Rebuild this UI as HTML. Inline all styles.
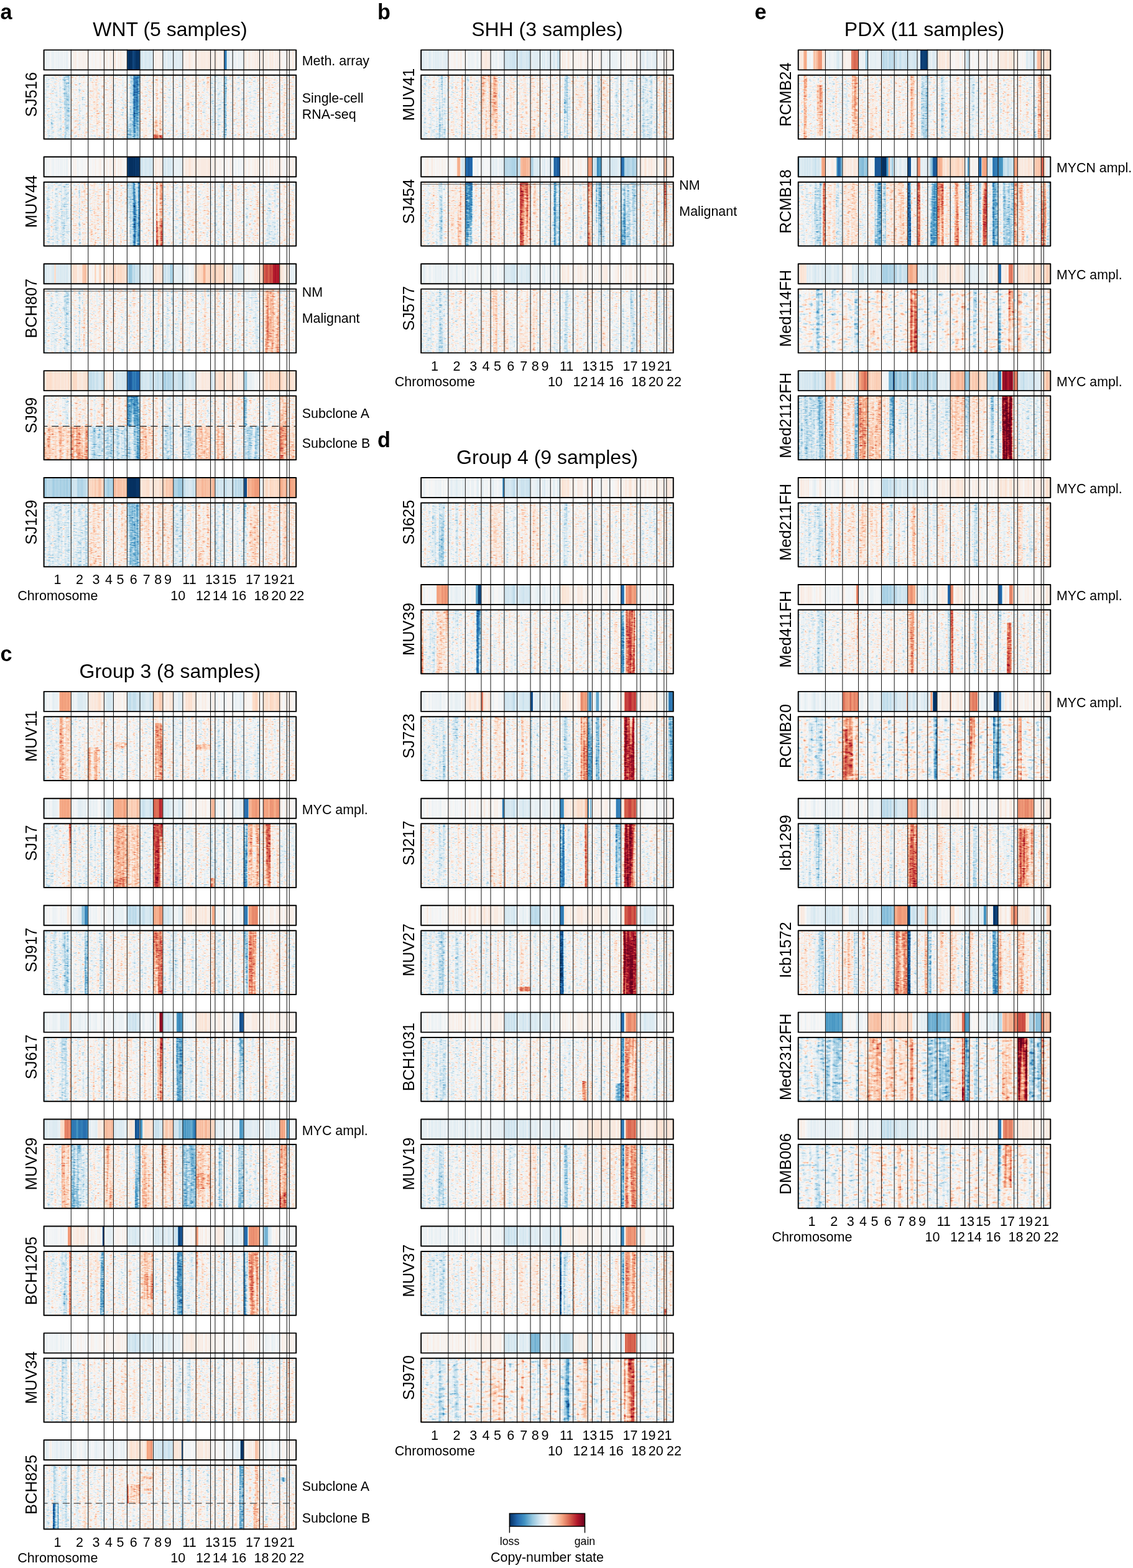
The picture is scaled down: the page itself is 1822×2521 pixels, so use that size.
<!DOCTYPE html>
<html lang="en"><head><meta charset="utf-8"><title>Copy-number state</title>
<style>
html,body{margin:0;padding:0;background:#fff}
body{width:1822px;height:2521px;overflow:hidden;position:relative}
svg{display:block;position:absolute;left:0;top:0}
text{font-family:"Liberation Sans",sans-serif;fill:#000}
.pl{font-size:34.2px;font-weight:bold}
.tt{font-size:32px;text-anchor:middle}
.sl{font-size:25.4px;text-anchor:middle}
.an{font-size:21.4px}
.ax{font-size:21.5px;text-anchor:middle}
.axl{font-size:21.5px}
.lg{font-size:17.7px;text-anchor:middle}
.lt{font-size:21.4px;text-anchor:middle}
.bx{fill:none;stroke:#000;stroke-width:1.95;stroke-linejoin:round}
.cl{stroke:#222;stroke-width:1.05;fill:none}
.ds{stroke:#222;stroke-width:1.05;stroke-dasharray:11 6.7;stroke-dashoffset:5.1;fill:none}
</style></head><body>
<svg width="1822" height="2521" viewBox="0 0 1822 2521">
<defs>
<linearGradient id="cb" x1="0" x2="1" y1="0" y2="0">
<stop offset="0" stop-color="#053061"/>
<stop offset="0.1" stop-color="#2166ac"/>
<stop offset="0.2" stop-color="#4393c3"/>
<stop offset="0.3" stop-color="#92c5de"/>
<stop offset="0.4" stop-color="#d1e5f0"/>
<stop offset="0.5" stop-color="#f7f7f7"/>
<stop offset="0.6" stop-color="#fddbc7"/>
<stop offset="0.7" stop-color="#f4a582"/>
<stop offset="0.8" stop-color="#d6604d"/>
<stop offset="0.9" stop-color="#b2182b"/>
<stop offset="1" stop-color="#67001f"/>
</linearGradient>
<filter id="fr" x="0" y="0" width="1" height="1" color-interpolation-filters="sRGB">
<feTurbulence type="fractalNoise" baseFrequency="0.16 0.5" numOctaves="3" seed="3" result="t1"/>
<feColorMatrix in="t1" type="matrix" values="1 0 0 0 0 1 0 0 0 0 1 0 0 0 0 0 0 0 0 1" result="n1"/>
<feTurbulence type="fractalNoise" baseFrequency="0.17 0.006" numOctaves="2" seed="11" result="t2"/>
<feColorMatrix in="t2" type="matrix" values="1 0 0 0 0 1 0 0 0 0 1 0 0 0 0 0 0 0 0 1" result="n2"/>
<feTurbulence type="fractalNoise" baseFrequency="0.22 0.01" numOctaves="2" seed="22" result="t3"/>
<feColorMatrix in="t3" type="matrix" values="1 0 0 0 0 1 0 0 0 0 1 0 0 0 0 0 0 0 0 1" result="n3"/>
<feComponentTransfer in="n2" result="n2c"><feFuncR type="table" tableValues="0.2 0.2 0.22 0.3 0.4 0.5 0.55 0.56 0.56 0.56 0.56"/><feFuncG type="table" tableValues="0.2 0.2 0.22 0.3 0.4 0.5 0.55 0.56 0.56 0.56 0.56"/><feFuncB type="table" tableValues="0.2 0.2 0.22 0.3 0.4 0.5 0.55 0.56 0.56 0.56 0.56"/></feComponentTransfer>
<feComposite in="SourceGraphic" in2="n2c" operator="arithmetic" k1="2.8" k2="-0.4" k3="-1.4" k4="0.7" result="m"/>
<feComponentTransfer in="n1" result="n1s"><feFuncR type="table" tableValues="0 0.1 0.2 0.34 0.46 0.5 0.54 0.66 0.8 0.9 1"/><feFuncG type="table" tableValues="0 0.1 0.2 0.34 0.46 0.5 0.54 0.66 0.8 0.9 1"/><feFuncB type="table" tableValues="0 0.1 0.2 0.34 0.46 0.5 0.54 0.66 0.8 0.9 1"/></feComponentTransfer>
<feComposite in="m" in2="n1s" operator="arithmetic" k1="0" k2="1" k3="0.5" k4="-0.25" result="v1"/>
<feComposite in="v1" in2="n3" operator="arithmetic" k1="0" k2="1" k3="0.2" k4="-0.1" result="v"/>
<feComponentTransfer in="v"><feFuncR type="table" tableValues="0.02 0.13 0.26 0.57 0.82 0.97 0.99 0.96 0.84 0.7 0.4"/><feFuncG type="table" tableValues="0.19 0.4 0.58 0.77 0.9 0.97 0.86 0.65 0.38 0.09 0"/><feFuncB type="table" tableValues="0.38 0.67 0.76 0.87 0.94 0.97 0.78 0.51 0.3 0.17 0.12"/></feComponentTransfer>
</filter>
<filter id="frc" x="0" y="0" width="1" height="1" color-interpolation-filters="sRGB">
<feTurbulence type="fractalNoise" baseFrequency="0.11 0.25" numOctaves="3" seed="5" result="t1"/>
<feColorMatrix in="t1" type="matrix" values="1 0 0 0 0 1 0 0 0 0 1 0 0 0 0 0 0 0 0 1" result="n1"/>
<feTurbulence type="fractalNoise" baseFrequency="0.17 0.006" numOctaves="2" seed="13" result="t2"/>
<feColorMatrix in="t2" type="matrix" values="1 0 0 0 0 1 0 0 0 0 1 0 0 0 0 0 0 0 0 1" result="n2"/>
<feTurbulence type="fractalNoise" baseFrequency="0.22 0.01" numOctaves="2" seed="24" result="t3"/>
<feColorMatrix in="t3" type="matrix" values="1 0 0 0 0 1 0 0 0 0 1 0 0 0 0 0 0 0 0 1" result="n3"/>
<feComponentTransfer in="n2" result="n2c"><feFuncR type="table" tableValues="0.2 0.2 0.22 0.3 0.4 0.5 0.55 0.56 0.56 0.56 0.56"/><feFuncG type="table" tableValues="0.2 0.2 0.22 0.3 0.4 0.5 0.55 0.56 0.56 0.56 0.56"/><feFuncB type="table" tableValues="0.2 0.2 0.22 0.3 0.4 0.5 0.55 0.56 0.56 0.56 0.56"/></feComponentTransfer>
<feComposite in="SourceGraphic" in2="n2c" operator="arithmetic" k1="2.8" k2="-0.4" k3="-1.4" k4="0.7" result="m"/>
<feComponentTransfer in="n1" result="n1s"><feFuncR type="table" tableValues="0 0.1 0.2 0.34 0.46 0.5 0.54 0.66 0.8 0.9 1"/><feFuncG type="table" tableValues="0 0.1 0.2 0.34 0.46 0.5 0.54 0.66 0.8 0.9 1"/><feFuncB type="table" tableValues="0 0.1 0.2 0.34 0.46 0.5 0.54 0.66 0.8 0.9 1"/></feComponentTransfer>
<feComposite in="m" in2="n1s" operator="arithmetic" k1="0" k2="1" k3="0.56" k4="-0.28" result="v1"/>
<feComposite in="v1" in2="n3" operator="arithmetic" k1="0" k2="1" k3="0.18" k4="-0.09" result="v"/>
<feComponentTransfer in="v"><feFuncR type="table" tableValues="0.02 0.13 0.26 0.57 0.82 0.97 0.99 0.96 0.84 0.7 0.4"/><feFuncG type="table" tableValues="0.19 0.4 0.58 0.77 0.9 0.97 0.86 0.65 0.38 0.09 0"/><feFuncB type="table" tableValues="0.38 0.67 0.76 0.87 0.94 0.97 0.78 0.51 0.3 0.17 0.12"/></feComponentTransfer>
</filter>
<filter id="fm" x="0" y="0" width="1" height="1" color-interpolation-filters="sRGB">
<feTurbulence type="fractalNoise" baseFrequency="0.3 0.0005" numOctaves="2" seed="5" result="t1"/>
<feColorMatrix in="t1" type="matrix" values="1 0 0 0 0 1 0 0 0 0 1 0 0 0 0 0 0 0 0 1" result="n1"/>
<feComposite in="SourceGraphic" in2="n1" operator="arithmetic" k1="0" k2="1" k3="0.12" k4="-0.06" result="v"/>
<feComponentTransfer in="v"><feFuncR type="table" tableValues="0.02 0.13 0.26 0.57 0.82 0.97 0.99 0.96 0.84 0.7 0.4"/><feFuncG type="table" tableValues="0.19 0.4 0.58 0.77 0.9 0.97 0.86 0.65 0.38 0.09 0"/><feFuncB type="table" tableValues="0.38 0.67 0.76 0.87 0.94 0.97 0.78 0.51 0.3 0.17 0.12"/></feComponentTransfer>
</filter>
</defs>
<g id="panel-a">
<g filter="url(#fm)"><rect x="70.6" y="80.35" width="405.6" height="32" fill="#808080"/><rect x="70.6" y="80.35" width="43.72" height="32" fill="#797979"/><rect x="114.32" y="80.35" width="27.45" height="32" fill="#858585"/><rect x="141.77" y="80.35" width="25.63" height="32" fill="#828282"/><rect x="167.4" y="80.35" width="15.05" height="32" fill="#868686"/><rect x="182.45" y="80.35" width="21.95" height="32" fill="#868686"/><rect x="204.4" y="80.35" width="20.65" height="32" fill="#000000"/><rect x="212.66" y="80.35" width="4.13" height="32" fill="#0a0a0a"/><rect x="225.05" y="80.35" width="21.45" height="32" fill="#6c6c6c"/><rect x="246.5" y="80.35" width="15.4" height="32" fill="#868686"/><rect x="261.9" y="80.35" width="16.8" height="32" fill="#707070"/><rect x="278.7" y="80.35" width="15.2" height="32" fill="#707070"/><rect x="293.9" y="80.35" width="21.24" height="32" fill="#878787"/><rect x="315.14" y="80.35" width="23.43" height="32" fill="#8a8a8a"/><rect x="338.57" y="80.35" width="7.33" height="32" fill="#868686"/><rect x="345.9" y="80.35" width="14.6" height="32" fill="#868686"/><rect x="360.5" y="80.35" width="13.7" height="32" fill="#757575"/><rect x="360.5" y="80.35" width="4.11" height="32" fill="#262626"/><rect x="374.2" y="80.35" width="17.85" height="32" fill="#797979"/><rect x="392.05" y="80.35" width="25.45" height="32" fill="#878787"/><rect x="417.5" y="80.35" width="5.8" height="32" fill="#868686"/><rect x="423.3" y="80.35" width="26.4" height="32" fill="#878787"/><rect x="449.7" y="80.35" width="11.56" height="32" fill="#838383"/><rect x="461.26" y="80.35" width="4.04" height="32" fill="#868686"/><rect x="465.3" y="80.35" width="10.9" height="32" fill="#868686"/></g>
<g filter="url(#fr)"><rect x="70.6" y="120.8" width="405.6" height="102.75" fill="#808080"/><rect x="70.6" y="120.8" width="43.72" height="102.75" fill="#787878"/><rect x="103.39" y="120.8" width="8.74" height="102.75" fill="#626262"/><rect x="114.32" y="120.8" width="27.45" height="102.75" fill="#838383"/><rect x="126.67" y="120.8" width="2.74" height="102.75" fill="#767676"/><rect x="141.77" y="120.8" width="25.63" height="102.75" fill="#858585"/><rect x="167.4" y="120.8" width="15.05" height="102.75" fill="#858585"/><rect x="182.45" y="120.8" width="21.95" height="102.75" fill="#838383"/><rect x="204.4" y="120.8" width="20.65" height="102.75" fill="#555555"/><rect x="214.73" y="120.8" width="10.32" height="102.75" fill="#363636"/><rect x="225.05" y="120.8" width="21.45" height="102.75" fill="#858585"/><rect x="246.5" y="120.8" width="15.4" height="102.75" fill="#878787"/><rect x="246.5" y="192.73" width="15.4" height="23.63" fill="#979797"/><rect x="246.5" y="216.36" width="15.4" height="7.19" fill="#bfbfbf"/><rect x="261.9" y="120.8" width="16.8" height="102.75" fill="#7c7c7c"/><rect x="278.7" y="120.8" width="15.2" height="102.75" fill="#7c7c7c"/><rect x="293.9" y="120.8" width="21.24" height="102.75" fill="#838383"/><rect x="315.14" y="120.8" width="23.43" height="102.75" fill="#848484"/><rect x="338.57" y="120.8" width="7.33" height="102.75" fill="#787878"/><rect x="345.9" y="120.8" width="14.6" height="102.75" fill="#787878"/><rect x="360.5" y="120.8" width="13.7" height="102.75" fill="#7c7c7c"/><rect x="360.5" y="120.8" width="4.11" height="102.75" fill="#4e4e4e"/><rect x="374.2" y="120.8" width="17.85" height="102.75" fill="#808080"/><rect x="392.05" y="120.8" width="25.45" height="102.75" fill="#828282"/><rect x="423.3" y="120.8" width="26.4" height="102.75" fill="#818181"/><rect x="449.7" y="120.8" width="11.56" height="102.75" fill="#838383"/><rect x="461.26" y="120.8" width="4.04" height="102.75" fill="#838383"/><rect x="465.3" y="120.8" width="10.9" height="102.75" fill="#838383"/></g>
<g filter="url(#fm)"><rect x="70.6" y="252.27" width="405.6" height="32" fill="#808080"/><rect x="70.6" y="252.27" width="43.72" height="32" fill="#7c7c7c"/><rect x="141.77" y="252.27" width="25.63" height="32" fill="#828282"/><rect x="167.4" y="252.27" width="15.05" height="32" fill="#868686"/><rect x="182.45" y="252.27" width="21.95" height="32" fill="#868686"/><rect x="204.4" y="252.27" width="20.65" height="32" fill="#000000"/><rect x="225.05" y="252.27" width="21.45" height="32" fill="#696969"/><rect x="246.5" y="252.27" width="15.4" height="32" fill="#8a8a8a"/><rect x="261.9" y="252.27" width="16.8" height="32" fill="#6c6c6c"/><rect x="278.7" y="252.27" width="15.2" height="32" fill="#757575"/><rect x="293.9" y="252.27" width="21.24" height="32" fill="#8a8a8a"/><rect x="315.14" y="252.27" width="23.43" height="32" fill="#8a8a8a"/><rect x="338.57" y="252.27" width="7.33" height="32" fill="#868686"/><rect x="345.9" y="252.27" width="14.6" height="32" fill="#838383"/><rect x="360.5" y="252.27" width="13.7" height="32" fill="#838383"/><rect x="374.2" y="252.27" width="17.85" height="32" fill="#7c7c7c"/><rect x="392.05" y="252.27" width="25.45" height="32" fill="#858585"/><rect x="417.5" y="252.27" width="5.8" height="32" fill="#838383"/><rect x="423.3" y="252.27" width="26.4" height="32" fill="#838383"/><rect x="449.7" y="252.27" width="11.56" height="32" fill="#838383"/><rect x="461.26" y="252.27" width="4.04" height="32" fill="#858585"/><rect x="465.3" y="252.27" width="10.9" height="32" fill="#858585"/></g>
<g filter="url(#fr)"><rect x="70.6" y="292.73" width="405.6" height="102.75" fill="#808080"/><rect x="70.6" y="292.73" width="43.72" height="102.75" fill="#767676"/><rect x="99.02" y="292.73" width="8.74" height="102.75" fill="#6b6b6b"/><rect x="114.32" y="292.73" width="27.45" height="102.75" fill="#838383"/><rect x="126.67" y="292.73" width="2.74" height="102.75" fill="#6e6e6e"/><rect x="134.91" y="292.73" width="2.75" height="102.75" fill="#919191"/><rect x="141.77" y="292.73" width="25.63" height="102.75" fill="#858585"/><rect x="167.4" y="292.73" width="15.05" height="102.75" fill="#838383"/><rect x="173.42" y="292.73" width="2.26" height="102.75" fill="#9d9d9d"/><rect x="182.45" y="292.73" width="21.95" height="102.75" fill="#838383"/><rect x="193.43" y="292.73" width="2.19" height="102.75" fill="#919191"/><rect x="204.4" y="292.73" width="20.65" height="102.75" fill="#585858"/><rect x="214.73" y="292.73" width="10.32" height="102.75" fill="#363636"/><rect x="225.05" y="292.73" width="21.45" height="102.75" fill="#838383"/><rect x="246.5" y="292.73" width="15.4" height="102.75" fill="#787878"/><rect x="251.12" y="292.73" width="10.78" height="61.65" fill="#aaaaaa"/><rect x="251.12" y="354.38" width="10.78" height="41.1" fill="#c6c6c6"/><rect x="261.9" y="292.73" width="16.8" height="102.75" fill="#838383"/><rect x="278.7" y="292.73" width="15.2" height="102.75" fill="#7c7c7c"/><rect x="293.9" y="292.73" width="21.24" height="102.75" fill="#858585"/><rect x="315.14" y="292.73" width="23.43" height="102.75" fill="#838383"/><rect x="338.57" y="292.73" width="7.33" height="102.75" fill="#838383"/><rect x="345.9" y="292.73" width="14.6" height="102.75" fill="#787878"/><rect x="360.5" y="292.73" width="13.7" height="102.75" fill="#818181"/><rect x="374.2" y="292.73" width="17.85" height="102.75" fill="#838383"/><rect x="392.05" y="292.73" width="25.45" height="102.75" fill="#828282"/><rect x="423.3" y="292.73" width="26.4" height="102.75" fill="#787878"/><rect x="436.5" y="354.38" width="10.56" height="41.1" fill="#686868"/><rect x="449.7" y="292.73" width="11.56" height="102.75" fill="#878787"/><rect x="461.26" y="292.73" width="4.04" height="102.75" fill="#838383"/><rect x="465.3" y="292.73" width="10.9" height="102.75" fill="#838383"/></g>
<g filter="url(#fm)"><rect x="70.6" y="424.19" width="405.6" height="32" fill="#808080"/><rect x="70.6" y="424.19" width="43.72" height="32" fill="#707070"/><rect x="87.21" y="424.19" width="2.62" height="32" fill="#999999"/><rect x="114.32" y="424.19" width="27.45" height="32" fill="#8f8f8f"/><rect x="132.16" y="424.19" width="6.86" height="32" fill="#a6a6a6"/><rect x="141.77" y="424.19" width="25.63" height="32" fill="#868686"/><rect x="152.02" y="424.19" width="2.56" height="32" fill="#999999"/><rect x="159.71" y="424.19" width="2.56" height="32" fill="#999999"/><rect x="167.4" y="424.19" width="15.05" height="32" fill="#939393"/><rect x="182.45" y="424.19" width="21.95" height="32" fill="#999999"/><rect x="204.4" y="424.19" width="20.65" height="32" fill="#606060"/><rect x="206.47" y="424.19" width="6.2" height="32" fill="#535353"/><rect x="225.05" y="424.19" width="21.45" height="32" fill="#737373"/><rect x="246.5" y="424.19" width="15.4" height="32" fill="#939393"/><rect x="261.9" y="424.19" width="16.8" height="32" fill="#666666"/><rect x="273.66" y="424.19" width="5.04" height="32" fill="#535353"/><rect x="278.7" y="424.19" width="15.2" height="32" fill="#737373"/><rect x="293.9" y="424.19" width="21.24" height="32" fill="#797979"/><rect x="311.95" y="424.19" width="3.19" height="32" fill="#8f8f8f"/><rect x="315.14" y="424.19" width="23.43" height="32" fill="#999999"/><rect x="326.86" y="424.19" width="3.51" height="32" fill="#acacac"/><rect x="338.57" y="424.19" width="7.33" height="32" fill="#999999"/><rect x="345.9" y="424.19" width="14.6" height="32" fill="#999999"/><rect x="360.5" y="424.19" width="13.7" height="32" fill="#8f8f8f"/><rect x="374.2" y="424.19" width="17.85" height="32" fill="#707070"/><rect x="392.05" y="424.19" width="25.45" height="32" fill="#838383"/><rect x="417.5" y="424.19" width="5.8" height="32" fill="#999999"/><rect x="423.3" y="424.19" width="26.4" height="32" fill="#cfcfcf"/><rect x="439.14" y="424.19" width="10.56" height="32" fill="#e3e3e3"/><rect x="449.7" y="424.19" width="11.56" height="32" fill="#8c8c8c"/><rect x="461.26" y="424.19" width="4.04" height="32" fill="#8c8c8c"/><rect x="465.3" y="424.19" width="10.9" height="32" fill="#757575"/></g>
<g filter="url(#fr)"><rect x="70.6" y="464.64" width="405.6" height="102.75" fill="#808080"/><rect x="70.6" y="464.64" width="43.72" height="102.75" fill="#787878"/><rect x="103.39" y="464.64" width="8.74" height="102.75" fill="#626262"/><rect x="114.32" y="464.64" width="27.45" height="102.75" fill="#808080"/><rect x="126.67" y="464.64" width="2.74" height="102.75" fill="#686868"/><rect x="134.08" y="464.64" width="2.75" height="102.75" fill="#979797"/><rect x="141.77" y="464.64" width="25.63" height="102.75" fill="#838383"/><rect x="167.4" y="464.64" width="15.05" height="102.75" fill="#838383"/><rect x="182.45" y="464.64" width="21.95" height="102.75" fill="#838383"/><rect x="204.4" y="464.64" width="20.65" height="102.75" fill="#838383"/><rect x="246.5" y="464.64" width="1.85" height="102.75" fill="#626262"/><rect x="253.43" y="464.64" width="2.31" height="102.75" fill="#919191"/><rect x="261.9" y="464.64" width="16.8" height="102.75" fill="#7a7a7a"/><rect x="274.5" y="464.64" width="2.52" height="102.75" fill="#6e6e6e"/><rect x="278.7" y="464.64" width="15.2" height="102.75" fill="#7c7c7c"/><rect x="293.9" y="464.64" width="21.24" height="102.75" fill="#818181"/><rect x="328.03" y="464.64" width="3.51" height="102.75" fill="#919191"/><rect x="338.57" y="464.64" width="7.33" height="102.75" fill="#787878"/><rect x="345.9" y="464.64" width="4.38" height="102.75" fill="#8c8c8c"/><rect x="360.5" y="464.64" width="13.7" height="102.75" fill="#838383"/><rect x="382.23" y="464.64" width="1.79" height="102.75" fill="#8c8c8c"/><rect x="392.05" y="464.64" width="25.45" height="102.75" fill="#787878"/><rect x="417.5" y="464.64" width="5.8" height="102.75" fill="#838383"/><rect x="423.3" y="464.64" width="26.4" height="102.75" fill="#9d9d9d"/><rect x="423.3" y="467.73" width="13.2" height="79.12" fill="#b1b1b1"/><rect x="425.94" y="546.85" width="13.2" height="20.55" fill="#aaaaaa"/><rect x="449.7" y="464.64" width="11.56" height="102.75" fill="#838383"/></g>
<g filter="url(#fm)"><rect x="70.6" y="596.12" width="405.6" height="32" fill="#808080"/><rect x="70.6" y="596.12" width="43.72" height="32" fill="#939393"/><rect x="114.32" y="596.12" width="27.45" height="32" fill="#939393"/><rect x="141.77" y="596.12" width="25.63" height="32" fill="#666666"/><rect x="167.4" y="596.12" width="15.05" height="32" fill="#8f8f8f"/><rect x="182.45" y="596.12" width="21.95" height="32" fill="#6c6c6c"/><rect x="204.4" y="596.12" width="20.65" height="32" fill="#191919"/><rect x="212.66" y="596.12" width="6.19" height="32" fill="#262626"/><rect x="225.05" y="596.12" width="21.45" height="32" fill="#666666"/><rect x="246.5" y="596.12" width="15.4" height="32" fill="#666666"/><rect x="261.9" y="596.12" width="16.8" height="32" fill="#595959"/><rect x="278.7" y="596.12" width="15.2" height="32" fill="#636363"/><rect x="293.9" y="596.12" width="21.24" height="32" fill="#696969"/><rect x="315.14" y="596.12" width="23.43" height="32" fill="#8a8a8a"/><rect x="338.57" y="596.12" width="7.33" height="32" fill="#6c6c6c"/><rect x="345.9" y="596.12" width="14.6" height="32" fill="#939393"/><rect x="360.5" y="596.12" width="13.7" height="32" fill="#8f8f8f"/><rect x="374.2" y="596.12" width="17.85" height="32" fill="#8a8a8a"/><rect x="392.05" y="596.12" width="25.45" height="32" fill="#797979"/><rect x="392.05" y="596.12" width="5.09" height="32" fill="#535353"/><rect x="417.5" y="596.12" width="5.8" height="32" fill="#838383"/><rect x="423.3" y="596.12" width="26.4" height="32" fill="#939393"/><rect x="449.7" y="596.12" width="11.56" height="32" fill="#969696"/><rect x="461.26" y="596.12" width="4.04" height="32" fill="#8c8c8c"/><rect x="465.3" y="596.12" width="10.9" height="32" fill="#939393"/></g>
<g filter="url(#fr)"><rect x="70.6" y="636.57" width="405.6" height="102.75" fill="#808080"/><rect x="70.6" y="636.57" width="43.72" height="48.81" fill="#838383"/><rect x="103.39" y="636.57" width="6.56" height="48.81" fill="#6e6e6e"/><rect x="114.32" y="636.57" width="27.45" height="48.81" fill="#898989"/><rect x="141.77" y="636.57" width="25.63" height="48.81" fill="#878787"/><rect x="167.4" y="636.57" width="15.05" height="48.81" fill="#858585"/><rect x="182.45" y="636.57" width="21.95" height="48.81" fill="#898989"/><rect x="204.4" y="636.57" width="20.65" height="48.81" fill="#393939"/><rect x="225.05" y="636.57" width="21.45" height="48.81" fill="#878787"/><rect x="246.5" y="636.57" width="15.4" height="48.81" fill="#838383"/><rect x="261.9" y="636.57" width="16.8" height="48.81" fill="#767676"/><rect x="278.7" y="636.57" width="15.2" height="48.81" fill="#7e7e7e"/><rect x="293.9" y="636.57" width="21.24" height="48.81" fill="#878787"/><rect x="315.14" y="636.57" width="23.43" height="48.81" fill="#818181"/><rect x="338.57" y="636.57" width="7.33" height="48.81" fill="#787878"/><rect x="345.9" y="636.57" width="14.6" height="48.81" fill="#878787"/><rect x="360.5" y="636.57" width="13.7" height="48.81" fill="#838383"/><rect x="374.2" y="636.57" width="17.85" height="48.81" fill="#838383"/><rect x="392.05" y="636.57" width="25.45" height="48.81" fill="#818181"/><rect x="392.05" y="636.57" width="5.09" height="48.81" fill="#474747"/><rect x="423.3" y="636.57" width="26.4" height="48.81" fill="#7c7c7c"/><rect x="449.7" y="636.57" width="11.56" height="48.81" fill="#9d9d9d"/><rect x="461.26" y="636.57" width="4.04" height="48.81" fill="#8c8c8c"/><rect x="465.3" y="636.57" width="10.9" height="48.81" fill="#919191"/><rect x="70.6" y="685.37" width="43.72" height="53.94" fill="#9d9d9d"/><rect x="114.32" y="685.37" width="27.45" height="53.94" fill="#aaaaaa"/><rect x="141.77" y="685.37" width="25.63" height="53.94" fill="#626262"/><rect x="167.4" y="685.37" width="15.05" height="53.94" fill="#626262"/><rect x="182.45" y="685.37" width="21.95" height="53.94" fill="#626262"/><rect x="204.4" y="685.37" width="20.65" height="53.94" fill="#474747"/><rect x="204.4" y="685.37" width="8.26" height="53.94" fill="#686868"/><rect x="225.05" y="685.37" width="21.45" height="53.94" fill="#9d9d9d"/><rect x="246.5" y="685.37" width="15.4" height="53.94" fill="#898989"/><rect x="261.9" y="685.37" width="16.8" height="53.94" fill="#626262"/><rect x="278.7" y="685.37" width="15.2" height="53.94" fill="#7c7c7c"/><rect x="293.9" y="685.37" width="21.24" height="53.94" fill="#626262"/><rect x="315.14" y="685.37" width="23.43" height="53.94" fill="#9d9d9d"/><rect x="338.57" y="685.37" width="7.33" height="53.94" fill="#787878"/><rect x="345.9" y="685.37" width="14.6" height="53.94" fill="#9d9d9d"/><rect x="360.5" y="685.37" width="13.7" height="53.94" fill="#878787"/><rect x="374.2" y="685.37" width="17.85" height="53.94" fill="#818181"/><rect x="392.05" y="685.37" width="25.45" height="53.94" fill="#555555"/><rect x="423.3" y="685.37" width="26.4" height="53.94" fill="#919191"/><rect x="449.7" y="685.37" width="11.56" height="53.94" fill="#b1b1b1"/><rect x="461.26" y="685.37" width="4.04" height="53.94" fill="#8c8c8c"/><rect x="465.3" y="685.37" width="10.9" height="53.94" fill="#979797"/></g>
<g filter="url(#fm)"><rect x="70.6" y="768.03" width="405.6" height="32" fill="#808080"/><rect x="70.6" y="768.03" width="43.72" height="32" fill="#595959"/><rect x="114.32" y="768.03" width="27.45" height="32" fill="#606060"/><rect x="141.77" y="768.03" width="25.63" height="32" fill="#9f9f9f"/><rect x="167.4" y="768.03" width="15.05" height="32" fill="#595959"/><rect x="182.45" y="768.03" width="21.95" height="32" fill="#a6a6a6"/><rect x="204.4" y="768.03" width="20.65" height="32" fill="#000000"/><rect x="225.05" y="768.03" width="21.45" height="32" fill="#8f8f8f"/><rect x="246.5" y="768.03" width="15.4" height="32" fill="#939393"/><rect x="261.9" y="768.03" width="16.8" height="32" fill="#9f9f9f"/><rect x="278.7" y="768.03" width="15.2" height="32" fill="#535353"/><rect x="293.9" y="768.03" width="21.24" height="32" fill="#666666"/><rect x="315.14" y="768.03" width="23.43" height="32" fill="#a6a6a6"/><rect x="338.57" y="768.03" width="7.33" height="32" fill="#a6a6a6"/><rect x="345.9" y="768.03" width="14.6" height="32" fill="#666666"/><rect x="360.5" y="768.03" width="13.7" height="32" fill="#666666"/><rect x="374.2" y="768.03" width="17.85" height="32" fill="#606060"/><rect x="392.05" y="768.03" width="25.45" height="32" fill="#b2b2b2"/><rect x="392.05" y="768.03" width="5.09" height="32" fill="#0d0d0d"/><rect x="417.5" y="768.03" width="5.8" height="32" fill="#797979"/><rect x="423.3" y="768.03" width="26.4" height="32" fill="#939393"/><rect x="449.7" y="768.03" width="11.56" height="32" fill="#acacac"/><rect x="461.26" y="768.03" width="4.04" height="32" fill="#8c8c8c"/><rect x="465.3" y="768.03" width="10.9" height="32" fill="#b2b2b2"/></g>
<g filter="url(#fr)"><rect x="70.6" y="808.49" width="405.6" height="102.75" fill="#808080"/><rect x="70.6" y="808.49" width="43.72" height="102.75" fill="#6e6e6e"/><rect x="114.32" y="808.49" width="27.45" height="102.75" fill="#6e6e6e"/><rect x="141.77" y="808.49" width="25.63" height="102.75" fill="#919191"/><rect x="167.4" y="808.49" width="15.05" height="102.75" fill="#7c7c7c"/><rect x="182.45" y="808.49" width="21.95" height="102.75" fill="#8c8c8c"/><rect x="204.4" y="808.49" width="20.65" height="102.75" fill="#474747"/><rect x="225.05" y="808.49" width="21.45" height="102.75" fill="#8c8c8c"/><rect x="246.5" y="808.49" width="15.4" height="102.75" fill="#8c8c8c"/><rect x="261.9" y="808.49" width="16.8" height="102.75" fill="#919191"/><rect x="278.7" y="808.49" width="15.2" height="102.75" fill="#6e6e6e"/><rect x="293.9" y="808.49" width="21.24" height="102.75" fill="#7c7c7c"/><rect x="315.14" y="808.49" width="23.43" height="102.75" fill="#919191"/><rect x="338.57" y="808.49" width="7.33" height="102.75" fill="#838383"/><rect x="345.9" y="808.49" width="14.6" height="102.75" fill="#6e6e6e"/><rect x="360.5" y="808.49" width="13.7" height="102.75" fill="#767676"/><rect x="374.2" y="808.49" width="17.85" height="102.75" fill="#7a7a7a"/><rect x="392.05" y="808.49" width="25.45" height="102.75" fill="#919191"/><rect x="392.05" y="808.49" width="5.09" height="102.75" fill="#4e4e4e"/><rect x="423.3" y="808.49" width="26.4" height="102.75" fill="#8c8c8c"/><rect x="449.7" y="808.49" width="11.56" height="102.75" fill="#919191"/><rect x="465.3" y="808.49" width="10.9" height="102.75" fill="#8c8c8c"/></g>
<path class="cl" d="M114.32 79.38V912.21M141.77 79.38V912.21M167.4 79.38V912.21M182.45 79.38V912.21M204.4 79.38V912.21M225.05 79.38V912.21M246.5 79.38V912.21M261.9 79.38V912.21M278.7 79.38V912.21M293.9 79.38V912.21M315.14 79.38V912.21M338.57 79.38V912.21M345.9 79.38V912.21M360.5 79.38V912.21M374.2 79.38V912.21M392.05 79.38V912.21M417.5 79.38V912.21M423.3 79.38V912.21M449.7 79.38V912.21M461.26 79.38V912.21M465.3 79.38V912.21"/>
<rect class="bx" x="70.6" y="80.35" width="405.6" height="32"/>
<rect class="bx" x="70.6" y="120.8" width="405.6" height="102.75"/>
<text class="sl" transform="translate(59.2 151.95) rotate(-90)">SJ516</text>
<text class="an" x="485.8" y="105.48">Meth. array</text>
<text class="an" x="485.8" y="165.23">Single-cell</text>
<text class="an" x="485.8" y="191.23">RNA-seq</text>
<rect class="bx" x="70.6" y="252.27" width="405.6" height="32"/>
<rect class="bx" x="70.6" y="292.73" width="405.6" height="102.75"/>
<text class="sl" transform="translate(59.2 323.88) rotate(-90)">MUV44</text>
<rect class="bx" x="70.6" y="424.19" width="405.6" height="32"/>
<rect class="bx" x="70.6" y="464.64" width="405.6" height="102.75"/>
<path d="M70.6 468.17H476.2" stroke="#333" stroke-width="0.7" fill="none"/>
<text class="sl" transform="translate(59.2 495.79) rotate(-90)">BCH807</text>
<text class="an" x="485.8" y="477.27">NM</text>
<text class="an" x="485.8" y="519.17">Malignant</text>
<rect class="bx" x="70.6" y="596.12" width="405.6" height="32"/>
<rect class="bx" x="70.6" y="636.57" width="405.6" height="102.75"/>
<path class="ds" d="M70.6 685.39H476.2"/>
<text class="sl" transform="translate(59.2 667.72) rotate(-90)">SJ99</text>
<text class="an" x="485.8" y="672.19">Subclone A</text>
<text class="an" x="485.8" y="719.79">Subclone B</text>
<rect class="bx" x="70.6" y="768.03" width="405.6" height="32"/>
<rect class="bx" x="70.6" y="808.49" width="405.6" height="102.75"/>
<text class="sl" transform="translate(59.2 839.63) rotate(-90)">SJ129</text>
<text class="tt" x="273.4" y="58.48">WNT (5 samples)</text>
<text class="pl" x="0.5" y="31.38">a</text>
<text class="ax" x="92.46" y="939.41">1</text>
<text class="ax" x="128.05" y="939.41">2</text>
<text class="ax" x="154.59" y="939.41">3</text>
<text class="ax" x="174.93" y="939.41">4</text>
<text class="ax" x="193.43" y="939.41">5</text>
<text class="ax" x="214.73" y="939.41">6</text>
<text class="ax" x="235.78" y="939.41">7</text>
<text class="ax" x="254.2" y="939.41">8</text>
<text class="ax" x="270" y="939.41">9</text>
<text class="ax" x="304.52" y="939.41">11</text>
<text class="ax" x="341.84" y="939.41">13</text>
<text class="ax" x="368.15" y="939.41">15</text>
<text class="ax" x="406.97" y="939.41">17</text>
<text class="ax" x="436" y="939.41">19</text>
<text class="ax" x="462.08" y="939.41">21</text>
<text class="axl" x="28.3" y="964.61">Chromosome</text>
<text class="ax" x="286.3" y="964.61">10</text>
<text class="ax" x="326.86" y="964.61">12</text>
<text class="ax" x="353.6" y="964.61">14</text>
<text class="ax" x="384.32" y="964.61">16</text>
<text class="ax" x="420.4" y="964.61">18</text>
<text class="ax" x="448.28" y="964.61">20</text>
<text class="ax" x="477.35" y="964.61">22</text>
</g>
<g id="panel-b">
<g filter="url(#fm)"><rect x="677.15" y="80.35" width="405.6" height="32" fill="#808080"/><rect x="677.15" y="80.35" width="43.72" height="32" fill="#737373"/><rect x="720.87" y="80.35" width="27.45" height="32" fill="#838383"/><rect x="748.32" y="80.35" width="25.63" height="32" fill="#7a7a7a"/><rect x="773.95" y="80.35" width="15.05" height="32" fill="#8a8a8a"/><rect x="789" y="80.35" width="21.95" height="32" fill="#797979"/><rect x="810.95" y="80.35" width="20.65" height="32" fill="#666666"/><rect x="831.6" y="80.35" width="21.45" height="32" fill="#696969"/><rect x="853.05" y="80.35" width="15.4" height="32" fill="#707070"/><rect x="868.45" y="80.35" width="16.8" height="32" fill="#707070"/><rect x="885.25" y="80.35" width="15.2" height="32" fill="#707070"/><rect x="895.89" y="80.35" width="4.56" height="32" fill="#666666"/><rect x="900.45" y="80.35" width="21.24" height="32" fill="#868686"/><rect x="921.69" y="80.35" width="23.43" height="32" fill="#858585"/><rect x="945.12" y="80.35" width="7.33" height="32" fill="#868686"/><rect x="952.45" y="80.35" width="14.6" height="32" fill="#838383"/><rect x="967.05" y="80.35" width="13.7" height="32" fill="#7a7a7a"/><rect x="980.75" y="80.35" width="17.85" height="32" fill="#787878"/><rect x="1024.05" y="80.35" width="5.8" height="32" fill="#838383"/><rect x="1029.85" y="80.35" width="26.4" height="32" fill="#757575"/><rect x="1067.81" y="80.35" width="4.04" height="32" fill="#838383"/><rect x="1071.85" y="80.35" width="10.9" height="32" fill="#838383"/></g>
<g filter="url(#fr)"><rect x="677.15" y="120.8" width="405.6" height="102.75" fill="#808080"/><rect x="677.15" y="120.8" width="43.72" height="102.75" fill="#787878"/><rect x="705.57" y="120.8" width="6.56" height="102.75" fill="#5b5b5b"/><rect x="720.87" y="120.8" width="27.45" height="102.75" fill="#818181"/><rect x="720.87" y="120.8" width="1.65" height="102.75" fill="#919191"/><rect x="741.46" y="120.8" width="2.75" height="102.75" fill="#9d9d9d"/><rect x="748.32" y="120.8" width="25.63" height="102.75" fill="#7e7e7e"/><rect x="773.95" y="120.8" width="15.05" height="102.75" fill="#9d9d9d"/><rect x="789" y="120.8" width="21.95" height="102.75" fill="#838383"/><rect x="789" y="120.8" width="10.97" height="102.75" fill="#9d9d9d"/><rect x="810.95" y="120.8" width="20.65" height="102.75" fill="#7e7e7e"/><rect x="821.27" y="120.8" width="2.06" height="102.75" fill="#8c8c8c"/><rect x="831.6" y="120.8" width="21.45" height="102.75" fill="#858585"/><rect x="853.05" y="120.8" width="15.4" height="102.75" fill="#878787"/><rect x="854.59" y="120.8" width="6.16" height="102.75" fill="#919191"/><rect x="868.45" y="120.8" width="16.8" height="102.75" fill="#838383"/><rect x="885.25" y="120.8" width="15.2" height="102.75" fill="#818181"/><rect x="900.45" y="120.8" width="21.24" height="102.75" fill="#7c7c7c"/><rect x="906.82" y="120.8" width="6.37" height="102.75" fill="#5b5b5b"/><rect x="921.69" y="120.8" width="23.43" height="102.75" fill="#838383"/><rect x="945.12" y="120.8" width="7.33" height="102.75" fill="#919191"/><rect x="959.75" y="120.8" width="5.84" height="102.75" fill="#6e6e6e"/><rect x="965.59" y="120.8" width="1.46" height="102.75" fill="#b8b8b8"/><rect x="967.05" y="120.8" width="13.7" height="102.75" fill="#838383"/><rect x="980.75" y="120.8" width="17.85" height="102.75" fill="#7a7a7a"/><rect x="998.6" y="120.8" width="25.45" height="102.75" fill="#7a7a7a"/><rect x="1029.85" y="120.8" width="26.4" height="102.75" fill="#737373"/><rect x="1032.49" y="120.8" width="3.96" height="102.75" fill="#626262"/><rect x="1044.37" y="120.8" width="5.28" height="102.75" fill="#686868"/><rect x="1056.25" y="120.8" width="11.56" height="102.75" fill="#838383"/><rect x="1067.81" y="120.8" width="4.04" height="102.75" fill="#9d9d9d"/><rect x="1071.85" y="120.8" width="10.9" height="102.75" fill="#878787"/></g>
<g filter="url(#fm)"><rect x="677.15" y="252.27" width="405.6" height="32" fill="#808080"/><rect x="677.15" y="252.27" width="43.72" height="32" fill="#838383"/><rect x="734.6" y="252.27" width="6.04" height="32" fill="#acacac"/><rect x="740.63" y="252.27" width="7.69" height="32" fill="#6c6c6c"/><rect x="748.32" y="252.27" width="25.63" height="32" fill="#7c7c7c"/><rect x="748.32" y="252.27" width="11.53" height="32" fill="#191919"/><rect x="773.95" y="252.27" width="15.05" height="32" fill="#7c7c7c"/><rect x="789" y="252.27" width="21.95" height="32" fill="#757575"/><rect x="810.95" y="252.27" width="20.65" height="32" fill="#595959"/><rect x="831.6" y="252.27" width="21.45" height="32" fill="#acacac"/><rect x="831.6" y="252.27" width="5.36" height="32" fill="#606060"/><rect x="853.05" y="252.27" width="15.4" height="32" fill="#6c6c6c"/><rect x="853.05" y="252.27" width="4.62" height="32" fill="#535353"/><rect x="868.45" y="252.27" width="16.8" height="32" fill="#737373"/><rect x="885.25" y="252.27" width="15.2" height="32" fill="#191919"/><rect x="885.25" y="252.27" width="5.32" height="32" fill="#737373"/><rect x="900.45" y="252.27" width="21.24" height="32" fill="#868686"/><rect x="921.69" y="252.27" width="23.43" height="32" fill="#838383"/><rect x="945.12" y="252.27" width="7.33" height="32" fill="#b9b9b9"/><rect x="952.45" y="252.27" width="14.6" height="32" fill="#333333"/><rect x="952.45" y="252.27" width="7.3" height="32" fill="#666666"/><rect x="967.05" y="252.27" width="13.7" height="32" fill="#737373"/><rect x="980.75" y="252.27" width="17.85" height="32" fill="#6c6c6c"/><rect x="998.6" y="252.27" width="25.45" height="32" fill="#595959"/><rect x="998.6" y="252.27" width="5.09" height="32" fill="#202020"/><rect x="1029.85" y="252.27" width="26.4" height="32" fill="#8a8a8a"/><rect x="1056.25" y="252.27" width="11.56" height="32" fill="#838383"/><rect x="1067.81" y="252.27" width="4.04" height="32" fill="#a6a6a6"/><rect x="1071.85" y="252.27" width="10.9" height="32" fill="#868686"/></g>
<g filter="url(#fr)"><rect x="677.15" y="292.73" width="405.6" height="102.75" fill="#808080"/><rect x="705.57" y="292.73" width="6.56" height="102.75" fill="#686868"/><rect x="720.87" y="292.73" width="27.45" height="102.75" fill="#878787"/><rect x="735.97" y="292.73" width="5.49" height="102.75" fill="#a4a4a4"/><rect x="748.32" y="292.73" width="25.63" height="102.75" fill="#838383"/><rect x="748.32" y="292.73" width="11.53" height="102.75" fill="#313131"/><rect x="773.95" y="292.73" width="15.05" height="102.75" fill="#858585"/><rect x="789" y="292.73" width="21.95" height="102.75" fill="#878787"/><rect x="793.39" y="292.73" width="6.58" height="102.75" fill="#919191"/><rect x="810.95" y="292.73" width="20.65" height="102.75" fill="#7e7e7e"/><rect x="831.6" y="292.73" width="21.45" height="102.75" fill="#c6c6c6"/><rect x="831.6" y="292.73" width="4.29" height="102.75" fill="#808080"/><rect x="853.05" y="292.73" width="15.4" height="102.75" fill="#878787"/><rect x="857.67" y="292.73" width="4.62" height="102.75" fill="#919191"/><rect x="868.45" y="292.73" width="16.8" height="102.75" fill="#7c7c7c"/><rect x="885.25" y="292.73" width="15.2" height="102.75" fill="#393939"/><rect x="885.25" y="292.73" width="5.32" height="102.75" fill="#7c7c7c"/><rect x="900.45" y="292.73" width="21.24" height="102.75" fill="#7e7e7e"/><rect x="945.12" y="292.73" width="7.33" height="102.75" fill="#c6c6c6"/><rect x="952.45" y="292.73" width="14.6" height="102.75" fill="#404040"/><rect x="952.45" y="292.73" width="5.84" height="102.75" fill="#787878"/><rect x="967.05" y="292.73" width="13.7" height="102.75" fill="#737373"/><rect x="980.75" y="292.73" width="17.85" height="102.75" fill="#7c7c7c"/><rect x="998.6" y="292.73" width="25.45" height="102.75" fill="#626262"/><rect x="998.6" y="292.73" width="7.63" height="102.75" fill="#474747"/><rect x="1024.05" y="292.73" width="5.8" height="102.75" fill="#7c7c7c"/><rect x="1029.85" y="292.73" width="26.4" height="102.75" fill="#7e7e7e"/><rect x="1056.25" y="292.73" width="11.56" height="102.75" fill="#838383"/><rect x="1067.81" y="292.73" width="4.04" height="102.75" fill="#c6c6c6"/><rect x="1071.85" y="292.73" width="10.9" height="102.75" fill="#878787"/></g>
<g filter="url(#fm)"><rect x="677.15" y="424.19" width="405.6" height="32" fill="#808080"/><rect x="677.15" y="424.19" width="43.72" height="32" fill="#787878"/><rect x="720.87" y="424.19" width="27.45" height="32" fill="#7a7a7a"/><rect x="748.32" y="424.19" width="25.63" height="32" fill="#7a7a7a"/><rect x="773.95" y="424.19" width="15.05" height="32" fill="#7a7a7a"/><rect x="789" y="424.19" width="21.95" height="32" fill="#797979"/><rect x="810.95" y="424.19" width="20.65" height="32" fill="#696969"/><rect x="831.6" y="424.19" width="21.45" height="32" fill="#707070"/><rect x="853.05" y="424.19" width="15.4" height="32" fill="#757575"/><rect x="868.45" y="424.19" width="16.8" height="32" fill="#757575"/><rect x="885.25" y="424.19" width="15.2" height="32" fill="#797979"/><rect x="900.45" y="424.19" width="21.24" height="32" fill="#868686"/><rect x="921.69" y="424.19" width="23.43" height="32" fill="#878787"/><rect x="945.12" y="424.19" width="7.33" height="32" fill="#858585"/><rect x="952.45" y="424.19" width="14.6" height="32" fill="#858585"/><rect x="967.05" y="424.19" width="13.7" height="32" fill="#858585"/><rect x="980.75" y="424.19" width="17.85" height="32" fill="#858585"/><rect x="998.6" y="424.19" width="25.45" height="32" fill="#858585"/><rect x="1024.05" y="424.19" width="5.8" height="32" fill="#858585"/><rect x="1029.85" y="424.19" width="26.4" height="32" fill="#858585"/><rect x="1056.25" y="424.19" width="11.56" height="32" fill="#858585"/><rect x="1067.81" y="424.19" width="4.04" height="32" fill="#858585"/><rect x="1071.85" y="424.19" width="10.9" height="32" fill="#858585"/></g>
<g filter="url(#fr)"><rect x="677.15" y="464.64" width="405.6" height="102.75" fill="#808080"/><rect x="677.15" y="464.64" width="43.72" height="102.75" fill="#787878"/><rect x="705.57" y="464.64" width="6.56" height="102.75" fill="#626262"/><rect x="740.63" y="464.64" width="2.74" height="102.75" fill="#8c8c8c"/><rect x="773.95" y="464.64" width="15.05" height="102.75" fill="#858585"/><rect x="789" y="464.64" width="21.95" height="102.75" fill="#858585"/><rect x="793.39" y="464.64" width="6.58" height="102.75" fill="#9d9d9d"/><rect x="810.95" y="464.64" width="20.65" height="102.75" fill="#818181"/><rect x="810.95" y="464.64" width="3.1" height="102.75" fill="#919191"/><rect x="831.6" y="464.64" width="21.45" height="102.75" fill="#878787"/><rect x="857.67" y="464.64" width="6.16" height="102.75" fill="#979797"/><rect x="868.45" y="464.64" width="16.8" height="102.75" fill="#818181"/><rect x="885.25" y="464.64" width="15.2" height="102.75" fill="#7c7c7c"/><rect x="900.45" y="464.64" width="21.24" height="102.75" fill="#7a7a7a"/><rect x="906.82" y="464.64" width="6.37" height="102.75" fill="#626262"/><rect x="945.12" y="464.64" width="7.33" height="102.75" fill="#898989"/><rect x="967.05" y="464.64" width="13.7" height="102.75" fill="#818181"/><rect x="998.6" y="464.64" width="25.45" height="102.75" fill="#7c7c7c"/><rect x="1013.87" y="464.64" width="7.63" height="102.75" fill="#626262"/><rect x="1029.85" y="464.64" width="26.4" height="102.75" fill="#818181"/><rect x="1052.29" y="464.64" width="3.96" height="102.75" fill="#919191"/><rect x="1056.25" y="464.64" width="11.56" height="102.75" fill="#787878"/><rect x="1071.85" y="464.64" width="10.9" height="102.75" fill="#818181"/></g>
<path class="cl" d="M720.87 79.38V568.37M748.32 79.38V568.37M773.95 79.38V568.37M789 79.38V568.37M810.95 79.38V568.37M831.6 79.38V568.37M853.05 79.38V568.37M868.45 79.38V568.37M885.25 79.38V568.37M900.45 79.38V568.37M921.69 79.38V568.37M945.12 79.38V568.37M952.45 79.38V568.37M967.05 79.38V568.37M980.75 79.38V568.37M998.6 79.38V568.37M1024.05 79.38V568.37M1029.85 79.38V568.37M1056.25 79.38V568.37M1067.81 79.38V568.37M1071.85 79.38V568.37"/>
<rect class="bx" x="677.15" y="80.35" width="405.6" height="32"/>
<rect class="bx" x="677.15" y="120.8" width="405.6" height="102.75"/>
<text class="sl" transform="translate(665.75 151.95) rotate(-90)">MUV41</text>
<rect class="bx" x="677.15" y="252.27" width="405.6" height="32"/>
<rect class="bx" x="677.15" y="292.73" width="405.6" height="102.75"/>
<path d="M677.15 296.25H1082.75" stroke="#333" stroke-width="0.7" fill="none"/>
<text class="sl" transform="translate(665.75 323.88) rotate(-90)">SJ454</text>
<text class="an" x="1092.35" y="305.35">NM</text>
<text class="an" x="1092.35" y="347.25">Malignant</text>
<rect class="bx" x="677.15" y="424.19" width="405.6" height="32"/>
<rect class="bx" x="677.15" y="464.64" width="405.6" height="102.75"/>
<text class="sl" transform="translate(665.75 495.79) rotate(-90)">SJ577</text>
<text class="tt" x="879.95" y="58.48">SHH (3 samples)</text>
<text class="pl" x="607.05" y="31.38">b</text>
<text class="ax" x="699.01" y="595.57">1</text>
<text class="ax" x="734.6" y="595.57">2</text>
<text class="ax" x="761.13" y="595.57">3</text>
<text class="ax" x="781.47" y="595.57">4</text>
<text class="ax" x="799.97" y="595.57">5</text>
<text class="ax" x="821.27" y="595.57">6</text>
<text class="ax" x="842.32" y="595.57">7</text>
<text class="ax" x="860.75" y="595.57">8</text>
<text class="ax" x="876.55" y="595.57">9</text>
<text class="ax" x="911.07" y="595.57">11</text>
<text class="ax" x="948.38" y="595.57">13</text>
<text class="ax" x="974.7" y="595.57">15</text>
<text class="ax" x="1013.52" y="595.57">17</text>
<text class="ax" x="1042.55" y="595.57">19</text>
<text class="ax" x="1068.63" y="595.57">21</text>
<text class="axl" x="634.85" y="620.77">Chromosome</text>
<text class="ax" x="892.85" y="620.77">10</text>
<text class="ax" x="933.4" y="620.77">12</text>
<text class="ax" x="960.15" y="620.77">14</text>
<text class="ax" x="990.88" y="620.77">16</text>
<text class="ax" x="1026.95" y="620.77">18</text>
<text class="ax" x="1054.83" y="620.77">20</text>
<text class="ax" x="1083.9" y="620.77">22</text>
</g>
<g id="panel-c">
<g filter="url(#fm)"><rect x="70.6" y="1111.88" width="405.6" height="32" fill="#808080"/><rect x="70.6" y="1111.88" width="43.72" height="32" fill="#787878"/><rect x="95.52" y="1111.88" width="18.8" height="32" fill="#b5b5b5"/><rect x="114.32" y="1111.88" width="27.45" height="32" fill="#737373"/><rect x="141.77" y="1111.88" width="25.63" height="32" fill="#8f8f8f"/><rect x="167.4" y="1111.88" width="15.05" height="32" fill="#6c6c6c"/><rect x="182.45" y="1111.88" width="21.95" height="32" fill="#878787"/><rect x="204.4" y="1111.88" width="20.65" height="32" fill="#666666"/><rect x="225.05" y="1111.88" width="21.45" height="32" fill="#696969"/><rect x="246.5" y="1111.88" width="15.4" height="32" fill="#9c9c9c"/><rect x="261.9" y="1111.88" width="16.8" height="32" fill="#8a8a8a"/><rect x="278.7" y="1111.88" width="15.2" height="32" fill="#737373"/><rect x="293.9" y="1111.88" width="21.24" height="32" fill="#8f8f8f"/><rect x="315.14" y="1111.88" width="23.43" height="32" fill="#858585"/><rect x="338.57" y="1111.88" width="7.33" height="32" fill="#838383"/><rect x="345.9" y="1111.88" width="14.6" height="32" fill="#7c7c7c"/><rect x="360.5" y="1111.88" width="13.7" height="32" fill="#7c7c7c"/><rect x="374.2" y="1111.88" width="17.85" height="32" fill="#787878"/><rect x="392.05" y="1111.88" width="25.45" height="32" fill="#868686"/><rect x="406.05" y="1111.88" width="8.91" height="32" fill="#969696"/><rect x="423.3" y="1111.88" width="26.4" height="32" fill="#939393"/><rect x="449.7" y="1111.88" width="11.56" height="32" fill="#858585"/><rect x="461.26" y="1111.88" width="4.04" height="32" fill="#838383"/><rect x="465.3" y="1111.88" width="10.9" height="32" fill="#838383"/></g>
<g filter="url(#fr)"><rect x="70.6" y="1152.33" width="405.6" height="102.75" fill="#808080"/><rect x="70.6" y="1152.33" width="43.72" height="102.75" fill="#767676"/><rect x="95.52" y="1152.33" width="18.8" height="102.75" fill="#979797"/><rect x="95.52" y="1152.33" width="6.56" height="102.75" fill="#adadad"/><rect x="114.32" y="1152.33" width="27.45" height="102.75" fill="#7e7e7e"/><rect x="126.67" y="1152.33" width="2.74" height="102.75" fill="#6e6e6e"/><rect x="134.91" y="1152.33" width="2.75" height="102.75" fill="#8c8c8c"/><rect x="141.77" y="1152.33" width="25.63" height="46.24" fill="#878787"/><rect x="141.77" y="1201.65" width="19.22" height="53.43" fill="#aaaaaa"/><rect x="182.45" y="1193.43" width="21.95" height="10.28" fill="#9d9d9d"/><rect x="204.4" y="1152.33" width="20.65" height="102.75" fill="#7e7e7e"/><rect x="246.5" y="1152.33" width="15.4" height="102.75" fill="#8c8c8c"/><rect x="249.58" y="1162.6" width="12.32" height="92.48" fill="#b8b8b8"/><rect x="261.9" y="1152.33" width="16.8" height="102.75" fill="#838383"/><rect x="278.7" y="1152.33" width="15.2" height="102.75" fill="#767676"/><rect x="293.9" y="1152.33" width="21.24" height="102.75" fill="#838383"/><rect x="315.14" y="1152.33" width="23.43" height="102.75" fill="#818181"/><rect x="315.14" y="1196.51" width="23.43" height="9.25" fill="#a4a4a4"/><rect x="345.9" y="1152.33" width="14.6" height="102.75" fill="#737373"/><rect x="360.5" y="1152.33" width="13.7" height="102.75" fill="#7c7c7c"/><rect x="374.2" y="1152.33" width="17.85" height="102.75" fill="#787878"/><rect x="392.05" y="1152.33" width="25.45" height="102.75" fill="#7c7c7c"/><rect x="413.68" y="1152.33" width="3.82" height="102.75" fill="#6e6e6e"/><rect x="423.3" y="1152.33" width="26.4" height="102.75" fill="#838383"/></g>
<g filter="url(#fm)"><rect x="70.6" y="1283.79" width="405.6" height="32" fill="#808080"/><rect x="70.6" y="1283.79" width="43.72" height="32" fill="#787878"/><rect x="95.52" y="1283.79" width="18.8" height="32" fill="#b2b2b2"/><rect x="114.32" y="1283.79" width="27.45" height="32" fill="#787878"/><rect x="141.77" y="1283.79" width="25.63" height="32" fill="#797979"/><rect x="167.4" y="1283.79" width="15.05" height="32" fill="#6c6c6c"/><rect x="182.45" y="1283.79" width="21.95" height="32" fill="#b2b2b2"/><rect x="204.4" y="1283.79" width="20.65" height="32" fill="#a3a3a3"/><rect x="225.05" y="1283.79" width="21.45" height="32" fill="#666666"/><rect x="246.5" y="1283.79" width="15.4" height="32" fill="#cccccc"/><rect x="255.74" y="1283.79" width="6.16" height="32" fill="#d9d9d9"/><rect x="261.9" y="1283.79" width="16.8" height="32" fill="#6c6c6c"/><rect x="278.7" y="1283.79" width="15.2" height="32" fill="#737373"/><rect x="315.14" y="1283.79" width="23.43" height="32" fill="#858585"/><rect x="338.57" y="1283.79" width="7.33" height="32" fill="#a6a6a6"/><rect x="345.9" y="1283.79" width="14.6" height="32" fill="#797979"/><rect x="360.5" y="1283.79" width="13.7" height="32" fill="#7c7c7c"/><rect x="374.2" y="1283.79" width="17.85" height="32" fill="#757575"/><rect x="392.05" y="1283.79" width="25.45" height="32" fill="#b2b2b2"/><rect x="392.05" y="1283.79" width="7.63" height="32" fill="#202020"/><rect x="417.5" y="1283.79" width="5.8" height="32" fill="#868686"/><rect x="423.3" y="1283.79" width="26.4" height="32" fill="#b2b2b2"/><rect x="449.7" y="1283.79" width="11.56" height="32" fill="#858585"/></g>
<g filter="url(#fr)"><rect x="70.6" y="1324.24" width="405.6" height="102.75" fill="#808080"/><rect x="70.6" y="1324.24" width="43.72" height="102.75" fill="#767676"/><rect x="95.52" y="1324.24" width="15.3" height="102.75" fill="#858585"/><rect x="110.82" y="1324.24" width="3.5" height="102.75" fill="#c6c6c6"/><rect x="114.32" y="1324.24" width="27.45" height="102.75" fill="#787878"/><rect x="141.77" y="1324.24" width="25.63" height="102.75" fill="#7c7c7c"/><rect x="162.27" y="1324.24" width="5.13" height="102.75" fill="#626262"/><rect x="167.4" y="1324.24" width="15.05" height="102.75" fill="#7a7a7a"/><rect x="182.45" y="1324.24" width="21.95" height="102.75" fill="#a5a5a5"/><rect x="182.45" y="1411.58" width="21.95" height="15.41" fill="#b8b8b8"/><rect x="204.4" y="1324.24" width="20.65" height="102.75" fill="#9b9b9b"/><rect x="225.05" y="1324.24" width="21.45" height="102.75" fill="#7a7a7a"/><rect x="246.5" y="1324.24" width="15.4" height="102.75" fill="#d5d5d5"/><rect x="261.9" y="1324.24" width="16.8" height="102.75" fill="#787878"/><rect x="278.7" y="1324.24" width="15.2" height="102.75" fill="#767676"/><rect x="293.9" y="1324.24" width="21.24" height="102.75" fill="#7e7e7e"/><rect x="315.14" y="1324.24" width="23.43" height="102.75" fill="#7e7e7e"/><rect x="338.57" y="1324.24" width="7.33" height="102.75" fill="#737373"/><rect x="338.57" y="1411.58" width="7.33" height="15.41" fill="#aaaaaa"/><rect x="345.9" y="1324.24" width="14.6" height="102.75" fill="#737373"/><rect x="360.5" y="1324.24" width="13.7" height="102.75" fill="#787878"/><rect x="374.2" y="1324.24" width="17.85" height="102.75" fill="#7c7c7c"/><rect x="392.05" y="1324.24" width="25.45" height="102.75" fill="#a4a4a4"/><rect x="392.05" y="1324.24" width="6.36" height="102.75" fill="#393939"/><rect x="423.3" y="1324.24" width="26.4" height="102.75" fill="#8c8c8c"/><rect x="423.3" y="1324.24" width="11.88" height="102.75" fill="#bfbfbf"/><rect x="449.7" y="1324.24" width="11.56" height="102.75" fill="#7c7c7c"/><rect x="461.26" y="1324.24" width="4.04" height="102.75" fill="#7c7c7c"/><rect x="465.3" y="1324.24" width="10.9" height="102.75" fill="#7c7c7c"/></g>
<g filter="url(#fm)"><rect x="70.6" y="1455.71" width="405.6" height="32" fill="#808080"/><rect x="70.6" y="1455.71" width="43.72" height="32" fill="#7c7c7c"/><rect x="107.76" y="1455.71" width="6.56" height="32" fill="#8c8c8c"/><rect x="114.32" y="1455.71" width="27.45" height="32" fill="#757575"/><rect x="131.34" y="1455.71" width="4.94" height="32" fill="#4c4c4c"/><rect x="136.28" y="1455.71" width="5.49" height="32" fill="#2d2d2d"/><rect x="141.77" y="1455.71" width="25.63" height="32" fill="#7c7c7c"/><rect x="167.4" y="1455.71" width="15.05" height="32" fill="#7c7c7c"/><rect x="182.45" y="1455.71" width="21.95" height="32" fill="#787878"/><rect x="204.4" y="1455.71" width="20.65" height="32" fill="#636363"/><rect x="225.05" y="1455.71" width="21.45" height="32" fill="#666666"/><rect x="246.5" y="1455.71" width="15.4" height="32" fill="#b2b2b2"/><rect x="261.9" y="1455.71" width="16.8" height="32" fill="#6c6c6c"/><rect x="278.7" y="1455.71" width="15.2" height="32" fill="#797979"/><rect x="290.86" y="1455.71" width="3.04" height="32" fill="#6c6c6c"/><rect x="293.9" y="1455.71" width="21.24" height="32" fill="#8c8c8c"/><rect x="315.14" y="1455.71" width="23.43" height="32" fill="#8c8c8c"/><rect x="338.57" y="1455.71" width="7.33" height="32" fill="#8c8c8c"/><rect x="340.77" y="1455.71" width="5.13" height="32" fill="#acacac"/><rect x="345.9" y="1455.71" width="14.6" height="32" fill="#7c7c7c"/><rect x="360.5" y="1455.71" width="13.7" height="32" fill="#7c7c7c"/><rect x="374.2" y="1455.71" width="17.85" height="32" fill="#7c7c7c"/><rect x="392.05" y="1455.71" width="6.36" height="32" fill="#262626"/><rect x="399.69" y="1455.71" width="15.27" height="32" fill="#b9b9b9"/><rect x="423.3" y="1455.71" width="26.4" height="32" fill="#838383"/><rect x="449.7" y="1455.71" width="11.56" height="32" fill="#868686"/><rect x="461.26" y="1455.71" width="4.04" height="32" fill="#858585"/><rect x="465.3" y="1455.71" width="10.9" height="32" fill="#858585"/></g>
<g filter="url(#fr)"><rect x="70.6" y="1496.16" width="405.6" height="102.75" fill="#808080"/><rect x="70.6" y="1496.16" width="43.72" height="102.75" fill="#737373"/><rect x="103.39" y="1496.16" width="6.56" height="102.75" fill="#5b5b5b"/><rect x="114.32" y="1496.16" width="27.45" height="102.75" fill="#7a7a7a"/><rect x="136.28" y="1496.16" width="5.49" height="102.75" fill="#4e4e4e"/><rect x="159.71" y="1496.16" width="6.41" height="102.75" fill="#6e6e6e"/><rect x="167.4" y="1496.16" width="15.05" height="102.75" fill="#818181"/><rect x="182.45" y="1496.16" width="21.95" height="102.75" fill="#838383"/><rect x="204.4" y="1496.16" width="20.65" height="102.75" fill="#818181"/><rect x="246.5" y="1496.16" width="15.4" height="102.75" fill="#bfbfbf"/><rect x="261.9" y="1496.16" width="16.8" height="102.75" fill="#7c7c7c"/><rect x="278.7" y="1496.16" width="15.2" height="102.75" fill="#7c7c7c"/><rect x="278.7" y="1496.16" width="4.56" height="102.75" fill="#6e6e6e"/><rect x="293.9" y="1496.16" width="21.24" height="102.75" fill="#7a7a7a"/><rect x="315.14" y="1496.16" width="23.43" height="102.75" fill="#818181"/><rect x="338.57" y="1496.16" width="7.33" height="102.75" fill="#9d9d9d"/><rect x="345.9" y="1496.16" width="14.6" height="102.75" fill="#737373"/><rect x="360.5" y="1496.16" width="13.7" height="102.75" fill="#7c7c7c"/><rect x="392.05" y="1496.16" width="6.36" height="102.75" fill="#474747"/><rect x="399.69" y="1496.16" width="12.73" height="102.75" fill="#b8b8b8"/><rect x="412.41" y="1496.16" width="5.09" height="102.75" fill="#878787"/><rect x="423.3" y="1496.16" width="26.4" height="102.75" fill="#838383"/><rect x="461.26" y="1496.16" width="4.04" height="102.75" fill="#7e7e7e"/><rect x="465.3" y="1496.16" width="10.9" height="102.75" fill="#7e7e7e"/></g>
<g filter="url(#fm)"><rect x="70.6" y="1627.63" width="405.6" height="32" fill="#808080"/><rect x="70.6" y="1627.63" width="43.72" height="32" fill="#797979"/><rect x="96.83" y="1627.63" width="13.12" height="32" fill="#707070"/><rect x="111.26" y="1627.63" width="3.06" height="32" fill="#a6a6a6"/><rect x="114.32" y="1627.63" width="27.45" height="32" fill="#797979"/><rect x="141.77" y="1627.63" width="25.63" height="32" fill="#7a7a7a"/><rect x="167.4" y="1627.63" width="15.05" height="32" fill="#7c7c7c"/><rect x="182.45" y="1627.63" width="21.95" height="32" fill="#7a7a7a"/><rect x="204.4" y="1627.63" width="20.65" height="32" fill="#696969"/><rect x="225.05" y="1627.63" width="21.45" height="32" fill="#797979"/><rect x="246.5" y="1627.63" width="4.62" height="32" fill="#6c6c6c"/><rect x="251.12" y="1627.63" width="5.39" height="32" fill="#8c8c8c"/><rect x="256.51" y="1627.63" width="5.39" height="32" fill="#ececec"/><rect x="261.9" y="1627.63" width="16.8" height="32" fill="#696969"/><rect x="278.7" y="1627.63" width="15.2" height="32" fill="#333333"/><rect x="278.7" y="1627.63" width="5.32" height="32" fill="#757575"/><rect x="293.9" y="1627.63" width="21.24" height="32" fill="#7c7c7c"/><rect x="315.14" y="1627.63" width="23.43" height="32" fill="#8f8f8f"/><rect x="338.57" y="1627.63" width="7.33" height="32" fill="#828282"/><rect x="345.9" y="1627.63" width="14.6" height="32" fill="#868686"/><rect x="374.2" y="1627.63" width="17.85" height="32" fill="#757575"/><rect x="384.91" y="1627.63" width="7.14" height="32" fill="#131313"/><rect x="392.05" y="1627.63" width="25.45" height="32" fill="#878787"/><rect x="417.5" y="1627.63" width="5.8" height="32" fill="#838383"/><rect x="423.3" y="1627.63" width="26.4" height="32" fill="#858585"/><rect x="449.7" y="1627.63" width="11.56" height="32" fill="#868686"/><rect x="461.26" y="1627.63" width="4.04" height="32" fill="#838383"/><rect x="465.3" y="1627.63" width="10.9" height="32" fill="#838383"/></g>
<g filter="url(#fr)"><rect x="70.6" y="1668.08" width="405.6" height="102.75" fill="#808080"/><rect x="70.6" y="1668.08" width="43.72" height="102.75" fill="#7a7a7a"/><rect x="99.02" y="1668.08" width="8.74" height="102.75" fill="#626262"/><rect x="112.13" y="1668.08" width="2.19" height="102.75" fill="#9d9d9d"/><rect x="114.32" y="1668.08" width="27.45" height="102.75" fill="#7c7c7c"/><rect x="134.91" y="1668.08" width="2.75" height="102.75" fill="#8c8c8c"/><rect x="162.27" y="1668.08" width="3.84" height="102.75" fill="#686868"/><rect x="149.46" y="1668.08" width="2.56" height="102.75" fill="#8c8c8c"/><rect x="167.4" y="1668.08" width="15.05" height="102.75" fill="#818181"/><rect x="182.45" y="1668.08" width="21.95" height="102.75" fill="#858585"/><rect x="189.03" y="1668.08" width="4.39" height="102.75" fill="#919191"/><rect x="204.4" y="1668.08" width="3.1" height="102.75" fill="#919191"/><rect x="231.49" y="1668.08" width="3.22" height="102.75" fill="#979797"/><rect x="246.5" y="1668.08" width="4.62" height="102.75" fill="#6e6e6e"/><rect x="252.66" y="1668.08" width="4.62" height="102.75" fill="#9d9d9d"/><rect x="257.28" y="1668.08" width="4.62" height="102.75" fill="#dddddd"/><rect x="261.9" y="1668.08" width="16.8" height="102.75" fill="#7e7e7e"/><rect x="278.7" y="1668.08" width="15.2" height="102.75" fill="#404040"/><rect x="278.7" y="1668.08" width="4.56" height="102.75" fill="#787878"/><rect x="293.9" y="1668.08" width="21.24" height="102.75" fill="#787878"/><rect x="315.14" y="1668.08" width="2.34" height="102.75" fill="#979797"/><rect x="374.2" y="1668.08" width="17.85" height="102.75" fill="#7c7c7c"/><rect x="384.02" y="1668.08" width="8.03" height="102.75" fill="#474747"/><rect x="414.95" y="1668.08" width="2.55" height="102.75" fill="#9d9d9d"/><rect x="425.94" y="1729.73" width="5.28" height="41.1" fill="#919191"/><rect x="465.3" y="1668.08" width="10.9" height="102.75" fill="#838383"/></g>
<g filter="url(#fm)"><rect x="70.6" y="1799.55" width="405.6" height="32" fill="#808080"/><rect x="70.6" y="1799.55" width="43.72" height="32" fill="#707070"/><rect x="96.83" y="1799.55" width="6.56" height="32" fill="#999999"/><rect x="103.39" y="1799.55" width="10.93" height="32" fill="#bfbfbf"/><rect x="114.32" y="1799.55" width="27.45" height="32" fill="#262626"/><rect x="122.55" y="1799.55" width="2.75" height="32" fill="#333333"/><rect x="133.54" y="1799.55" width="2.74" height="32" fill="#1c1c1c"/><rect x="141.77" y="1799.55" width="25.63" height="32" fill="#757575"/><rect x="157.15" y="1799.55" width="10.25" height="32" fill="#8c8c8c"/><rect x="167.4" y="1799.55" width="15.05" height="32" fill="#a6a6a6"/><rect x="182.45" y="1799.55" width="21.95" height="32" fill="#707070"/><rect x="204.4" y="1799.55" width="20.65" height="32" fill="#8f8f8f"/><rect x="216.79" y="1799.55" width="7.23" height="32" fill="#131313"/><rect x="225.05" y="1799.55" width="21.45" height="32" fill="#939393"/><rect x="225.05" y="1799.55" width="4.29" height="32" fill="#333333"/><rect x="246.5" y="1799.55" width="15.4" height="32" fill="#666666"/><rect x="261.9" y="1799.55" width="16.8" height="32" fill="#9f9f9f"/><rect x="278.7" y="1799.55" width="15.2" height="32" fill="#666666"/><rect x="287.82" y="1799.55" width="6.08" height="32" fill="#595959"/><rect x="293.9" y="1799.55" width="21.24" height="32" fill="#393939"/><rect x="310.89" y="1799.55" width="4.25" height="32" fill="#262626"/><rect x="315.14" y="1799.55" width="23.43" height="32" fill="#a6a6a6"/><rect x="338.57" y="1799.55" width="7.33" height="32" fill="#999999"/><rect x="345.9" y="1799.55" width="14.6" height="32" fill="#737373"/><rect x="360.5" y="1799.55" width="13.7" height="32" fill="#787878"/><rect x="374.2" y="1799.55" width="17.85" height="32" fill="#757575"/><rect x="384.91" y="1799.55" width="7.14" height="32" fill="#393939"/><rect x="392.05" y="1799.55" width="25.45" height="32" fill="#707070"/><rect x="423.3" y="1799.55" width="26.4" height="32" fill="#737373"/><rect x="449.7" y="1799.55" width="9.25" height="32" fill="#b2b2b2"/><rect x="461.26" y="1799.55" width="4.04" height="32" fill="#404040"/><rect x="465.3" y="1799.55" width="10.9" height="32" fill="#7c7c7c"/></g>
<g filter="url(#fr)"><rect x="70.6" y="1840" width="405.6" height="102.75" fill="#808080"/><rect x="70.6" y="1840" width="43.72" height="102.75" fill="#7c7c7c"/><rect x="99.02" y="1840" width="15.3" height="102.75" fill="#a4a4a4"/><rect x="114.32" y="1840" width="27.45" height="102.75" fill="#4e4e4e"/><rect x="130.79" y="1840" width="10.98" height="102.75" fill="#6e6e6e"/><rect x="141.77" y="1840" width="25.63" height="102.75" fill="#838383"/><rect x="167.4" y="1840" width="15.05" height="102.75" fill="#9d9d9d"/><rect x="171.91" y="1840" width="7.53" height="102.75" fill="#b1b1b1"/><rect x="182.45" y="1840" width="21.95" height="102.75" fill="#838383"/><rect x="204.4" y="1840" width="20.65" height="102.75" fill="#858585"/><rect x="216.79" y="1840" width="8.26" height="102.75" fill="#474747"/><rect x="225.05" y="1840" width="21.45" height="102.75" fill="#949494"/><rect x="228.27" y="1840" width="7.51" height="102.75" fill="#9d9d9d"/><rect x="225.05" y="1840" width="3.22" height="102.75" fill="#787878"/><rect x="246.5" y="1840" width="15.4" height="102.75" fill="#838383"/><rect x="259.59" y="1840" width="2.31" height="102.75" fill="#c6c6c6"/><rect x="261.9" y="1840" width="16.8" height="102.75" fill="#979797"/><rect x="278.7" y="1840" width="15.2" height="102.75" fill="#7c7c7c"/><rect x="293.9" y="1840" width="21.24" height="102.75" fill="#4e4e4e"/><rect x="315.14" y="1840" width="23.43" height="102.75" fill="#979797"/><rect x="315.14" y="1886.24" width="23.43" height="25.69" fill="#aaaaaa"/><rect x="338.57" y="1840" width="7.33" height="102.75" fill="#8c8c8c"/><rect x="345.9" y="1840" width="14.6" height="102.75" fill="#7c7c7c"/><rect x="351.74" y="1840" width="5.84" height="102.75" fill="#5b5b5b"/><rect x="360.5" y="1840" width="13.7" height="102.75" fill="#7c7c7c"/><rect x="374.2" y="1840" width="17.85" height="102.75" fill="#787878"/><rect x="383.12" y="1840" width="8.93" height="102.75" fill="#555555"/><rect x="392.05" y="1840" width="25.45" height="102.75" fill="#787878"/><rect x="423.3" y="1840" width="26.4" height="102.75" fill="#838383"/><rect x="423.3" y="1840" width="7.92" height="102.75" fill="#919191"/><rect x="449.7" y="1840" width="11.56" height="102.75" fill="#b1b1b1"/><rect x="449.7" y="1917.07" width="11.56" height="25.69" fill="#cecece"/><rect x="461.26" y="1840" width="4.04" height="102.75" fill="#626262"/></g>
<g filter="url(#fm)"><rect x="70.6" y="1971.47" width="405.6" height="32" fill="#808080"/><rect x="70.6" y="1971.47" width="43.72" height="32" fill="#7c7c7c"/><rect x="109.07" y="1971.47" width="5.25" height="32" fill="#b9b9b9"/><rect x="114.32" y="1971.47" width="27.45" height="32" fill="#8a8a8a"/><rect x="141.77" y="1971.47" width="25.63" height="32" fill="#838383"/><rect x="164.84" y="1971.47" width="2.56" height="32" fill="#060606"/><rect x="167.4" y="1971.47" width="15.05" height="32" fill="#757575"/><rect x="182.45" y="1971.47" width="21.95" height="32" fill="#838383"/><rect x="204.4" y="1971.47" width="20.65" height="32" fill="#6c6c6c"/><rect x="225.05" y="1971.47" width="21.45" height="32" fill="#7c7c7c"/><rect x="246.5" y="1971.47" width="15.4" height="32" fill="#6c6c6c"/><rect x="261.9" y="1971.47" width="16.8" height="32" fill="#707070"/><rect x="278.7" y="1971.47" width="15.2" height="32" fill="#0d0d0d"/><rect x="278.7" y="1971.47" width="7.6" height="32" fill="#666666"/><rect x="313.02" y="1971.47" width="2.12" height="32" fill="#999999"/><rect x="315.14" y="1971.47" width="23.43" height="32" fill="#858585"/><rect x="315.14" y="1971.47" width="3.51" height="32" fill="#b9b9b9"/><rect x="345.9" y="1971.47" width="14.6" height="32" fill="#8a8a8a"/><rect x="360.5" y="1971.47" width="13.7" height="32" fill="#757575"/><rect x="374.2" y="1971.47" width="17.85" height="32" fill="#737373"/><rect x="392.05" y="1971.47" width="6.36" height="32" fill="#202020"/><rect x="399.69" y="1971.47" width="17.81" height="32" fill="#b9b9b9"/><rect x="423.3" y="1971.47" width="26.4" height="32" fill="#838383"/><rect x="423.3" y="1971.47" width="7.92" height="32" fill="#464646"/><rect x="431.22" y="1971.47" width="5.28" height="32" fill="#6c6c6c"/><rect x="449.7" y="1971.47" width="11.56" height="32" fill="#7c7c7c"/><rect x="461.26" y="1971.47" width="4.04" height="32" fill="#7c7c7c"/><rect x="465.3" y="1971.47" width="10.9" height="32" fill="#7c7c7c"/></g>
<g filter="url(#fr)"><rect x="70.6" y="2011.92" width="405.6" height="102.75" fill="#808080"/><rect x="70.6" y="2011.92" width="43.72" height="102.75" fill="#7e7e7e"/><rect x="99.02" y="2011.92" width="8.74" height="102.75" fill="#5b5b5b"/><rect x="110.82" y="2011.92" width="3.5" height="102.75" fill="#b8b8b8"/><rect x="114.32" y="2011.92" width="27.45" height="102.75" fill="#818181"/><rect x="133.54" y="2011.92" width="2.74" height="102.75" fill="#8c8c8c"/><rect x="141.77" y="2011.92" width="25.63" height="102.75" fill="#838383"/><rect x="160.99" y="2011.92" width="6.41" height="102.75" fill="#474747"/><rect x="182.45" y="2011.92" width="21.95" height="102.75" fill="#828282"/><rect x="225.05" y="2011.92" width="21.45" height="35.96" fill="#a4a4a4"/><rect x="225.05" y="2047.89" width="21.45" height="41.1" fill="#b8b8b8"/><rect x="225.05" y="2088.99" width="21.45" height="25.69" fill="#979797"/><rect x="246.5" y="2011.92" width="15.4" height="102.75" fill="#7c7c7c"/><rect x="261.9" y="2011.92" width="16.8" height="102.75" fill="#818181"/><rect x="278.7" y="2011.92" width="15.2" height="102.75" fill="#393939"/><rect x="278.7" y="2011.92" width="6.08" height="102.75" fill="#686868"/><rect x="293.9" y="2011.92" width="21.24" height="102.75" fill="#787878"/><rect x="300.27" y="2011.92" width="8.5" height="102.75" fill="#6e6e6e"/><rect x="315.14" y="2011.92" width="23.43" height="102.75" fill="#838383"/><rect x="315.14" y="2011.92" width="3.51" height="102.75" fill="#b8b8b8"/><rect x="345.9" y="2011.92" width="14.6" height="102.75" fill="#838383"/><rect x="354.66" y="2011.92" width="4.38" height="102.75" fill="#737373"/><rect x="360.5" y="2011.92" width="13.7" height="102.75" fill="#838383"/><rect x="392.05" y="2011.92" width="25.45" height="102.75" fill="#8c8c8c"/><rect x="392.05" y="2011.92" width="6.36" height="102.75" fill="#393939"/><rect x="399.69" y="2011.92" width="15.78" height="102.75" fill="#b4b4b4"/><rect x="423.3" y="2011.92" width="26.4" height="102.75" fill="#7e7e7e"/><rect x="423.3" y="2011.92" width="3.96" height="102.75" fill="#6e6e6e"/><rect x="428.58" y="2011.92" width="3.96" height="102.75" fill="#9d9d9d"/><rect x="449.7" y="2011.92" width="11.56" height="102.75" fill="#7e7e7e"/><rect x="465.3" y="2011.92" width="10.9" height="102.75" fill="#7c7c7c"/></g>
<g filter="url(#fm)"><rect x="70.6" y="2143.39" width="405.6" height="32" fill="#808080"/><rect x="70.6" y="2143.39" width="43.72" height="32" fill="#7a7a7a"/><rect x="141.77" y="2143.39" width="25.63" height="32" fill="#828282"/><rect x="167.4" y="2143.39" width="15.05" height="32" fill="#858585"/><rect x="182.45" y="2143.39" width="21.95" height="32" fill="#858585"/><rect x="204.4" y="2143.39" width="20.65" height="32" fill="#666666"/><rect x="225.05" y="2143.39" width="21.45" height="32" fill="#6c6c6c"/><rect x="246.5" y="2143.39" width="15.4" height="32" fill="#737373"/><rect x="261.9" y="2143.39" width="16.8" height="32" fill="#737373"/><rect x="278.7" y="2143.39" width="15.2" height="32" fill="#787878"/><rect x="293.9" y="2143.39" width="21.24" height="32" fill="#8a8a8a"/><rect x="315.14" y="2143.39" width="23.43" height="32" fill="#878787"/><rect x="338.57" y="2143.39" width="7.33" height="32" fill="#858585"/><rect x="345.9" y="2143.39" width="14.6" height="32" fill="#838383"/><rect x="360.5" y="2143.39" width="13.7" height="32" fill="#828282"/><rect x="392.05" y="2143.39" width="25.45" height="32" fill="#858585"/><rect x="423.3" y="2143.39" width="26.4" height="32" fill="#7a7a7a"/><rect x="449.7" y="2143.39" width="11.56" height="32" fill="#868686"/><rect x="461.26" y="2143.39" width="4.04" height="32" fill="#858585"/><rect x="465.3" y="2143.39" width="10.9" height="32" fill="#858585"/></g>
<g filter="url(#fr)"><rect x="70.6" y="2183.84" width="405.6" height="102.75" fill="#808080"/><rect x="70.6" y="2183.84" width="43.72" height="102.75" fill="#7a7a7a"/><rect x="99.02" y="2183.84" width="8.74" height="102.75" fill="#626262"/><rect x="122.55" y="2183.84" width="5.49" height="102.75" fill="#737373"/><rect x="134.91" y="2183.84" width="4.12" height="102.75" fill="#979797"/><rect x="141.77" y="2183.84" width="25.63" height="102.75" fill="#818181"/><rect x="167.4" y="2183.84" width="15.05" height="102.75" fill="#828282"/><rect x="182.45" y="2183.84" width="21.95" height="102.75" fill="#858585"/><rect x="193.43" y="2183.84" width="6.58" height="102.75" fill="#8c8c8c"/><rect x="204.4" y="2183.84" width="20.65" height="102.75" fill="#818181"/><rect x="225.05" y="2183.84" width="21.45" height="102.75" fill="#838383"/><rect x="246.5" y="2183.84" width="15.4" height="102.75" fill="#858585"/><rect x="278.7" y="2183.84" width="15.2" height="102.75" fill="#787878"/><rect x="300.27" y="2183.84" width="6.37" height="102.75" fill="#686868"/><rect x="315.14" y="2183.84" width="23.43" height="102.75" fill="#818181"/><rect x="315.14" y="2183.84" width="2.34" height="102.75" fill="#9d9d9d"/><rect x="338.57" y="2183.84" width="7.33" height="102.75" fill="#838383"/><rect x="345.9" y="2183.84" width="14.6" height="102.75" fill="#7a7a7a"/><rect x="360.5" y="2183.84" width="13.7" height="102.75" fill="#828282"/><rect x="374.2" y="2183.84" width="17.85" height="102.75" fill="#838383"/><rect x="392.05" y="2183.84" width="25.45" height="102.75" fill="#828282"/><rect x="413.68" y="2183.84" width="3.82" height="102.75" fill="#6e6e6e"/><rect x="423.3" y="2183.84" width="26.4" height="102.75" fill="#7e7e7e"/><rect x="449.7" y="2183.84" width="11.56" height="102.75" fill="#838383"/><rect x="461.26" y="2183.84" width="4.04" height="102.75" fill="#979797"/><rect x="465.3" y="2183.84" width="10.9" height="102.75" fill="#838383"/></g>
<g filter="url(#fm)"><rect x="70.6" y="2315.32" width="405.6" height="32" fill="#808080"/><rect x="70.6" y="2315.32" width="43.72" height="32" fill="#757575"/><rect x="79.34" y="2315.32" width="4.37" height="32" fill="#878787"/><rect x="114.32" y="2315.32" width="27.45" height="32" fill="#7a7a7a"/><rect x="141.77" y="2315.32" width="25.63" height="32" fill="#7a7a7a"/><rect x="167.4" y="2315.32" width="15.05" height="32" fill="#797979"/><rect x="182.45" y="2315.32" width="21.95" height="32" fill="#787878"/><rect x="204.4" y="2315.32" width="20.65" height="32" fill="#8f8f8f"/><rect x="225.05" y="2315.32" width="21.45" height="32" fill="#8c8c8c"/><rect x="235.78" y="2315.32" width="9.65" height="32" fill="#b5b5b5"/><rect x="246.5" y="2315.32" width="15.4" height="32" fill="#696969"/><rect x="261.9" y="2315.32" width="16.8" height="32" fill="#666666"/><rect x="278.7" y="2315.32" width="15.2" height="32" fill="#8f8f8f"/><rect x="292.08" y="2315.32" width="1.82" height="32" fill="#000000"/><rect x="293.9" y="2315.32" width="21.24" height="32" fill="#7c7c7c"/><rect x="315.14" y="2315.32" width="23.43" height="32" fill="#8a8a8a"/><rect x="360.5" y="2315.32" width="13.7" height="32" fill="#7c7c7c"/><rect x="374.2" y="2315.32" width="17.85" height="32" fill="#757575"/><rect x="386.69" y="2315.32" width="5.36" height="32" fill="#000000"/><rect x="392.05" y="2315.32" width="25.45" height="32" fill="#878787"/><rect x="409.87" y="2315.32" width="6.36" height="32" fill="#a6a6a6"/><rect x="423.3" y="2315.32" width="26.4" height="32" fill="#7c7c7c"/><rect x="449.7" y="2315.32" width="11.56" height="32" fill="#838383"/><rect x="461.26" y="2315.32" width="4.04" height="32" fill="#858585"/><rect x="465.3" y="2315.32" width="10.9" height="32" fill="#858585"/></g>
<g filter="url(#fr)"><rect x="70.6" y="2355.76" width="405.6" height="102.75" fill="#808080"/><rect x="70.6" y="2355.76" width="43.72" height="102.75" fill="#7c7c7c"/><rect x="85.9" y="2355.76" width="6.56" height="61.65" fill="#626262"/><rect x="99.02" y="2355.76" width="8.74" height="102.75" fill="#6b6b6b"/><rect x="85.03" y="2417.41" width="9.18" height="41.1" fill="#222222"/><rect x="114.32" y="2366.04" width="5.49" height="15.41" fill="#919191"/><rect x="122.55" y="2355.76" width="5.49" height="102.75" fill="#757575"/><rect x="134.91" y="2355.76" width="4.12" height="102.75" fill="#919191"/><rect x="162.27" y="2417.41" width="5.13" height="41.1" fill="#686868"/><rect x="182.45" y="2355.76" width="21.95" height="102.75" fill="#828282"/><rect x="204.4" y="2355.76" width="20.65" height="30.82" fill="#878787"/><rect x="204.4" y="2386.59" width="20.65" height="30.82" fill="#b8b8b8"/><rect x="204.4" y="2386.59" width="3.1" height="30.82" fill="#d8d8d8"/><rect x="204.4" y="2417.41" width="10.33" height="41.1" fill="#787878"/><rect x="225.05" y="2366.04" width="21.45" height="35.96" fill="#8c8c8c"/><rect x="229.34" y="2374.26" width="17.16" height="4.11" fill="#aaaaaa"/><rect x="231.49" y="2392.75" width="12.87" height="4.11" fill="#aaaaaa"/><rect x="225.05" y="2417.41" width="21.45" height="41.1" fill="#878787"/><rect x="246.5" y="2417.41" width="15.4" height="41.1" fill="#858585"/><rect x="278.7" y="2355.76" width="15.2" height="102.75" fill="#7c7c7c"/><rect x="290.86" y="2355.76" width="3.04" height="102.75" fill="#474747"/><rect x="302.4" y="2355.76" width="4.25" height="61.65" fill="#6e6e6e"/><rect x="384.91" y="2355.76" width="7.14" height="102.75" fill="#444444"/><rect x="392.05" y="2355.76" width="25.45" height="102.75" fill="#838383"/><rect x="409.87" y="2355.76" width="7.63" height="61.65" fill="#9d9d9d"/><rect x="407.32" y="2417.41" width="10.18" height="41.1" fill="#aaaaaa"/><rect x="423.3" y="2448.24" width="7.92" height="10.27" fill="#9d9d9d"/><rect x="449.7" y="2417.41" width="11.56" height="41.1" fill="#919191"/><rect x="450.86" y="2375.29" width="9.25" height="7.19" fill="#393939"/><rect x="465.3" y="2355.76" width="10.9" height="102.75" fill="#848484"/></g>
<path class="cl" d="M114.32 1110.9V2459.49M141.77 1110.9V2459.49M167.4 1110.9V2459.49M182.45 1110.9V2459.49M204.4 1110.9V2459.49M225.05 1110.9V2459.49M246.5 1110.9V2459.49M261.9 1110.9V2459.49M278.7 1110.9V2459.49M293.9 1110.9V2459.49M315.14 1110.9V2459.49M338.57 1110.9V2459.49M345.9 1110.9V2459.49M360.5 1110.9V2459.49M374.2 1110.9V2459.49M392.05 1110.9V2459.49M417.5 1110.9V2459.49M423.3 1110.9V2459.49M449.7 1110.9V2459.49M461.26 1110.9V2459.49M465.3 1110.9V2459.49"/>
<rect class="bx" x="70.6" y="1111.88" width="405.6" height="32"/>
<rect class="bx" x="70.6" y="1152.33" width="405.6" height="102.75"/>
<text class="sl" transform="translate(59.2 1183.48) rotate(-90)">MUV11</text>
<rect class="bx" x="70.6" y="1283.79" width="405.6" height="32"/>
<rect class="bx" x="70.6" y="1324.24" width="405.6" height="102.75"/>
<text class="sl" transform="translate(59.2 1355.39) rotate(-90)">SJ17</text>
<text class="an" x="485.8" y="1308.92">MYC ampl.</text>
<rect class="bx" x="70.6" y="1455.71" width="405.6" height="32"/>
<rect class="bx" x="70.6" y="1496.16" width="405.6" height="102.75"/>
<text class="sl" transform="translate(59.2 1527.31) rotate(-90)">SJ917</text>
<rect class="bx" x="70.6" y="1627.63" width="405.6" height="32"/>
<rect class="bx" x="70.6" y="1668.08" width="405.6" height="102.75"/>
<text class="sl" transform="translate(59.2 1699.23) rotate(-90)">SJ617</text>
<rect class="bx" x="70.6" y="1799.55" width="405.6" height="32"/>
<rect class="bx" x="70.6" y="1840" width="405.6" height="102.75"/>
<text class="sl" transform="translate(59.2 1871.15) rotate(-90)">MUV29</text>
<text class="an" x="485.8" y="1824.68">MYC ampl.</text>
<rect class="bx" x="70.6" y="1971.47" width="405.6" height="32"/>
<rect class="bx" x="70.6" y="2011.92" width="405.6" height="102.75"/>
<text class="sl" transform="translate(59.2 2043.08) rotate(-90)">BCH1205</text>
<rect class="bx" x="70.6" y="2143.39" width="405.6" height="32"/>
<rect class="bx" x="70.6" y="2183.84" width="405.6" height="102.75"/>
<text class="sl" transform="translate(59.2 2214.99) rotate(-90)">MUV34</text>
<rect class="bx" x="70.6" y="2315.32" width="405.6" height="32"/>
<rect class="bx" x="70.6" y="2355.76" width="405.6" height="102.75"/>
<path class="ds" d="M70.6 2417.09H476.2"/>
<text class="sl" transform="translate(59.2 2386.91) rotate(-90)">BCH825</text>
<text class="an" x="485.8" y="2396.99">Subclone A</text>
<text class="an" x="485.8" y="2447.59">Subclone B</text>
<text class="tt" x="273.4" y="1090">Group 3 (8 samples)</text>
<text class="pl" x="0.5" y="1062.9">c</text>
<text class="ax" x="92.46" y="2486.69">1</text>
<text class="ax" x="128.05" y="2486.69">2</text>
<text class="ax" x="154.59" y="2486.69">3</text>
<text class="ax" x="174.93" y="2486.69">4</text>
<text class="ax" x="193.43" y="2486.69">5</text>
<text class="ax" x="214.73" y="2486.69">6</text>
<text class="ax" x="235.78" y="2486.69">7</text>
<text class="ax" x="254.2" y="2486.69">8</text>
<text class="ax" x="270" y="2486.69">9</text>
<text class="ax" x="304.52" y="2486.69">11</text>
<text class="ax" x="341.84" y="2486.69">13</text>
<text class="ax" x="368.15" y="2486.69">15</text>
<text class="ax" x="406.97" y="2486.69">17</text>
<text class="ax" x="436" y="2486.69">19</text>
<text class="ax" x="462.08" y="2486.69">21</text>
<text class="axl" x="28.3" y="2511.89">Chromosome</text>
<text class="ax" x="286.3" y="2511.89">10</text>
<text class="ax" x="326.86" y="2511.89">12</text>
<text class="ax" x="353.6" y="2511.89">14</text>
<text class="ax" x="384.32" y="2511.89">16</text>
<text class="ax" x="420.4" y="2511.89">18</text>
<text class="ax" x="448.28" y="2511.89">20</text>
<text class="ax" x="477.35" y="2511.89">22</text>
</g>
<g id="panel-d">
<g filter="url(#fm)"><rect x="677.15" y="768.03" width="405.6" height="32" fill="#808080"/><rect x="677.15" y="768.03" width="43.72" height="32" fill="#7c7c7c"/><rect x="720.87" y="768.03" width="27.45" height="32" fill="#787878"/><rect x="748.32" y="768.03" width="25.63" height="32" fill="#787878"/><rect x="773.95" y="768.03" width="15.05" height="32" fill="#797979"/><rect x="789" y="768.03" width="21.95" height="32" fill="#787878"/><rect x="808.32" y="768.03" width="2.63" height="32" fill="#262626"/><rect x="810.95" y="768.03" width="20.65" height="32" fill="#666666"/><rect x="831.6" y="768.03" width="21.45" height="32" fill="#696969"/><rect x="853.05" y="768.03" width="15.4" height="32" fill="#707070"/><rect x="868.45" y="768.03" width="16.8" height="32" fill="#737373"/><rect x="885.25" y="768.03" width="15.2" height="32" fill="#787878"/><rect x="900.45" y="768.03" width="21.24" height="32" fill="#8a8a8a"/><rect x="921.69" y="768.03" width="23.43" height="32" fill="#868686"/><rect x="950.98" y="768.03" width="1.47" height="32" fill="#bfbfbf"/><rect x="980.75" y="768.03" width="17.85" height="32" fill="#858585"/><rect x="998.6" y="768.03" width="25.45" height="32" fill="#8a8a8a"/><rect x="1024.05" y="768.03" width="5.8" height="32" fill="#838383"/><rect x="1029.85" y="768.03" width="26.4" height="32" fill="#878787"/><rect x="1056.25" y="768.03" width="11.56" height="32" fill="#8a8a8a"/><rect x="1067.81" y="768.03" width="4.04" height="32" fill="#868686"/><rect x="1071.85" y="768.03" width="10.9" height="32" fill="#8a8a8a"/></g>
<g filter="url(#fr)"><rect x="677.15" y="808.49" width="405.6" height="102.75" fill="#808080"/><rect x="677.15" y="808.49" width="43.72" height="102.75" fill="#7a7a7a"/><rect x="694.64" y="808.49" width="6.56" height="102.75" fill="#6e6e6e"/><rect x="705.57" y="808.49" width="8.74" height="102.75" fill="#5b5b5b"/><rect x="731.85" y="808.49" width="5.49" height="102.75" fill="#737373"/><rect x="748.32" y="808.49" width="25.63" height="102.75" fill="#828282"/><rect x="770.11" y="808.49" width="3.84" height="102.75" fill="#6e6e6e"/><rect x="773.95" y="808.49" width="15.05" height="102.75" fill="#838383"/><rect x="789" y="808.49" width="21.95" height="102.75" fill="#898989"/><rect x="793.39" y="808.49" width="6.58" height="102.75" fill="#919191"/><rect x="810.95" y="808.49" width="20.65" height="102.75" fill="#7e7e7e"/><rect x="831.6" y="808.49" width="21.45" height="102.75" fill="#878787"/><rect x="838.03" y="808.49" width="3.22" height="102.75" fill="#979797"/><rect x="853.05" y="808.49" width="15.4" height="102.75" fill="#878787"/><rect x="857.67" y="808.49" width="4.62" height="102.75" fill="#919191"/><rect x="868.45" y="808.49" width="16.8" height="102.75" fill="#828282"/><rect x="885.25" y="808.49" width="15.2" height="102.75" fill="#7e7e7e"/><rect x="900.45" y="808.49" width="21.24" height="102.75" fill="#7c7c7c"/><rect x="906.82" y="808.49" width="6.37" height="102.75" fill="#686868"/><rect x="921.69" y="808.49" width="23.43" height="102.75" fill="#818181"/><rect x="945.12" y="808.49" width="7.33" height="102.75" fill="#878787"/><rect x="952.45" y="808.49" width="14.6" height="102.75" fill="#7e7e7e"/><rect x="967.05" y="808.49" width="13.7" height="102.75" fill="#818181"/><rect x="980.75" y="808.49" width="17.85" height="102.75" fill="#858585"/><rect x="998.6" y="808.49" width="25.45" height="102.75" fill="#858585"/><rect x="1029.85" y="808.49" width="26.4" height="102.75" fill="#7a7a7a"/><rect x="1056.25" y="808.49" width="11.56" height="102.75" fill="#828282"/><rect x="1067.81" y="808.49" width="4.04" height="102.75" fill="#878787"/></g>
<g filter="url(#fm)"><rect x="677.15" y="939.95" width="405.6" height="32" fill="#808080"/><rect x="677.15" y="939.95" width="43.72" height="32" fill="#7d7d7d"/><rect x="677.15" y="939.95" width="2.19" height="32" fill="#a6a6a6"/><rect x="702.07" y="939.95" width="18.8" height="32" fill="#b5b5b5"/><rect x="720.87" y="939.95" width="27.45" height="32" fill="#7a7a7a"/><rect x="748.32" y="939.95" width="25.63" height="32" fill="#7c7c7c"/><rect x="764.98" y="939.95" width="3.84" height="32" fill="#404040"/><rect x="768.82" y="939.95" width="5.13" height="32" fill="#060606"/><rect x="773.95" y="939.95" width="15.05" height="32" fill="#828282"/><rect x="789" y="939.95" width="21.95" height="32" fill="#7c7c7c"/><rect x="810.95" y="939.95" width="20.65" height="32" fill="#666666"/><rect x="831.6" y="939.95" width="21.45" height="32" fill="#6c6c6c"/><rect x="853.05" y="939.95" width="15.4" height="32" fill="#737373"/><rect x="868.45" y="939.95" width="16.8" height="32" fill="#757575"/><rect x="885.25" y="939.95" width="15.2" height="32" fill="#797979"/><rect x="900.45" y="939.95" width="21.24" height="32" fill="#8a8a8a"/><rect x="921.69" y="939.95" width="23.43" height="32" fill="#878787"/><rect x="945.12" y="939.95" width="7.33" height="32" fill="#838383"/><rect x="952.45" y="939.95" width="14.6" height="32" fill="#838383"/><rect x="967.05" y="939.95" width="13.7" height="32" fill="#828282"/><rect x="980.75" y="939.95" width="17.85" height="32" fill="#838383"/><rect x="998.6" y="939.95" width="5.09" height="32" fill="#202020"/><rect x="1006.23" y="939.95" width="16.54" height="32" fill="#b9b9b9"/><rect x="1029.85" y="939.95" width="26.4" height="32" fill="#828282"/><rect x="1056.25" y="939.95" width="11.56" height="32" fill="#838383"/><rect x="1067.81" y="939.95" width="4.04" height="32" fill="#838383"/><rect x="1071.85" y="939.95" width="10.9" height="32" fill="#838383"/></g>
<g filter="url(#fr)"><rect x="677.15" y="980.4" width="405.6" height="102.75" fill="#808080"/><rect x="677.15" y="980.4" width="43.72" height="102.75" fill="#7c7c7c"/><rect x="677.15" y="980.4" width="3.5" height="102.75" fill="#b8b8b8"/><rect x="694.64" y="980.4" width="4.37" height="102.75" fill="#6e6e6e"/><rect x="702.07" y="980.4" width="15.3" height="102.75" fill="#979797"/><rect x="717.37" y="980.4" width="3.5" height="102.75" fill="#c6c6c6"/><rect x="720.87" y="980.4" width="27.45" height="102.75" fill="#7c7c7c"/><rect x="731.85" y="980.4" width="5.49" height="102.75" fill="#6e6e6e"/><rect x="741.46" y="980.4" width="2.75" height="102.75" fill="#919191"/><rect x="748.32" y="980.4" width="25.63" height="102.75" fill="#818181"/><rect x="766.26" y="980.4" width="7.69" height="102.75" fill="#2a2a2a"/><rect x="773.95" y="980.4" width="15.05" height="102.75" fill="#7e7e7e"/><rect x="799.97" y="980.4" width="4.39" height="102.75" fill="#878787"/><rect x="831.6" y="980.4" width="21.45" height="102.75" fill="#828282"/><rect x="853.05" y="980.4" width="15.4" height="102.75" fill="#838383"/><rect x="853.05" y="980.4" width="3.08" height="102.75" fill="#737373"/><rect x="868.45" y="980.4" width="16.8" height="102.75" fill="#7e7e7e"/><rect x="885.25" y="980.4" width="15.2" height="102.75" fill="#7e7e7e"/><rect x="900.45" y="980.4" width="21.24" height="102.75" fill="#7e7e7e"/><rect x="906.82" y="980.4" width="6.37" height="102.75" fill="#6e6e6e"/><rect x="921.69" y="980.4" width="2.34" height="102.75" fill="#919191"/><rect x="945.12" y="980.4" width="7.33" height="102.75" fill="#878787"/><rect x="980.75" y="980.4" width="17.85" height="102.75" fill="#838383"/><rect x="998.6" y="980.4" width="5.09" height="102.75" fill="#393939"/><rect x="1006.23" y="980.4" width="15.27" height="102.75" fill="#c6c6c6"/><rect x="1021.5" y="980.4" width="2.55" height="102.75" fill="#8c8c8c"/><rect x="1029.85" y="980.4" width="26.4" height="102.75" fill="#787878"/><rect x="1071.85" y="980.4" width="10.9" height="102.75" fill="#818181"/></g>
<g filter="url(#fm)"><rect x="677.15" y="1111.88" width="405.6" height="32" fill="#808080"/><rect x="677.15" y="1111.88" width="43.72" height="32" fill="#7a7a7a"/><rect x="720.87" y="1111.88" width="27.45" height="32" fill="#7a7a7a"/><rect x="748.32" y="1111.88" width="25.63" height="32" fill="#8c8c8c"/><rect x="773.95" y="1111.88" width="15.05" height="32" fill="#8a8a8a"/><rect x="773.95" y="1111.88" width="3.01" height="32" fill="#c6c6c6"/><rect x="789" y="1111.88" width="21.95" height="32" fill="#7c7c7c"/><rect x="810.95" y="1111.88" width="20.65" height="32" fill="#666666"/><rect x="831.6" y="1111.88" width="21.45" height="32" fill="#6c6c6c"/><rect x="853.05" y="1111.88" width="15.4" height="32" fill="#707070"/><rect x="853.05" y="1111.88" width="3.85" height="32" fill="#060606"/><rect x="868.45" y="1111.88" width="16.8" height="32" fill="#737373"/><rect x="885.25" y="1111.88" width="15.2" height="32" fill="#757575"/><rect x="900.45" y="1111.88" width="21.24" height="32" fill="#878787"/><rect x="921.69" y="1111.88" width="23.43" height="32" fill="#868686"/><rect x="933.4" y="1111.88" width="10.54" height="32" fill="#b9b9b9"/><rect x="945.12" y="1111.88" width="1.47" height="32" fill="#666666"/><rect x="946.59" y="1111.88" width="4.4" height="32" fill="#2d2d2d"/><rect x="952.45" y="1111.88" width="14.6" height="32" fill="#797979"/><rect x="958.29" y="1111.88" width="5.11" height="32" fill="#404040"/><rect x="967.05" y="1111.88" width="13.7" height="32" fill="#7c7c7c"/><rect x="980.75" y="1111.88" width="17.85" height="32" fill="#838383"/><rect x="998.6" y="1111.88" width="25.45" height="32" fill="#8c8c8c"/><rect x="1004.2" y="1111.88" width="18.58" height="32" fill="#d9d9d9"/><rect x="1029.85" y="1111.88" width="26.4" height="32" fill="#8c8c8c"/><rect x="1056.25" y="1111.88" width="11.56" height="32" fill="#868686"/><rect x="1071.85" y="1111.88" width="10.9" height="32" fill="#262626"/><rect x="1071.85" y="1111.88" width="3.27" height="32" fill="#666666"/></g>
<g filter="url(#fr)"><rect x="677.15" y="1152.33" width="405.6" height="102.75" fill="#808080"/><rect x="677.15" y="1152.33" width="43.72" height="102.75" fill="#787878"/><rect x="705.57" y="1152.33" width="8.74" height="102.75" fill="#626262"/><rect x="720.87" y="1152.33" width="27.45" height="102.75" fill="#7a7a7a"/><rect x="729.1" y="1152.33" width="8.24" height="102.75" fill="#6e6e6e"/><rect x="741.46" y="1152.33" width="2.75" height="102.75" fill="#8c8c8c"/><rect x="748.32" y="1152.33" width="25.63" height="102.75" fill="#7e7e7e"/><rect x="773.95" y="1152.33" width="15.05" height="102.75" fill="#838383"/><rect x="773.95" y="1152.33" width="3.01" height="102.75" fill="#b8b8b8"/><rect x="789" y="1152.33" width="21.95" height="102.75" fill="#878787"/><rect x="795.58" y="1152.33" width="8.78" height="102.75" fill="#919191"/><rect x="810.95" y="1152.33" width="2.07" height="102.75" fill="#b1b1b1"/><rect x="831.6" y="1152.33" width="21.45" height="102.75" fill="#818181"/><rect x="838.03" y="1152.33" width="4.29" height="102.75" fill="#9d9d9d"/><rect x="853.05" y="1152.33" width="15.4" height="102.75" fill="#7e7e7e"/><rect x="853.05" y="1152.33" width="3.08" height="102.75" fill="#626262"/><rect x="885.25" y="1152.33" width="15.2" height="102.75" fill="#7c7c7c"/><rect x="900.45" y="1152.33" width="21.24" height="102.75" fill="#7a7a7a"/><rect x="906.82" y="1152.33" width="6.37" height="102.75" fill="#626262"/><rect x="921.69" y="1152.33" width="23.43" height="102.75" fill="#838383"/><rect x="933.4" y="1152.33" width="11.71" height="102.75" fill="#b8b8b8"/><rect x="945.12" y="1152.33" width="7.33" height="102.75" fill="#474747"/><rect x="952.45" y="1152.33" width="14.6" height="102.75" fill="#7c7c7c"/><rect x="958.29" y="1152.33" width="5.84" height="102.75" fill="#474747"/><rect x="980.75" y="1152.33" width="17.85" height="102.75" fill="#7c7c7c"/><rect x="998.6" y="1152.33" width="25.45" height="102.75" fill="#878787"/><rect x="1003.69" y="1152.33" width="16.54" height="102.75" fill="#dddddd"/><rect x="1029.85" y="1152.33" width="26.4" height="102.75" fill="#787878"/><rect x="1056.25" y="1152.33" width="11.56" height="102.75" fill="#828282"/><rect x="1071.85" y="1152.33" width="10.9" height="102.75" fill="#404040"/><rect x="1071.85" y="1152.33" width="3.27" height="102.75" fill="#787878"/></g>
<g filter="url(#fm)"><rect x="677.15" y="1283.79" width="405.6" height="32" fill="#808080"/><rect x="677.15" y="1283.79" width="43.72" height="32" fill="#7d7d7d"/><rect x="773.95" y="1283.79" width="15.05" height="32" fill="#838383"/><rect x="789" y="1283.79" width="21.95" height="32" fill="#828282"/><rect x="807.66" y="1283.79" width="3.29" height="32" fill="#262626"/><rect x="810.95" y="1283.79" width="20.65" height="32" fill="#696969"/><rect x="831.6" y="1283.79" width="21.45" height="32" fill="#707070"/><rect x="853.05" y="1283.79" width="15.4" height="32" fill="#737373"/><rect x="868.45" y="1283.79" width="16.8" height="32" fill="#757575"/><rect x="885.25" y="1283.79" width="15.2" height="32" fill="#797979"/><rect x="900.45" y="1283.79" width="21.24" height="32" fill="#8a8a8a"/><rect x="900.45" y="1283.79" width="6.37" height="32" fill="#262626"/><rect x="921.69" y="1283.79" width="23.43" height="32" fill="#939393"/><rect x="940.43" y="1283.79" width="4.69" height="32" fill="#acacac"/><rect x="945.12" y="1283.79" width="2.2" height="32" fill="#333333"/><rect x="949.15" y="1283.79" width="1.83" height="32" fill="#404040"/><rect x="952.45" y="1283.79" width="14.6" height="32" fill="#868686"/><rect x="967.05" y="1283.79" width="13.7" height="32" fill="#838383"/><rect x="980.75" y="1283.79" width="17.85" height="32" fill="#828282"/><rect x="990.57" y="1283.79" width="8.03" height="32" fill="#262626"/><rect x="998.6" y="1283.79" width="25.45" height="32" fill="#8c8c8c"/><rect x="1003.69" y="1283.79" width="19.09" height="32" fill="#cfcfcf"/><rect x="1029.85" y="1283.79" width="26.4" height="32" fill="#828282"/><rect x="1056.25" y="1283.79" width="11.56" height="32" fill="#838383"/><rect x="1067.81" y="1283.79" width="4.04" height="32" fill="#828282"/><rect x="1071.85" y="1283.79" width="10.9" height="32" fill="#828282"/></g>
<g filter="url(#fr)"><rect x="677.15" y="1324.24" width="405.6" height="102.75" fill="#808080"/><rect x="677.15" y="1324.24" width="43.72" height="102.75" fill="#7c7c7c"/><rect x="705.57" y="1324.24" width="8.74" height="102.75" fill="#6e6e6e"/><rect x="741.46" y="1324.24" width="2.75" height="102.75" fill="#898989"/><rect x="789" y="1324.24" width="21.95" height="102.75" fill="#8c8c8c"/><rect x="807.66" y="1324.24" width="3.29" height="102.75" fill="#555555"/><rect x="810.95" y="1324.24" width="2.07" height="102.75" fill="#b1b1b1"/><rect x="831.6" y="1324.24" width="21.45" height="102.75" fill="#858585"/><rect x="853.05" y="1324.24" width="15.4" height="102.75" fill="#858585"/><rect x="900.45" y="1324.24" width="21.24" height="102.75" fill="#7e7e7e"/><rect x="900.45" y="1324.24" width="7.43" height="102.75" fill="#313131"/><rect x="907.88" y="1324.24" width="7.43" height="102.75" fill="#737373"/><rect x="921.69" y="1324.24" width="23.43" height="102.75" fill="#838383"/><rect x="940.43" y="1324.24" width="4.69" height="102.75" fill="#c6c6c6"/><rect x="945.12" y="1324.24" width="7.33" height="102.75" fill="#787878"/><rect x="989.67" y="1324.24" width="8.92" height="102.75" fill="#474747"/><rect x="998.6" y="1324.24" width="25.45" height="102.75" fill="#919191"/><rect x="1003.69" y="1324.24" width="17.81" height="102.75" fill="#e5e5e5"/><rect x="1029.85" y="1324.24" width="26.4" height="102.75" fill="#7e7e7e"/><rect x="1067.81" y="1324.24" width="4.04" height="102.75" fill="#878787"/></g>
<g filter="url(#fm)"><rect x="677.15" y="1455.71" width="405.6" height="32" fill="#808080"/><rect x="720.87" y="1455.71" width="27.45" height="32" fill="#878787"/><rect x="748.32" y="1455.71" width="25.63" height="32" fill="#878787"/><rect x="773.95" y="1455.71" width="15.05" height="32" fill="#8a8a8a"/><rect x="789" y="1455.71" width="21.95" height="32" fill="#878787"/><rect x="810.95" y="1455.71" width="20.65" height="32" fill="#6c6c6c"/><rect x="831.6" y="1455.71" width="21.45" height="32" fill="#797979"/><rect x="853.05" y="1455.71" width="15.4" height="32" fill="#5c5c5c"/><rect x="868.45" y="1455.71" width="16.8" height="32" fill="#757575"/><rect x="885.25" y="1455.71" width="15.2" height="32" fill="#7a7a7a"/><rect x="900.45" y="1455.71" width="21.24" height="32" fill="#878787"/><rect x="900.45" y="1455.71" width="6.37" height="32" fill="#202020"/><rect x="921.69" y="1455.71" width="23.43" height="32" fill="#8a8a8a"/><rect x="945.12" y="1455.71" width="7.33" height="32" fill="#868686"/><rect x="952.45" y="1455.71" width="14.6" height="32" fill="#8a8a8a"/><rect x="967.05" y="1455.71" width="13.7" height="32" fill="#878787"/><rect x="980.75" y="1455.71" width="17.85" height="32" fill="#7d7d7d"/><rect x="998.6" y="1455.71" width="25.45" height="32" fill="#8a8a8a"/><rect x="1004.2" y="1455.71" width="18.58" height="32" fill="#d2d2d2"/><rect x="1029.85" y="1455.71" width="26.4" height="32" fill="#707070"/><rect x="1056.25" y="1455.71" width="11.56" height="32" fill="#858585"/><rect x="1067.81" y="1455.71" width="4.04" height="32" fill="#838383"/><rect x="1071.85" y="1455.71" width="10.9" height="32" fill="#838383"/></g>
<g filter="url(#fr)"><rect x="677.15" y="1496.16" width="405.6" height="102.75" fill="#808080"/><rect x="677.15" y="1496.16" width="43.72" height="102.75" fill="#737373"/><rect x="705.57" y="1496.16" width="8.74" height="102.75" fill="#626262"/><rect x="720.87" y="1496.16" width="27.45" height="102.75" fill="#787878"/><rect x="731.85" y="1496.16" width="5.49" height="102.75" fill="#6e6e6e"/><rect x="770.11" y="1496.16" width="3.84" height="102.75" fill="#737373"/><rect x="773.95" y="1496.16" width="15.05" height="102.75" fill="#7e7e7e"/><rect x="779.97" y="1496.16" width="3.01" height="102.75" fill="#6e6e6e"/><rect x="799.97" y="1496.16" width="2.2" height="102.75" fill="#919191"/><rect x="819.21" y="1496.16" width="6.19" height="102.75" fill="#737373"/><rect x="831.6" y="1496.16" width="21.45" height="102.75" fill="#838383"/><rect x="831.6" y="1586.59" width="21.45" height="7.19" fill="#b8b8b8"/><rect x="853.05" y="1496.16" width="15.4" height="102.75" fill="#787878"/><rect x="885.25" y="1496.16" width="15.2" height="102.75" fill="#7c7c7c"/><rect x="900.45" y="1496.16" width="21.24" height="102.75" fill="#7e7e7e"/><rect x="900.45" y="1496.16" width="6.37" height="102.75" fill="#222222"/><rect x="906.82" y="1496.16" width="4.25" height="102.75" fill="#737373"/><rect x="945.12" y="1496.16" width="7.33" height="102.75" fill="#787878"/><rect x="967.05" y="1496.16" width="13.7" height="102.75" fill="#7c7c7c"/><rect x="980.75" y="1496.16" width="17.85" height="102.75" fill="#838383"/><rect x="998.6" y="1496.16" width="25.45" height="102.75" fill="#919191"/><rect x="1002.42" y="1496.16" width="20.36" height="102.75" fill="#e5e5e5"/><rect x="1029.85" y="1496.16" width="26.4" height="102.75" fill="#818181"/></g>
<g filter="url(#fm)"><rect x="677.15" y="1627.63" width="405.6" height="32" fill="#808080"/><rect x="677.15" y="1627.63" width="43.72" height="32" fill="#7c7c7c"/><rect x="720.87" y="1627.63" width="27.45" height="32" fill="#868686"/><rect x="748.32" y="1627.63" width="25.63" height="32" fill="#838383"/><rect x="789" y="1627.63" width="21.95" height="32" fill="#868686"/><rect x="810.95" y="1627.63" width="20.65" height="32" fill="#666666"/><rect x="831.6" y="1627.63" width="21.45" height="32" fill="#6c6c6c"/><rect x="853.05" y="1627.63" width="15.4" height="32" fill="#6c6c6c"/><rect x="868.45" y="1627.63" width="16.8" height="32" fill="#6c6c6c"/><rect x="885.25" y="1627.63" width="15.2" height="32" fill="#7a7a7a"/><rect x="900.45" y="1627.63" width="21.24" height="32" fill="#838383"/><rect x="921.69" y="1627.63" width="23.43" height="32" fill="#868686"/><rect x="945.12" y="1627.63" width="7.33" height="32" fill="#858585"/><rect x="952.45" y="1627.63" width="14.6" height="32" fill="#838383"/><rect x="980.75" y="1627.63" width="17.85" height="32" fill="#787878"/><rect x="995.03" y="1627.63" width="3.57" height="32" fill="#707070"/><rect x="998.6" y="1627.63" width="5.09" height="32" fill="#191919"/><rect x="1006.23" y="1627.63" width="16.54" height="32" fill="#b9b9b9"/><rect x="1029.85" y="1627.63" width="26.4" height="32" fill="#707070"/></g>
<g filter="url(#fr)"><rect x="677.15" y="1668.08" width="405.6" height="102.75" fill="#808080"/><rect x="677.15" y="1668.08" width="43.72" height="102.75" fill="#767676"/><rect x="705.57" y="1668.08" width="8.74" height="102.75" fill="#686868"/><rect x="720.87" y="1668.08" width="27.45" height="102.75" fill="#7a7a7a"/><rect x="740.63" y="1668.08" width="2.2" height="102.75" fill="#878787"/><rect x="779.97" y="1668.08" width="3.01" height="102.75" fill="#6e6e6e"/><rect x="789" y="1668.08" width="21.95" height="102.75" fill="#838383"/><rect x="810.95" y="1668.08" width="20.65" height="102.75" fill="#7e7e7e"/><rect x="810.95" y="1668.08" width="2.07" height="102.75" fill="#9d9d9d"/><rect x="831.6" y="1668.08" width="21.45" height="102.75" fill="#838383"/><rect x="853.05" y="1668.08" width="15.4" height="102.75" fill="#878787"/><rect x="868.45" y="1668.08" width="16.8" height="102.75" fill="#7e7e7e"/><rect x="885.25" y="1668.08" width="15.2" height="102.75" fill="#7e7e7e"/><rect x="900.45" y="1668.08" width="21.24" height="102.75" fill="#787878"/><rect x="921.69" y="1668.08" width="23.43" height="102.75" fill="#818181"/><rect x="936.22" y="1737.95" width="8.9" height="32.88" fill="#c6c6c6"/><rect x="945.12" y="1737.95" width="7.33" height="32.88" fill="#979797"/><rect x="952.45" y="1668.08" width="14.6" height="102.75" fill="#7c7c7c"/><rect x="980.75" y="1668.08" width="17.85" height="102.75" fill="#878787"/><rect x="989.67" y="1742.07" width="8.92" height="28.77" fill="#4e4e4e"/><rect x="998.6" y="1668.08" width="25.45" height="102.75" fill="#919191"/><rect x="998.6" y="1668.08" width="5.09" height="102.75" fill="#393939"/><rect x="1004.96" y="1668.08" width="18.32" height="102.75" fill="#b8b8b8"/></g>
<g filter="url(#fm)"><rect x="677.15" y="1799.55" width="405.6" height="32" fill="#808080"/><rect x="677.15" y="1799.55" width="43.72" height="32" fill="#757575"/><rect x="720.87" y="1799.55" width="27.45" height="32" fill="#757575"/><rect x="748.32" y="1799.55" width="25.63" height="32" fill="#757575"/><rect x="773.95" y="1799.55" width="15.05" height="32" fill="#787878"/><rect x="789" y="1799.55" width="21.95" height="32" fill="#747474"/><rect x="810.95" y="1799.55" width="20.65" height="32" fill="#696969"/><rect x="831.6" y="1799.55" width="21.45" height="32" fill="#6f6f6f"/><rect x="853.05" y="1799.55" width="15.4" height="32" fill="#737373"/><rect x="868.45" y="1799.55" width="16.8" height="32" fill="#737373"/><rect x="885.25" y="1799.55" width="15.2" height="32" fill="#757575"/><rect x="900.45" y="1799.55" width="21.24" height="32" fill="#7d7d7d"/><rect x="921.69" y="1799.55" width="23.43" height="32" fill="#888888"/><rect x="945.12" y="1799.55" width="7.33" height="32" fill="#909090"/><rect x="952.45" y="1799.55" width="14.6" height="32" fill="#909090"/><rect x="967.05" y="1799.55" width="13.7" height="32" fill="#8c8c8c"/><rect x="980.75" y="1799.55" width="17.85" height="32" fill="#8b8b8b"/><rect x="998.6" y="1799.55" width="5.09" height="32" fill="#202020"/><rect x="1006.23" y="1799.55" width="16.54" height="32" fill="#c6c6c6"/><rect x="1024.05" y="1799.55" width="5.8" height="32" fill="#8c8c8c"/><rect x="1029.85" y="1799.55" width="26.4" height="32" fill="#8a8a8a"/><rect x="1056.25" y="1799.55" width="11.56" height="32" fill="#939393"/><rect x="1067.81" y="1799.55" width="4.04" height="32" fill="#8c8c8c"/><rect x="1071.85" y="1799.55" width="10.9" height="32" fill="#8f8f8f"/></g>
<g filter="url(#fr)"><rect x="677.15" y="1840" width="405.6" height="102.75" fill="#808080"/><rect x="677.15" y="1840" width="43.72" height="102.75" fill="#767676"/><rect x="705.57" y="1840" width="8.74" height="102.75" fill="#626262"/><rect x="720.87" y="1840" width="27.45" height="102.75" fill="#7e7e7e"/><rect x="741.46" y="1840" width="2.75" height="102.75" fill="#8c8c8c"/><rect x="789" y="1840" width="21.95" height="102.75" fill="#878787"/><rect x="810.95" y="1840" width="2.07" height="102.75" fill="#9d9d9d"/><rect x="817.14" y="1840" width="8.26" height="102.75" fill="#737373"/><rect x="831.6" y="1840" width="21.45" height="102.75" fill="#898989"/><rect x="853.05" y="1840" width="15.4" height="102.75" fill="#8c8c8c"/><rect x="863.83" y="1840" width="4.62" height="102.75" fill="#686868"/><rect x="868.45" y="1840" width="16.8" height="102.75" fill="#838383"/><rect x="897.41" y="1840" width="3.04" height="102.75" fill="#737373"/><rect x="900.45" y="1840" width="21.24" height="102.75" fill="#787878"/><rect x="906.82" y="1840" width="6.37" height="102.75" fill="#5b5b5b"/><rect x="921.69" y="1840" width="23.43" height="102.75" fill="#818181"/><rect x="921.69" y="1840" width="2.34" height="102.75" fill="#9d9d9d"/><rect x="967.05" y="1840" width="13.7" height="102.75" fill="#838383"/><rect x="980.75" y="1840" width="17.85" height="102.75" fill="#878787"/><rect x="998.6" y="1840" width="25.45" height="102.75" fill="#919191"/><rect x="998.6" y="1840" width="5.09" height="102.75" fill="#393939"/><rect x="1005.47" y="1840" width="17.31" height="102.75" fill="#b5b5b5"/><rect x="1029.85" y="1840" width="26.4" height="102.75" fill="#7a7a7a"/><rect x="1029.85" y="1840" width="3.96" height="102.75" fill="#5b5b5b"/><rect x="1056.25" y="1840" width="11.56" height="102.75" fill="#838383"/><rect x="1067.81" y="1840" width="4.04" height="102.75" fill="#8c8c8c"/><rect x="1071.85" y="1840" width="10.9" height="102.75" fill="#838383"/></g>
<g filter="url(#fm)"><rect x="677.15" y="1971.47" width="405.6" height="32" fill="#808080"/><rect x="677.15" y="1971.47" width="43.72" height="32" fill="#797979"/><rect x="720.87" y="1971.47" width="27.45" height="32" fill="#797979"/><rect x="748.32" y="1971.47" width="25.63" height="32" fill="#7c7c7c"/><rect x="789" y="1971.47" width="21.95" height="32" fill="#7a7a7a"/><rect x="810.95" y="1971.47" width="20.65" height="32" fill="#666666"/><rect x="831.6" y="1971.47" width="21.45" height="32" fill="#6c6c6c"/><rect x="853.05" y="1971.47" width="15.4" height="32" fill="#707070"/><rect x="868.45" y="1971.47" width="16.8" height="32" fill="#707070"/><rect x="885.25" y="1971.47" width="15.2" height="32" fill="#737373"/><rect x="900.45" y="1971.47" width="21.24" height="32" fill="#878787"/><rect x="900.45" y="1971.47" width="2.55" height="32" fill="#333333"/><rect x="921.69" y="1971.47" width="23.43" height="32" fill="#878787"/><rect x="945.12" y="1971.47" width="7.33" height="32" fill="#838383"/><rect x="952.45" y="1971.47" width="14.6" height="32" fill="#838383"/><rect x="980.75" y="1971.47" width="17.85" height="32" fill="#7c7c7c"/><rect x="998.6" y="1971.47" width="5.09" height="32" fill="#262626"/><rect x="1006.23" y="1971.47" width="16.54" height="32" fill="#b9b9b9"/><rect x="1029.85" y="1971.47" width="7.92" height="32" fill="#8f8f8f"/></g>
<g filter="url(#fr)"><rect x="677.15" y="2011.92" width="405.6" height="102.75" fill="#808080"/><rect x="677.15" y="2011.92" width="43.72" height="102.75" fill="#787878"/><rect x="677.15" y="2011.92" width="2.19" height="102.75" fill="#9d9d9d"/><rect x="705.57" y="2011.92" width="8.74" height="102.75" fill="#626262"/><rect x="720.87" y="2011.92" width="27.45" height="102.75" fill="#7c7c7c"/><rect x="741.46" y="2011.92" width="2.75" height="102.75" fill="#8c8c8c"/><rect x="779.97" y="2011.92" width="3.01" height="102.75" fill="#787878"/><rect x="789" y="2011.92" width="21.95" height="102.75" fill="#858585"/><rect x="810.95" y="2011.92" width="20.65" height="102.75" fill="#7e7e7e"/><rect x="810.95" y="2011.92" width="2.07" height="102.75" fill="#979797"/><rect x="831.6" y="2011.92" width="21.45" height="102.75" fill="#878787"/><rect x="853.05" y="2011.92" width="15.4" height="102.75" fill="#898989"/><rect x="868.45" y="2011.92" width="16.8" height="102.75" fill="#818181"/><rect x="900.45" y="2011.92" width="21.24" height="102.75" fill="#7a7a7a"/><rect x="900.45" y="2011.92" width="2.55" height="102.75" fill="#313131"/><rect x="906.82" y="2011.92" width="6.37" height="102.75" fill="#5b5b5b"/><rect x="921.69" y="2011.92" width="23.43" height="102.75" fill="#818181"/><rect x="921.69" y="2011.92" width="2.34" height="102.75" fill="#9d9d9d"/><rect x="959.75" y="2011.92" width="4.38" height="102.75" fill="#686868"/><rect x="980.75" y="2011.92" width="17.85" height="102.75" fill="#858585"/><rect x="980.75" y="2099.26" width="17.85" height="15.41" fill="#9d9d9d"/><rect x="998.6" y="2011.92" width="25.45" height="102.75" fill="#919191"/><rect x="998.6" y="2011.92" width="5.09" height="102.75" fill="#404040"/><rect x="1005.47" y="2011.92" width="17.31" height="102.75" fill="#b2b2b2"/><rect x="1029.85" y="2011.92" width="26.4" height="102.75" fill="#7e7e7e"/><rect x="1056.25" y="2011.92" width="11.56" height="102.75" fill="#818181"/><rect x="1067.81" y="2011.92" width="4.04" height="102.75" fill="#919191"/><rect x="1067.81" y="2104.4" width="4.04" height="10.28" fill="#c6c6c6"/><rect x="1071.85" y="2011.92" width="10.9" height="102.75" fill="#838383"/></g>
<g filter="url(#fm)"><rect x="677.15" y="2143.39" width="405.6" height="32" fill="#808080"/><rect x="677.15" y="2143.39" width="43.72" height="32" fill="#838383"/><rect x="720.87" y="2143.39" width="27.45" height="32" fill="#838383"/><rect x="748.32" y="2143.39" width="25.63" height="32" fill="#858585"/><rect x="773.95" y="2143.39" width="15.05" height="32" fill="#878787"/><rect x="789" y="2143.39" width="21.95" height="32" fill="#858585"/><rect x="810.95" y="2143.39" width="20.65" height="32" fill="#696969"/><rect x="831.6" y="2143.39" width="21.45" height="32" fill="#707070"/><rect x="853.05" y="2143.39" width="15.4" height="32" fill="#464646"/><rect x="868.45" y="2143.39" width="16.8" height="32" fill="#737373"/><rect x="885.25" y="2143.39" width="15.2" height="32" fill="#757575"/><rect x="900.45" y="2143.39" width="21.24" height="32" fill="#606060"/><rect x="921.69" y="2143.39" width="23.43" height="32" fill="#878787"/><rect x="945.12" y="2143.39" width="7.33" height="32" fill="#6c6c6c"/><rect x="952.45" y="2143.39" width="14.6" height="32" fill="#838383"/><rect x="967.05" y="2143.39" width="13.7" height="32" fill="#828282"/><rect x="980.75" y="2143.39" width="17.85" height="32" fill="#7c7c7c"/><rect x="998.6" y="2143.39" width="3.82" height="32" fill="#666666"/><rect x="1004.96" y="2143.39" width="17.81" height="32" fill="#cccccc"/><rect x="1029.85" y="2143.39" width="26.4" height="32" fill="#797979"/><rect x="1056.25" y="2143.39" width="11.56" height="32" fill="#868686"/><rect x="1067.81" y="2143.39" width="4.04" height="32" fill="#838383"/><rect x="1071.85" y="2143.39" width="10.9" height="32" fill="#838383"/></g>
<g filter="url(#frc)"><rect x="677.15" y="2183.84" width="405.6" height="102.75" fill="#808080"/><rect x="677.15" y="2183.84" width="43.72" height="102.75" fill="#7a7a7a"/><rect x="677.15" y="2183.84" width="2.19" height="102.75" fill="#9d9d9d"/><rect x="705.57" y="2183.84" width="8.74" height="102.75" fill="#626262"/><rect x="720.87" y="2183.84" width="27.45" height="102.75" fill="#7e7e7e"/><rect x="726.36" y="2183.84" width="10.98" height="102.75" fill="#686868"/><rect x="773.95" y="2183.84" width="15.05" height="102.75" fill="#8c8c8c"/><rect x="789" y="2183.84" width="21.95" height="102.75" fill="#8c8c8c"/><rect x="789" y="2224.94" width="21.95" height="20.55" fill="#9d9d9d"/><rect x="810.95" y="2183.84" width="20.65" height="102.75" fill="#7e7e7e"/><rect x="810.95" y="2183.84" width="2.07" height="102.75" fill="#b8b8b8"/><rect x="831.6" y="2183.84" width="21.45" height="102.75" fill="#858585"/><rect x="838.03" y="2183.84" width="4.29" height="102.75" fill="#9d9d9d"/><rect x="853.05" y="2183.84" width="15.4" height="102.75" fill="#7c7c7c"/><rect x="863.83" y="2183.84" width="4.62" height="102.75" fill="#626262"/><rect x="868.45" y="2183.84" width="16.8" height="102.75" fill="#878787"/><rect x="900.45" y="2183.84" width="21.24" height="102.75" fill="#6e6e6e"/><rect x="906.82" y="2183.84" width="8.5" height="102.75" fill="#474747"/><rect x="921.69" y="2183.84" width="23.43" height="102.75" fill="#878787"/><rect x="938.09" y="2183.84" width="7.03" height="102.75" fill="#979797"/><rect x="945.12" y="2183.84" width="7.33" height="102.75" fill="#838383"/><rect x="952.45" y="2183.84" width="14.6" height="102.75" fill="#787878"/><rect x="967.05" y="2183.84" width="1.37" height="102.75" fill="#9d9d9d"/><rect x="980.75" y="2183.84" width="17.85" height="102.75" fill="#838383"/><rect x="998.6" y="2183.84" width="25.45" height="102.75" fill="#878787"/><rect x="1003.69" y="2183.84" width="16.54" height="102.75" fill="#c9c9c9"/><rect x="1029.85" y="2183.84" width="26.4" height="102.75" fill="#7c7c7c"/><rect x="1056.25" y="2183.84" width="11.56" height="102.75" fill="#858585"/><rect x="1067.81" y="2183.84" width="4.04" height="102.75" fill="#9d9d9d"/><rect x="1071.85" y="2183.84" width="10.9" height="102.75" fill="#7c7c7c"/></g>
<path class="cl" d="M720.87 767.06V2287.57M748.32 767.06V2287.57M773.95 767.06V2287.57M789 767.06V2287.57M810.95 767.06V2287.57M831.6 767.06V2287.57M853.05 767.06V2287.57M868.45 767.06V2287.57M885.25 767.06V2287.57M900.45 767.06V2287.57M921.69 767.06V2287.57M945.12 767.06V2287.57M952.45 767.06V2287.57M967.05 767.06V2287.57M980.75 767.06V2287.57M998.6 767.06V2287.57M1024.05 767.06V2287.57M1029.85 767.06V2287.57M1056.25 767.06V2287.57M1067.81 767.06V2287.57M1071.85 767.06V2287.57"/>
<rect class="bx" x="677.15" y="768.03" width="405.6" height="32"/>
<rect class="bx" x="677.15" y="808.49" width="405.6" height="102.75"/>
<text class="sl" transform="translate(665.75 839.63) rotate(-90)">SJ625</text>
<rect class="bx" x="677.15" y="939.95" width="405.6" height="32"/>
<rect class="bx" x="677.15" y="980.4" width="405.6" height="102.75"/>
<text class="sl" transform="translate(665.75 1011.55) rotate(-90)">MUV39</text>
<rect class="bx" x="677.15" y="1111.88" width="405.6" height="32"/>
<rect class="bx" x="677.15" y="1152.33" width="405.6" height="102.75"/>
<text class="sl" transform="translate(665.75 1183.48) rotate(-90)">SJ723</text>
<rect class="bx" x="677.15" y="1283.79" width="405.6" height="32"/>
<rect class="bx" x="677.15" y="1324.24" width="405.6" height="102.75"/>
<text class="sl" transform="translate(665.75 1355.39) rotate(-90)">SJ217</text>
<rect class="bx" x="677.15" y="1455.71" width="405.6" height="32"/>
<rect class="bx" x="677.15" y="1496.16" width="405.6" height="102.75"/>
<text class="sl" transform="translate(665.75 1527.31) rotate(-90)">MUV27</text>
<rect class="bx" x="677.15" y="1627.63" width="405.6" height="32"/>
<rect class="bx" x="677.15" y="1668.08" width="405.6" height="102.75"/>
<text class="sl" transform="translate(665.75 1699.23) rotate(-90)">BCH1031</text>
<rect class="bx" x="677.15" y="1799.55" width="405.6" height="32"/>
<rect class="bx" x="677.15" y="1840" width="405.6" height="102.75"/>
<text class="sl" transform="translate(665.75 1871.15) rotate(-90)">MUV19</text>
<rect class="bx" x="677.15" y="1971.47" width="405.6" height="32"/>
<rect class="bx" x="677.15" y="2011.92" width="405.6" height="102.75"/>
<text class="sl" transform="translate(665.75 2043.08) rotate(-90)">MUV37</text>
<rect class="bx" x="677.15" y="2143.39" width="405.6" height="32"/>
<rect class="bx" x="677.15" y="2183.84" width="405.6" height="102.75"/>
<text class="sl" transform="translate(665.75 2214.99) rotate(-90)">SJ970</text>
<text class="tt" x="879.95" y="746.16">Group 4 (9 samples)</text>
<text class="pl" x="607.05" y="719.06">d</text>
<text class="ax" x="699.01" y="2314.77">1</text>
<text class="ax" x="734.6" y="2314.77">2</text>
<text class="ax" x="761.13" y="2314.77">3</text>
<text class="ax" x="781.47" y="2314.77">4</text>
<text class="ax" x="799.97" y="2314.77">5</text>
<text class="ax" x="821.27" y="2314.77">6</text>
<text class="ax" x="842.32" y="2314.77">7</text>
<text class="ax" x="860.75" y="2314.77">8</text>
<text class="ax" x="876.55" y="2314.77">9</text>
<text class="ax" x="911.07" y="2314.77">11</text>
<text class="ax" x="948.38" y="2314.77">13</text>
<text class="ax" x="974.7" y="2314.77">15</text>
<text class="ax" x="1013.52" y="2314.77">17</text>
<text class="ax" x="1042.55" y="2314.77">19</text>
<text class="ax" x="1068.63" y="2314.77">21</text>
<text class="axl" x="634.85" y="2339.97">Chromosome</text>
<text class="ax" x="892.85" y="2339.97">10</text>
<text class="ax" x="933.4" y="2339.97">12</text>
<text class="ax" x="960.15" y="2339.97">14</text>
<text class="ax" x="990.88" y="2339.97">16</text>
<text class="ax" x="1026.95" y="2339.97">18</text>
<text class="ax" x="1054.83" y="2339.97">20</text>
<text class="ax" x="1083.9" y="2339.97">22</text>
</g>
<g id="panel-e">
<g filter="url(#fm)"><rect x="1283.7" y="80.35" width="405.6" height="32" fill="#808080"/><rect x="1283.7" y="80.35" width="43.72" height="32" fill="#8a8a8a"/><rect x="1292.44" y="80.35" width="5.25" height="32" fill="#b2b2b2"/><rect x="1297.69" y="80.35" width="10.06" height="32" fill="#797979"/><rect x="1307.75" y="80.35" width="7.43" height="32" fill="#a6a6a6"/><rect x="1315.18" y="80.35" width="7" height="32" fill="#b8b8b8"/><rect x="1322.17" y="80.35" width="5.25" height="32" fill="#8c8c8c"/><rect x="1327.42" y="80.35" width="27.45" height="32" fill="#797979"/><rect x="1343.89" y="80.35" width="8.24" height="32" fill="#707070"/><rect x="1354.87" y="80.35" width="25.63" height="32" fill="#868686"/><rect x="1368.97" y="80.35" width="11.53" height="32" fill="#c6c6c6"/><rect x="1380.5" y="80.35" width="15.05" height="32" fill="#797979"/><rect x="1391.03" y="80.35" width="4.52" height="32" fill="#595959"/><rect x="1395.55" y="80.35" width="21.95" height="32" fill="#757575"/><rect x="1417.5" y="80.35" width="20.65" height="32" fill="#606060"/><rect x="1438.15" y="80.35" width="21.45" height="32" fill="#666666"/><rect x="1459.6" y="80.35" width="15.4" height="32" fill="#696969"/><rect x="1475" y="80.35" width="16.8" height="32" fill="#060606"/><rect x="1475" y="80.35" width="5.04" height="32" fill="#737373"/><rect x="1491.8" y="80.35" width="15.2" height="32" fill="#707070"/><rect x="1507" y="80.35" width="21.24" height="32" fill="#8c8c8c"/><rect x="1528.24" y="80.35" width="23.43" height="32" fill="#838383"/><rect x="1553.87" y="80.35" width="5.13" height="32" fill="#666666"/><rect x="1573.6" y="80.35" width="13.7" height="32" fill="#838383"/><rect x="1587.3" y="80.35" width="17.85" height="32" fill="#838383"/><rect x="1605.15" y="80.35" width="25.45" height="32" fill="#8c8c8c"/><rect x="1630.6" y="80.35" width="5.8" height="32" fill="#868686"/><rect x="1636.4" y="80.35" width="26.4" height="32" fill="#828282"/><rect x="1649.6" y="80.35" width="13.2" height="32" fill="#707070"/><rect x="1662.8" y="80.35" width="11.56" height="32" fill="#a6a6a6"/><rect x="1662.8" y="80.35" width="4.62" height="32" fill="#737373"/><rect x="1674.36" y="80.35" width="4.04" height="32" fill="#8c8c8c"/><rect x="1678.4" y="80.35" width="10.9" height="32" fill="#939393"/></g>
<g filter="url(#fr)"><rect x="1283.7" y="120.8" width="405.6" height="102.75" fill="#808080"/><rect x="1292.44" y="120.8" width="5.25" height="102.75" fill="#aaaaaa"/><rect x="1313.43" y="136.22" width="4.37" height="82.2" fill="#9d9d9d"/><rect x="1317.8" y="136.22" width="5.25" height="82.2" fill="#b1b1b1"/><rect x="1327.42" y="120.8" width="27.45" height="102.75" fill="#7c7c7c"/><rect x="1343.89" y="120.8" width="5.49" height="102.75" fill="#878787"/><rect x="1370.25" y="120.8" width="10.25" height="102.75" fill="#aaaaaa"/><rect x="1380.5" y="120.8" width="15.05" height="102.75" fill="#858585"/><rect x="1395.55" y="120.8" width="21.95" height="102.75" fill="#878787"/><rect x="1399.94" y="120.8" width="4.39" height="102.75" fill="#979797"/><rect x="1417.5" y="120.8" width="20.65" height="102.75" fill="#818181"/><rect x="1438.15" y="120.8" width="21.45" height="102.75" fill="#838383"/><rect x="1459.6" y="120.8" width="15.4" height="102.75" fill="#838383"/><rect x="1464.22" y="120.8" width="6.16" height="102.75" fill="#9d9d9d"/><rect x="1480.88" y="120.8" width="10.92" height="102.75" fill="#5b5b5b"/><rect x="1491.8" y="120.8" width="15.2" height="102.75" fill="#7c7c7c"/><rect x="1507" y="120.8" width="21.24" height="102.75" fill="#7e7e7e"/><rect x="1513.37" y="120.8" width="6.37" height="102.75" fill="#686868"/><rect x="1528.24" y="120.8" width="23.43" height="102.75" fill="#828282"/><rect x="1551.67" y="120.8" width="7.33" height="102.75" fill="#878787"/><rect x="1559" y="120.8" width="14.6" height="102.75" fill="#7c7c7c"/><rect x="1559" y="120.8" width="7.3" height="102.75" fill="#6e6e6e"/><rect x="1573.6" y="120.8" width="13.7" height="102.75" fill="#818181"/><rect x="1605.15" y="120.8" width="25.45" height="102.75" fill="#818181"/><rect x="1636.4" y="120.8" width="5.28" height="102.75" fill="#8c8c8c"/><rect x="1662.8" y="120.8" width="3.47" height="102.75" fill="#6e6e6e"/><rect x="1668.58" y="120.8" width="5.78" height="102.75" fill="#a4a4a4"/><rect x="1678.4" y="120.8" width="10.9" height="102.75" fill="#919191"/></g>
<g filter="url(#fm)"><rect x="1283.7" y="252.27" width="405.6" height="32" fill="#808080"/><rect x="1283.7" y="252.27" width="43.72" height="32" fill="#696969"/><rect x="1283.7" y="252.27" width="1.31" height="32" fill="#333333"/><rect x="1320.86" y="252.27" width="6.56" height="32" fill="#b2b2b2"/><rect x="1327.42" y="252.27" width="27.45" height="32" fill="#858585"/><rect x="1345.26" y="252.27" width="2.75" height="32" fill="#333333"/><rect x="1348.01" y="252.27" width="4.12" height="32" fill="#202020"/><rect x="1352.12" y="252.27" width="2.74" height="32" fill="#404040"/><rect x="1354.87" y="252.27" width="25.63" height="32" fill="#8c8c8c"/><rect x="1380.5" y="252.27" width="15.05" height="32" fill="#4c4c4c"/><rect x="1395.55" y="252.27" width="21.95" height="32" fill="#838383"/><rect x="1406.52" y="252.27" width="10.98" height="32" fill="#131313"/><rect x="1417.5" y="252.27" width="8.26" height="32" fill="#000000"/><rect x="1425.76" y="252.27" width="3.1" height="32" fill="#333333"/><rect x="1428.86" y="252.27" width="2.07" height="32" fill="#b2b2b2"/><rect x="1430.92" y="252.27" width="7.23" height="32" fill="#666666"/><rect x="1434.02" y="252.27" width="2.07" height="32" fill="#535353"/><rect x="1438.15" y="252.27" width="21.45" height="32" fill="#737373"/><rect x="1459.6" y="252.27" width="15.4" height="32" fill="#797979"/><rect x="1459.6" y="252.27" width="5.39" height="32" fill="#0d0d0d"/><rect x="1475" y="252.27" width="16.8" height="32" fill="#737373"/><rect x="1475" y="252.27" width="5.04" height="32" fill="#b9b9b9"/><rect x="1491.8" y="252.27" width="3.04" height="32" fill="#737373"/><rect x="1494.84" y="252.27" width="2.28" height="32" fill="#595959"/><rect x="1497.12" y="252.27" width="3.04" height="32" fill="#404040"/><rect x="1500.16" y="252.27" width="6.84" height="32" fill="#131313"/><rect x="1507" y="252.27" width="21.24" height="32" fill="#939393"/><rect x="1507" y="252.27" width="8.5" height="32" fill="#acacac"/><rect x="1528.24" y="252.27" width="23.43" height="32" fill="#999999"/><rect x="1551.67" y="252.27" width="7.33" height="32" fill="#737373"/><rect x="1556.07" y="252.27" width="2.2" height="32" fill="#333333"/><rect x="1559" y="252.27" width="14.6" height="32" fill="#838383"/><rect x="1573.6" y="252.27" width="4.8" height="32" fill="#191919"/><rect x="1579.08" y="252.27" width="8.22" height="32" fill="#b2b2b2"/><rect x="1587.3" y="252.27" width="17.85" height="32" fill="#6c6c6c"/><rect x="1596.22" y="252.27" width="7.14" height="32" fill="#262626"/><rect x="1603.36" y="252.27" width="1.79" height="32" fill="#0d0d0d"/><rect x="1605.15" y="252.27" width="25.45" height="32" fill="#606060"/><rect x="1605.15" y="252.27" width="7.63" height="32" fill="#333333"/><rect x="1630.6" y="252.27" width="5.8" height="32" fill="#b2b2b2"/><rect x="1636.4" y="252.27" width="26.4" height="32" fill="#8c8c8c"/><rect x="1662.8" y="252.27" width="11.56" height="32" fill="#9f9f9f"/><rect x="1674.36" y="252.27" width="4.04" height="32" fill="#cccccc"/><rect x="1678.4" y="252.27" width="10.9" height="32" fill="#757575"/><rect x="1678.4" y="252.27" width="3.27" height="32" fill="#999999"/></g>
<g filter="url(#fr)"><rect x="1283.7" y="292.73" width="405.6" height="102.75" fill="#808080"/><rect x="1283.7" y="292.73" width="43.72" height="102.75" fill="#7a7a7a"/><rect x="1309.93" y="292.73" width="10.93" height="102.75" fill="#5b5b5b"/><rect x="1323.05" y="292.73" width="4.37" height="102.75" fill="#bfbfbf"/><rect x="1327.42" y="292.73" width="27.45" height="102.75" fill="#8c8c8c"/><rect x="1343.89" y="292.73" width="10.98" height="102.75" fill="#6e6e6e"/><rect x="1354.87" y="292.73" width="25.63" height="102.75" fill="#919191"/><rect x="1395.55" y="292.73" width="21.95" height="102.75" fill="#878787"/><rect x="1406.52" y="292.73" width="10.98" height="102.75" fill="#404040"/><rect x="1417.5" y="292.73" width="20.65" height="102.75" fill="#919191"/><rect x="1417.5" y="292.73" width="7.23" height="102.75" fill="#555555"/><rect x="1438.15" y="292.73" width="21.45" height="102.75" fill="#979797"/><rect x="1459.6" y="292.73" width="15.4" height="102.75" fill="#838383"/><rect x="1459.6" y="292.73" width="5.39" height="102.75" fill="#2a2a2a"/><rect x="1475" y="292.73" width="16.8" height="102.75" fill="#838383"/><rect x="1475" y="292.73" width="5.04" height="102.75" fill="#c6c6c6"/><rect x="1491.8" y="292.73" width="15.2" height="102.75" fill="#393939"/><rect x="1491.8" y="292.73" width="4.56" height="102.75" fill="#6e6e6e"/><rect x="1507" y="292.73" width="21.24" height="102.75" fill="#878787"/><rect x="1507" y="292.73" width="10.62" height="102.75" fill="#b8b8b8"/><rect x="1528.24" y="292.73" width="23.43" height="102.75" fill="#878787"/><rect x="1535.27" y="292.73" width="7.03" height="102.75" fill="#b8b8b8"/><rect x="1551.67" y="292.73" width="7.33" height="102.75" fill="#555555"/><rect x="1559" y="292.73" width="4.38" height="102.75" fill="#aaaaaa"/><rect x="1573.6" y="292.73" width="4.8" height="102.75" fill="#474747"/><rect x="1580.45" y="292.73" width="6.85" height="102.75" fill="#c6c6c6"/><rect x="1587.3" y="292.73" width="17.85" height="102.75" fill="#787878"/><rect x="1596.22" y="292.73" width="8.92" height="102.75" fill="#404040"/><rect x="1605.15" y="292.73" width="25.45" height="102.75" fill="#5b5b5b"/><rect x="1605.15" y="292.73" width="7.63" height="102.75" fill="#737373"/><rect x="1622.96" y="292.73" width="7.63" height="102.75" fill="#4e4e4e"/><rect x="1630.6" y="292.73" width="5.8" height="102.75" fill="#aaaaaa"/><rect x="1636.4" y="292.73" width="26.4" height="102.75" fill="#838383"/><rect x="1636.4" y="292.73" width="10.56" height="102.75" fill="#9d9d9d"/><rect x="1674.36" y="292.73" width="4.04" height="102.75" fill="#cecece"/><rect x="1678.4" y="292.73" width="10.9" height="102.75" fill="#686868"/><rect x="1678.4" y="292.73" width="4.36" height="102.75" fill="#aaaaaa"/></g>
<g filter="url(#fm)"><rect x="1283.7" y="424.19" width="405.6" height="32" fill="#808080"/><rect x="1283.7" y="424.19" width="43.72" height="32" fill="#707070"/><rect x="1283.7" y="424.19" width="13.12" height="32" fill="#8c8c8c"/><rect x="1327.42" y="424.19" width="27.45" height="32" fill="#707070"/><rect x="1354.87" y="424.19" width="25.63" height="32" fill="#868686"/><rect x="1370.25" y="424.19" width="10.25" height="32" fill="#707070"/><rect x="1380.5" y="424.19" width="15.05" height="32" fill="#6c6c6c"/><rect x="1395.55" y="424.19" width="21.95" height="32" fill="#707070"/><rect x="1417.5" y="424.19" width="20.65" height="32" fill="#595959"/><rect x="1438.15" y="424.19" width="21.45" height="32" fill="#636363"/><rect x="1459.6" y="424.19" width="15.4" height="32" fill="#acacac"/><rect x="1473.46" y="424.19" width="1.54" height="32" fill="#bfbfbf"/><rect x="1475" y="424.19" width="16.8" height="32" fill="#707070"/><rect x="1491.8" y="424.19" width="15.2" height="32" fill="#6c6c6c"/><rect x="1507" y="424.19" width="21.24" height="32" fill="#8a8a8a"/><rect x="1528.24" y="424.19" width="23.43" height="32" fill="#8c8c8c"/><rect x="1551.67" y="424.19" width="7.33" height="32" fill="#737373"/><rect x="1559" y="424.19" width="14.6" height="32" fill="#737373"/><rect x="1573.6" y="424.19" width="13.7" height="32" fill="#797979"/><rect x="1587.3" y="424.19" width="17.85" height="32" fill="#878787"/><rect x="1605.15" y="424.19" width="5.09" height="32" fill="#202020"/><rect x="1610.24" y="424.19" width="11.45" height="32" fill="#868686"/><rect x="1621.69" y="424.19" width="7.63" height="32" fill="#bfbfbf"/><rect x="1636.4" y="424.19" width="26.4" height="32" fill="#8f8f8f"/><rect x="1662.8" y="424.19" width="11.56" height="32" fill="#939393"/><rect x="1678.4" y="424.19" width="10.9" height="32" fill="#999999"/></g>
<g filter="url(#frc)"><rect x="1283.7" y="464.64" width="405.6" height="102.75" fill="#808080"/><rect x="1312.12" y="464.64" width="10.93" height="102.75" fill="#555555"/><rect x="1338.4" y="464.64" width="5.49" height="102.75" fill="#737373"/><rect x="1354.87" y="464.64" width="25.63" height="102.75" fill="#838383"/><rect x="1374.09" y="464.64" width="6.41" height="102.75" fill="#626262"/><rect x="1380.5" y="464.64" width="15.05" height="102.75" fill="#838383"/><rect x="1395.55" y="464.64" width="21.95" height="102.75" fill="#878787"/><rect x="1417.5" y="464.64" width="2.06" height="102.75" fill="#9d9d9d"/><rect x="1438.15" y="464.64" width="21.45" height="102.75" fill="#838383"/><rect x="1459.6" y="464.64" width="15.4" height="102.75" fill="#8c8c8c"/><rect x="1463.45" y="464.64" width="11.55" height="102.75" fill="#bfbfbf"/><rect x="1475" y="464.64" width="16.8" height="102.75" fill="#7c7c7c"/><rect x="1491.8" y="464.64" width="15.2" height="102.75" fill="#787878"/><rect x="1507" y="464.64" width="21.24" height="102.75" fill="#7c7c7c"/><rect x="1528.24" y="464.64" width="23.43" height="102.75" fill="#878787"/><rect x="1546.98" y="464.64" width="4.69" height="102.75" fill="#9d9d9d"/><rect x="1551.67" y="464.64" width="7.33" height="102.75" fill="#838383"/><rect x="1564.84" y="464.64" width="5.84" height="102.75" fill="#626262"/><rect x="1573.6" y="464.64" width="13.7" height="102.75" fill="#838383"/><rect x="1605.15" y="464.64" width="25.45" height="102.75" fill="#838383"/><rect x="1605.15" y="464.64" width="5.09" height="102.75" fill="#4e4e4e"/><rect x="1621.69" y="464.64" width="7.63" height="102.75" fill="#b8b8b8"/><rect x="1636.4" y="464.64" width="6.6" height="102.75" fill="#9d9d9d"/><rect x="1662.8" y="464.64" width="11.56" height="102.75" fill="#878787"/><rect x="1678.4" y="464.64" width="10.9" height="102.75" fill="#878787"/></g>
<g filter="url(#fm)"><rect x="1283.7" y="596.12" width="405.6" height="32" fill="#808080"/><rect x="1283.7" y="596.12" width="43.72" height="32" fill="#666666"/><rect x="1327.42" y="596.12" width="27.45" height="32" fill="#9f9f9f"/><rect x="1343.89" y="596.12" width="10.98" height="32" fill="#6c6c6c"/><rect x="1354.87" y="596.12" width="25.63" height="32" fill="#8f8f8f"/><rect x="1376.66" y="596.12" width="3.84" height="32" fill="#666666"/><rect x="1380.5" y="596.12" width="15.05" height="32" fill="#c2c2c2"/><rect x="1380.5" y="596.12" width="4.51" height="32" fill="#b5b5b5"/><rect x="1395.55" y="596.12" width="21.95" height="32" fill="#9f9f9f"/><rect x="1428.86" y="596.12" width="7.23" height="32" fill="#464646"/><rect x="1436.09" y="596.12" width="2.06" height="32" fill="#000000"/><rect x="1438.15" y="596.12" width="21.45" height="32" fill="#535353"/><rect x="1459.6" y="596.12" width="15.4" height="32" fill="#535353"/><rect x="1462.68" y="596.12" width="1.54" height="32" fill="#737373"/><rect x="1475" y="596.12" width="16.8" height="32" fill="#595959"/><rect x="1491.8" y="596.12" width="15.2" height="32" fill="#595959"/><rect x="1507" y="596.12" width="21.24" height="32" fill="#737373"/><rect x="1528.24" y="596.12" width="23.43" height="32" fill="#a6a6a6"/><rect x="1551.67" y="596.12" width="7.33" height="32" fill="#535353"/><rect x="1559" y="596.12" width="14.6" height="32" fill="#9f9f9f"/><rect x="1573.6" y="596.12" width="13.7" height="32" fill="#999999"/><rect x="1587.3" y="596.12" width="17.85" height="32" fill="#606060"/><rect x="1605.15" y="596.12" width="5.09" height="32" fill="#262626"/><rect x="1611.51" y="596.12" width="17.82" height="32" fill="#ececec"/><rect x="1630.6" y="596.12" width="5.8" height="32" fill="#bfbfbf"/><rect x="1636.4" y="596.12" width="26.4" height="32" fill="#666666"/><rect x="1662.8" y="596.12" width="11.56" height="32" fill="#6c6c6c"/><rect x="1678.4" y="596.12" width="10.9" height="32" fill="#9f9f9f"/></g>
<g filter="url(#fr)"><rect x="1283.7" y="636.57" width="405.6" height="102.75" fill="#808080"/><rect x="1283.7" y="636.57" width="43.72" height="102.75" fill="#626262"/><rect x="1312.12" y="636.57" width="10.93" height="102.75" fill="#4e4e4e"/><rect x="1327.42" y="636.57" width="27.45" height="102.75" fill="#9d9d9d"/><rect x="1341.14" y="636.57" width="13.72" height="102.75" fill="#737373"/><rect x="1354.87" y="636.57" width="25.63" height="102.75" fill="#979797"/><rect x="1374.09" y="636.57" width="6.41" height="102.75" fill="#4e4e4e"/><rect x="1380.5" y="636.57" width="15.05" height="102.75" fill="#b1b1b1"/><rect x="1395.55" y="636.57" width="21.95" height="102.75" fill="#9d9d9d"/><rect x="1417.5" y="636.57" width="6.19" height="102.75" fill="#919191"/><rect x="1429.89" y="636.57" width="8.26" height="102.75" fill="#474747"/><rect x="1438.15" y="636.57" width="21.45" height="102.75" fill="#787878"/><rect x="1459.6" y="636.57" width="15.4" height="102.75" fill="#787878"/><rect x="1475" y="636.57" width="16.8" height="102.75" fill="#737373"/><rect x="1491.8" y="636.57" width="15.2" height="102.75" fill="#6e6e6e"/><rect x="1507" y="636.57" width="21.24" height="102.75" fill="#737373"/><rect x="1528.24" y="636.57" width="23.43" height="102.75" fill="#979797"/><rect x="1551.67" y="636.57" width="7.33" height="102.75" fill="#626262"/><rect x="1559" y="636.57" width="14.6" height="102.75" fill="#919191"/><rect x="1573.6" y="636.57" width="13.7" height="102.75" fill="#8c8c8c"/><rect x="1587.3" y="636.57" width="17.85" height="102.75" fill="#787878"/><rect x="1592.65" y="636.57" width="5.36" height="102.75" fill="#5b5b5b"/><rect x="1605.15" y="636.57" width="5.09" height="102.75" fill="#626262"/><rect x="1611.51" y="636.57" width="16.54" height="102.75" fill="#f5f5f5"/><rect x="1628.05" y="636.57" width="2.55" height="102.75" fill="#9d9d9d"/><rect x="1630.6" y="636.57" width="5.8" height="102.75" fill="#878787"/><rect x="1636.4" y="636.57" width="26.4" height="102.75" fill="#787878"/><rect x="1662.8" y="636.57" width="11.56" height="102.75" fill="#787878"/><rect x="1678.4" y="636.57" width="10.9" height="102.75" fill="#8c8c8c"/></g>
<g filter="url(#fm)"><rect x="1283.7" y="768.03" width="405.6" height="32" fill="#808080"/><rect x="1283.7" y="768.03" width="43.72" height="32" fill="#838383"/><rect x="1301.19" y="768.03" width="13.12" height="32" fill="#797979"/><rect x="1327.42" y="768.03" width="27.45" height="32" fill="#7c7c7c"/><rect x="1354.87" y="768.03" width="25.63" height="32" fill="#878787"/><rect x="1380.5" y="768.03" width="15.05" height="32" fill="#7c7c7c"/><rect x="1417.5" y="768.03" width="20.65" height="32" fill="#636363"/><rect x="1438.15" y="768.03" width="21.45" height="32" fill="#6b6b6b"/><rect x="1459.6" y="768.03" width="15.4" height="32" fill="#6c6c6c"/><rect x="1475" y="768.03" width="16.8" height="32" fill="#707070"/><rect x="1491.8" y="768.03" width="15.2" height="32" fill="#797979"/><rect x="1507" y="768.03" width="21.24" height="32" fill="#878787"/><rect x="1528.24" y="768.03" width="23.43" height="32" fill="#8c8c8c"/><rect x="1551.67" y="768.03" width="7.33" height="32" fill="#868686"/><rect x="1559" y="768.03" width="14.6" height="32" fill="#858585"/><rect x="1573.6" y="768.03" width="13.7" height="32" fill="#858585"/><rect x="1587.3" y="768.03" width="17.85" height="32" fill="#868686"/><rect x="1605.15" y="768.03" width="25.45" height="32" fill="#8c8c8c"/><rect x="1630.6" y="768.03" width="5.8" height="32" fill="#878787"/><rect x="1636.4" y="768.03" width="26.4" height="32" fill="#878787"/><rect x="1662.8" y="768.03" width="11.56" height="32" fill="#878787"/><rect x="1674.36" y="768.03" width="4.04" height="32" fill="#878787"/><rect x="1678.4" y="768.03" width="10.9" height="32" fill="#8f8f8f"/></g>
<g filter="url(#fr)"><rect x="1283.7" y="808.49" width="405.6" height="102.75" fill="#808080"/><rect x="1283.7" y="808.49" width="43.72" height="102.75" fill="#767676"/><rect x="1314.3" y="808.49" width="8.74" height="102.75" fill="#626262"/><rect x="1327.42" y="808.49" width="27.45" height="102.75" fill="#7c7c7c"/><rect x="1327.42" y="808.49" width="2.75" height="102.75" fill="#9d9d9d"/><rect x="1335.65" y="808.49" width="5.49" height="102.75" fill="#8c8c8c"/><rect x="1348.01" y="808.49" width="4.12" height="102.75" fill="#9d9d9d"/><rect x="1354.87" y="808.49" width="25.63" height="102.75" fill="#878787"/><rect x="1376.66" y="808.49" width="3.84" height="102.75" fill="#6e6e6e"/><rect x="1380.5" y="808.49" width="15.05" height="102.75" fill="#919191"/><rect x="1395.55" y="808.49" width="21.95" height="102.75" fill="#898989"/><rect x="1417.5" y="808.49" width="20.65" height="102.75" fill="#838383"/><rect x="1417.5" y="808.49" width="2.06" height="102.75" fill="#9d9d9d"/><rect x="1429.89" y="808.49" width="6.2" height="102.75" fill="#6e6e6e"/><rect x="1442.44" y="808.49" width="4.29" height="102.75" fill="#919191"/><rect x="1459.6" y="808.49" width="15.4" height="102.75" fill="#838383"/><rect x="1467.3" y="808.49" width="7.7" height="102.75" fill="#979797"/><rect x="1475" y="808.49" width="16.8" height="102.75" fill="#818181"/><rect x="1491.8" y="808.49" width="15.2" height="102.75" fill="#767676"/><rect x="1507" y="808.49" width="10.62" height="102.75" fill="#8c8c8c"/><rect x="1528.24" y="808.49" width="23.43" height="102.75" fill="#818181"/><rect x="1551.67" y="808.49" width="7.33" height="102.75" fill="#7c7c7c"/><rect x="1559" y="808.49" width="14.6" height="102.75" fill="#7e7e7e"/><rect x="1566.3" y="808.49" width="5.84" height="102.75" fill="#626262"/><rect x="1573.6" y="808.49" width="13.7" height="102.75" fill="#818181"/><rect x="1587.3" y="808.49" width="1.79" height="102.75" fill="#a4a4a4"/><rect x="1605.15" y="808.49" width="3.82" height="102.75" fill="#9d9d9d"/><rect x="1636.4" y="808.49" width="26.4" height="102.75" fill="#7e7e7e"/><rect x="1636.4" y="808.49" width="7.92" height="102.75" fill="#979797"/><rect x="1654.88" y="808.49" width="5.28" height="102.75" fill="#787878"/><rect x="1662.8" y="808.49" width="11.56" height="102.75" fill="#878787"/><rect x="1678.4" y="808.49" width="10.9" height="102.75" fill="#919191"/></g>
<g filter="url(#fm)"><rect x="1283.7" y="939.95" width="405.6" height="32" fill="#808080"/><rect x="1283.7" y="939.95" width="43.72" height="32" fill="#828282"/><rect x="1327.42" y="939.95" width="27.45" height="32" fill="#7c7c7c"/><rect x="1354.87" y="939.95" width="25.63" height="32" fill="#838383"/><rect x="1376.66" y="939.95" width="3.84" height="32" fill="#bfbfbf"/><rect x="1380.5" y="939.95" width="15.05" height="32" fill="#7c7c7c"/><rect x="1395.55" y="939.95" width="21.95" height="32" fill="#7c7c7c"/><rect x="1417.5" y="939.95" width="20.65" height="32" fill="#595959"/><rect x="1438.15" y="939.95" width="21.45" height="32" fill="#666666"/><rect x="1459.6" y="939.95" width="15.4" height="32" fill="#8c8c8c"/><rect x="1459.6" y="939.95" width="12.32" height="32" fill="#b5b5b5"/><rect x="1475" y="939.95" width="16.8" height="32" fill="#737373"/><rect x="1491.8" y="939.95" width="15.2" height="32" fill="#787878"/><rect x="1507" y="939.95" width="21.24" height="32" fill="#868686"/><rect x="1523.99" y="939.95" width="4.25" height="32" fill="#191919"/><rect x="1528.24" y="939.95" width="23.43" height="32" fill="#878787"/><rect x="1528.24" y="939.95" width="4.69" height="32" fill="#bfbfbf"/><rect x="1587.3" y="939.95" width="17.85" height="32" fill="#828282"/><rect x="1605.15" y="939.95" width="6.36" height="32" fill="#131313"/><rect x="1612.78" y="939.95" width="8.91" height="32" fill="#868686"/><rect x="1622.96" y="939.95" width="6.36" height="32" fill="#b9b9b9"/><rect x="1636.4" y="939.95" width="26.4" height="32" fill="#838383"/><rect x="1662.8" y="939.95" width="11.56" height="32" fill="#838383"/><rect x="1678.4" y="939.95" width="10.9" height="32" fill="#878787"/></g>
<g filter="url(#fr)"><rect x="1283.7" y="980.4" width="405.6" height="102.75" fill="#808080"/><rect x="1283.7" y="980.4" width="43.72" height="102.75" fill="#787878"/><rect x="1314.3" y="980.4" width="8.74" height="102.75" fill="#626262"/><rect x="1327.42" y="980.4" width="27.45" height="102.75" fill="#7e7e7e"/><rect x="1354.87" y="980.4" width="25.63" height="102.75" fill="#838383"/><rect x="1377.94" y="980.4" width="2.56" height="102.75" fill="#aaaaaa"/><rect x="1438.15" y="980.4" width="21.45" height="102.75" fill="#818181"/><rect x="1459.6" y="980.4" width="15.4" height="102.75" fill="#8c8c8c"/><rect x="1459.6" y="980.4" width="10.78" height="102.75" fill="#b1b1b1"/><rect x="1475" y="980.4" width="16.8" height="102.75" fill="#7e7e7e"/><rect x="1523.99" y="980.4" width="4.25" height="102.75" fill="#626262"/><rect x="1528.24" y="980.4" width="4.69" height="102.75" fill="#c6c6c6"/><rect x="1551.67" y="980.4" width="7.33" height="102.75" fill="#7e7e7e"/><rect x="1566.3" y="980.4" width="4.38" height="102.75" fill="#686868"/><rect x="1605.15" y="980.4" width="5.09" height="102.75" fill="#555555"/><rect x="1619.15" y="1000.95" width="7.63" height="82.2" fill="#c6c6c6"/><rect x="1678.4" y="980.4" width="10.9" height="102.75" fill="#838383"/></g>
<g filter="url(#fm)"><rect x="1283.7" y="1111.88" width="405.6" height="32" fill="#808080"/><rect x="1283.7" y="1111.88" width="43.72" height="32" fill="#757575"/><rect x="1327.42" y="1111.88" width="27.45" height="32" fill="#797979"/><rect x="1354.87" y="1111.88" width="25.63" height="32" fill="#bfbfbf"/><rect x="1366.4" y="1111.88" width="2.56" height="32" fill="#c9c9c9"/><rect x="1380.5" y="1111.88" width="15.05" height="32" fill="#7a7a7a"/><rect x="1395.55" y="1111.88" width="21.95" height="32" fill="#787878"/><rect x="1417.5" y="1111.88" width="20.65" height="32" fill="#636363"/><rect x="1438.15" y="1111.88" width="21.45" height="32" fill="#6c6c6c"/><rect x="1457.88" y="1111.88" width="1.72" height="32" fill="#b2b2b2"/><rect x="1459.6" y="1111.88" width="15.4" height="32" fill="#6c6c6c"/><rect x="1475" y="1111.88" width="16.8" height="32" fill="#707070"/><rect x="1491.8" y="1111.88" width="4.56" height="32" fill="#757575"/><rect x="1496.36" y="1111.88" width="3.04" height="32" fill="#acacac"/><rect x="1500.16" y="1111.88" width="6.84" height="32" fill="#000000"/><rect x="1507" y="1111.88" width="21.24" height="32" fill="#868686"/><rect x="1528.24" y="1111.88" width="23.43" height="32" fill="#868686"/><rect x="1528.24" y="1111.88" width="1.87" height="32" fill="#a6a6a6"/><rect x="1551.67" y="1111.88" width="7.33" height="32" fill="#838383"/><rect x="1559" y="1111.88" width="13.14" height="32" fill="#bfbfbf"/><rect x="1573.6" y="1111.88" width="13.7" height="32" fill="#7c7c7c"/><rect x="1587.3" y="1111.88" width="17.85" height="32" fill="#7c7c7c"/><rect x="1598.01" y="1111.88" width="7.14" height="32" fill="#060606"/><rect x="1605.15" y="1111.88" width="25.45" height="32" fill="#868686"/><rect x="1605.15" y="1111.88" width="5.09" height="32" fill="#191919"/><rect x="1610.24" y="1111.88" width="5.09" height="32" fill="#737373"/><rect x="1636.4" y="1111.88" width="26.4" height="32" fill="#838383"/><rect x="1662.8" y="1111.88" width="11.56" height="32" fill="#838383"/><rect x="1678.4" y="1111.88" width="10.9" height="32" fill="#8a8a8a"/></g>
<g filter="url(#frc)"><rect x="1283.7" y="1152.33" width="405.6" height="102.75" fill="#808080"/><rect x="1283.7" y="1152.33" width="43.72" height="102.75" fill="#787878"/><rect x="1292.44" y="1152.33" width="4.37" height="102.75" fill="#8c8c8c"/><rect x="1301.19" y="1152.33" width="4.37" height="102.75" fill="#6e6e6e"/><rect x="1312.12" y="1152.33" width="10.93" height="102.75" fill="#626262"/><rect x="1341.14" y="1152.33" width="2.74" height="102.75" fill="#737373"/><rect x="1348.01" y="1152.33" width="2.74" height="102.75" fill="#8c8c8c"/><rect x="1354.87" y="1152.33" width="25.63" height="102.75" fill="#9d9d9d"/><rect x="1354.87" y="1152.33" width="17.94" height="102.75" fill="#b1b1b1"/><rect x="1354.87" y="1172.88" width="15.38" height="71.93" fill="#bfbfbf"/><rect x="1395.55" y="1152.33" width="21.95" height="102.75" fill="#7e7e7e"/><rect x="1406.52" y="1152.33" width="4.39" height="102.75" fill="#737373"/><rect x="1427.82" y="1152.33" width="6.2" height="102.75" fill="#6e6e6e"/><rect x="1438.15" y="1152.33" width="21.45" height="102.75" fill="#818181"/><rect x="1457.88" y="1152.33" width="1.72" height="102.75" fill="#aaaaaa"/><rect x="1459.6" y="1152.33" width="15.4" height="102.75" fill="#838383"/><rect x="1459.6" y="1152.33" width="3.08" height="102.75" fill="#6e6e6e"/><rect x="1500.92" y="1152.33" width="6.08" height="102.75" fill="#313131"/><rect x="1507" y="1152.33" width="21.24" height="102.75" fill="#7e7e7e"/><rect x="1528.24" y="1152.33" width="23.43" height="102.75" fill="#828282"/><rect x="1551.67" y="1152.33" width="7.33" height="102.75" fill="#7a7a7a"/><rect x="1559" y="1152.33" width="14.6" height="102.75" fill="#878787"/><rect x="1559" y="1152.33" width="8.76" height="102.75" fill="#b8b8b8"/><rect x="1587.3" y="1152.33" width="1.79" height="102.75" fill="#9d9d9d"/><rect x="1597.12" y="1152.33" width="8.03" height="102.75" fill="#393939"/><rect x="1605.15" y="1152.33" width="25.45" height="102.75" fill="#818181"/><rect x="1605.15" y="1152.33" width="5.09" height="102.75" fill="#474747"/><rect x="1636.4" y="1152.33" width="6.6" height="102.75" fill="#b1b1b1"/><rect x="1662.8" y="1152.33" width="11.56" height="102.75" fill="#818181"/><rect x="1678.4" y="1152.33" width="10.9" height="102.75" fill="#818181"/></g>
<g filter="url(#fm)"><rect x="1283.7" y="1283.79" width="405.6" height="32" fill="#808080"/><rect x="1283.7" y="1283.79" width="43.72" height="32" fill="#7a7a7a"/><rect x="1327.42" y="1283.79" width="27.45" height="32" fill="#797979"/><rect x="1354.87" y="1283.79" width="25.63" height="32" fill="#838383"/><rect x="1380.5" y="1283.79" width="15.05" height="32" fill="#7d7d7d"/><rect x="1395.55" y="1283.79" width="21.95" height="32" fill="#797979"/><rect x="1417.5" y="1283.79" width="20.65" height="32" fill="#606060"/><rect x="1438.15" y="1283.79" width="21.45" height="32" fill="#696969"/><rect x="1459.6" y="1283.79" width="15.4" height="32" fill="#b9b9b9"/><rect x="1475" y="1283.79" width="16.8" height="32" fill="#707070"/><rect x="1491.8" y="1283.79" width="15.2" height="32" fill="#737373"/><rect x="1507" y="1283.79" width="21.24" height="32" fill="#878787"/><rect x="1528.24" y="1283.79" width="23.43" height="32" fill="#868686"/><rect x="1605.15" y="1283.79" width="25.45" height="32" fill="#878787"/><rect x="1636.4" y="1283.79" width="26.4" height="32" fill="#b9b9b9"/><rect x="1662.8" y="1283.79" width="11.56" height="32" fill="#868686"/><rect x="1678.4" y="1283.79" width="10.9" height="32" fill="#8a8a8a"/></g>
<g filter="url(#fr)"><rect x="1283.7" y="1324.24" width="405.6" height="102.75" fill="#808080"/><rect x="1283.7" y="1324.24" width="43.72" height="102.75" fill="#767676"/><rect x="1312.12" y="1324.24" width="10.93" height="102.75" fill="#626262"/><rect x="1327.42" y="1324.24" width="27.45" height="102.75" fill="#7e7e7e"/><rect x="1338.4" y="1324.24" width="5.49" height="102.75" fill="#6e6e6e"/><rect x="1348.01" y="1324.24" width="2.74" height="102.75" fill="#8c8c8c"/><rect x="1376.66" y="1324.24" width="3.84" height="102.75" fill="#737373"/><rect x="1408.72" y="1324.24" width="4.39" height="102.75" fill="#787878"/><rect x="1414.21" y="1324.24" width="3.29" height="102.75" fill="#919191"/><rect x="1429.89" y="1324.24" width="6.2" height="102.75" fill="#6e6e6e"/><rect x="1459.6" y="1324.24" width="15.4" height="102.75" fill="#c6c6c6"/><rect x="1475" y="1324.24" width="16.8" height="102.75" fill="#7c7c7c"/><rect x="1491.8" y="1324.24" width="15.2" height="102.75" fill="#7e7e7e"/><rect x="1507" y="1324.24" width="8.5" height="102.75" fill="#919191"/><rect x="1551.67" y="1324.24" width="7.33" height="102.75" fill="#787878"/><rect x="1564.84" y="1324.24" width="5.84" height="102.75" fill="#626262"/><rect x="1573.6" y="1324.24" width="13.7" height="102.75" fill="#7e7e7e"/><rect x="1587.3" y="1324.24" width="17.85" height="102.75" fill="#7e7e7e"/><rect x="1605.15" y="1324.24" width="25.45" height="102.75" fill="#7c7c7c"/><rect x="1625.51" y="1324.24" width="5.09" height="102.75" fill="#6e6e6e"/><rect x="1636.4" y="1324.24" width="26.4" height="102.75" fill="#8c8c8c"/><rect x="1636.4" y="1332.46" width="26.4" height="94.53" fill="#a7a7a7"/><rect x="1636.4" y="1332.46" width="11.88" height="94.53" fill="#c6c6c6"/><rect x="1662.8" y="1324.24" width="11.56" height="102.75" fill="#838383"/><rect x="1674.36" y="1324.24" width="4.04" height="102.75" fill="#787878"/><rect x="1678.4" y="1324.24" width="10.9" height="102.75" fill="#878787"/></g>
<g filter="url(#fm)"><rect x="1283.7" y="1455.71" width="405.6" height="32" fill="#808080"/><rect x="1283.7" y="1455.71" width="43.72" height="32" fill="#707070"/><rect x="1283.7" y="1455.71" width="13.12" height="32" fill="#868686"/><rect x="1327.42" y="1455.71" width="27.45" height="32" fill="#6c6c6c"/><rect x="1354.87" y="1455.71" width="25.63" height="32" fill="#737373"/><rect x="1354.87" y="1455.71" width="10.25" height="32" fill="#868686"/><rect x="1380.5" y="1455.71" width="15.05" height="32" fill="#707070"/><rect x="1395.55" y="1455.71" width="21.95" height="32" fill="#707070"/><rect x="1417.5" y="1455.71" width="20.65" height="32" fill="#4c4c4c"/><rect x="1438.15" y="1455.71" width="21.45" height="32" fill="#b5b5b5"/><rect x="1459.6" y="1455.71" width="15.4" height="32" fill="#666666"/><rect x="1459.6" y="1455.71" width="3.85" height="32" fill="#060606"/><rect x="1475" y="1455.71" width="16.8" height="32" fill="#6c6c6c"/><rect x="1486.76" y="1455.71" width="5.04" height="32" fill="#a6a6a6"/><rect x="1491.8" y="1455.71" width="15.2" height="32" fill="#666666"/><rect x="1507" y="1455.71" width="21.24" height="32" fill="#797979"/><rect x="1528.24" y="1455.71" width="23.43" height="32" fill="#7c7c7c"/><rect x="1528.24" y="1455.71" width="7.03" height="32" fill="#999999"/><rect x="1551.67" y="1455.71" width="7.33" height="32" fill="#737373"/><rect x="1559" y="1455.71" width="14.6" height="32" fill="#737373"/><rect x="1573.6" y="1455.71" width="13.7" height="32" fill="#737373"/><rect x="1581.82" y="1455.71" width="4.11" height="32" fill="#333333"/><rect x="1585.93" y="1455.71" width="1.37" height="32" fill="#808080"/><rect x="1597.12" y="1455.71" width="8.03" height="32" fill="#060606"/><rect x="1605.15" y="1455.71" width="25.45" height="32" fill="#878787"/><rect x="1625.51" y="1455.71" width="5.09" height="32" fill="#b2b2b2"/><rect x="1630.6" y="1455.71" width="5.8" height="32" fill="#b9b9b9"/><rect x="1636.4" y="1455.71" width="26.4" height="32" fill="#8c8c8c"/><rect x="1657.52" y="1455.71" width="5.28" height="32" fill="#737373"/><rect x="1662.8" y="1455.71" width="11.56" height="32" fill="#797979"/><rect x="1678.4" y="1455.71" width="10.9" height="32" fill="#9f9f9f"/><rect x="1678.4" y="1455.71" width="4.36" height="32" fill="#757575"/></g>
<g filter="url(#fr)"><rect x="1283.7" y="1496.16" width="405.6" height="102.75" fill="#808080"/><rect x="1283.7" y="1496.16" width="43.72" height="102.75" fill="#838383"/><rect x="1292.44" y="1496.16" width="4.37" height="102.75" fill="#919191"/><rect x="1309.93" y="1496.16" width="6.56" height="102.75" fill="#787878"/><rect x="1316.49" y="1496.16" width="8.74" height="102.75" fill="#555555"/><rect x="1341.14" y="1496.16" width="2.74" height="102.75" fill="#686868"/><rect x="1348.01" y="1496.16" width="2.74" height="102.75" fill="#9d9d9d"/><rect x="1354.87" y="1496.16" width="25.63" height="102.75" fill="#878787"/><rect x="1362.56" y="1496.16" width="3.84" height="102.75" fill="#979797"/><rect x="1372.81" y="1496.16" width="7.69" height="102.75" fill="#626262"/><rect x="1380.5" y="1496.16" width="15.05" height="102.75" fill="#838383"/><rect x="1386.52" y="1496.16" width="4.51" height="102.75" fill="#9d9d9d"/><rect x="1395.55" y="1496.16" width="21.95" height="102.75" fill="#838383"/><rect x="1429.89" y="1496.16" width="8.26" height="102.75" fill="#626262"/><rect x="1438.15" y="1496.16" width="21.45" height="102.75" fill="#b8b8b8"/><rect x="1459.6" y="1496.16" width="15.4" height="102.75" fill="#787878"/><rect x="1459.6" y="1496.16" width="4.62" height="102.75" fill="#1a1a1a"/><rect x="1486.76" y="1496.16" width="5.04" height="102.75" fill="#a4a4a4"/><rect x="1491.8" y="1496.16" width="15.2" height="102.75" fill="#7c7c7c"/><rect x="1491.8" y="1496.16" width="6.08" height="102.75" fill="#555555"/><rect x="1507" y="1496.16" width="21.24" height="102.75" fill="#838383"/><rect x="1511.25" y="1496.16" width="6.37" height="102.75" fill="#9d9d9d"/><rect x="1528.24" y="1496.16" width="9.37" height="102.75" fill="#979797"/><rect x="1551.67" y="1496.16" width="7.33" height="102.75" fill="#555555"/><rect x="1559" y="1496.16" width="14.6" height="102.75" fill="#7c7c7c"/><rect x="1559" y="1496.16" width="5.84" height="102.75" fill="#979797"/><rect x="1584.56" y="1496.16" width="2.74" height="102.75" fill="#6e6e6e"/><rect x="1587.3" y="1496.16" width="17.85" height="102.75" fill="#7c7c7c"/><rect x="1596.22" y="1496.16" width="8.92" height="102.75" fill="#393939"/><rect x="1605.15" y="1496.16" width="25.45" height="102.75" fill="#858585"/><rect x="1605.15" y="1496.16" width="5.09" height="102.75" fill="#9d9d9d"/><rect x="1630.6" y="1496.16" width="5.8" height="102.75" fill="#878787"/><rect x="1636.4" y="1496.16" width="26.4" height="102.75" fill="#878787"/><rect x="1636.4" y="1496.16" width="10.56" height="102.75" fill="#a4a4a4"/><rect x="1674.36" y="1496.16" width="4.04" height="102.75" fill="#6e6e6e"/><rect x="1678.4" y="1496.16" width="10.9" height="102.75" fill="#8c8c8c"/><rect x="1678.4" y="1496.16" width="4.36" height="102.75" fill="#787878"/></g>
<g filter="url(#fm)"><rect x="1283.7" y="1627.63" width="405.6" height="32" fill="#808080"/><rect x="1283.7" y="1627.63" width="43.72" height="32" fill="#7c7c7c"/><rect x="1327.42" y="1627.63" width="27.45" height="32" fill="#393939"/><rect x="1354.87" y="1627.63" width="25.63" height="32" fill="#828282"/><rect x="1376.66" y="1627.63" width="3.84" height="32" fill="#737373"/><rect x="1380.5" y="1627.63" width="15.05" height="32" fill="#797979"/><rect x="1395.55" y="1627.63" width="21.95" height="32" fill="#a6a6a6"/><rect x="1417.5" y="1627.63" width="20.65" height="32" fill="#939393"/><rect x="1438.15" y="1627.63" width="21.45" height="32" fill="#939393"/><rect x="1459.6" y="1627.63" width="15.4" height="32" fill="#797979"/><rect x="1459.6" y="1627.63" width="7.7" height="32" fill="#999999"/><rect x="1475" y="1627.63" width="16.8" height="32" fill="#737373"/><rect x="1491.8" y="1627.63" width="15.2" height="32" fill="#404040"/><rect x="1507" y="1627.63" width="21.24" height="32" fill="#464646"/><rect x="1528.24" y="1627.63" width="23.43" height="32" fill="#8c8c8c"/><rect x="1546.98" y="1627.63" width="4.69" height="32" fill="#cccccc"/><rect x="1551.67" y="1627.63" width="7.33" height="32" fill="#393939"/><rect x="1573.6" y="1627.63" width="13.7" height="32" fill="#7c7c7c"/><rect x="1587.3" y="1627.63" width="17.85" height="32" fill="#737373"/><rect x="1605.15" y="1627.63" width="25.45" height="32" fill="#acacac"/><rect x="1605.15" y="1627.63" width="6.36" height="32" fill="#595959"/><rect x="1630.6" y="1627.63" width="5.8" height="32" fill="#bfbfbf"/><rect x="1636.4" y="1627.63" width="13.2" height="32" fill="#d2d2d2"/><rect x="1649.6" y="1627.63" width="5.28" height="32" fill="#999999"/><rect x="1654.88" y="1627.63" width="7.92" height="32" fill="#595959"/><rect x="1662.8" y="1627.63" width="11.56" height="32" fill="#4c4c4c"/><rect x="1662.8" y="1627.63" width="2.31" height="32" fill="#666666"/><rect x="1674.36" y="1627.63" width="4.04" height="32" fill="#bfbfbf"/><rect x="1678.4" y="1627.63" width="10.9" height="32" fill="#a6a6a6"/></g>
<g filter="url(#frc)"><rect x="1283.7" y="1668.08" width="405.6" height="102.75" fill="#808080"/><rect x="1283.7" y="1668.08" width="43.72" height="102.75" fill="#767676"/><rect x="1314.3" y="1668.08" width="10.93" height="102.75" fill="#5b5b5b"/><rect x="1327.42" y="1668.08" width="27.45" height="102.75" fill="#5a5a5a"/><rect x="1376.66" y="1668.08" width="3.84" height="102.75" fill="#626262"/><rect x="1380.5" y="1668.08" width="15.05" height="102.75" fill="#8c8c8c"/><rect x="1395.55" y="1668.08" width="21.95" height="102.75" fill="#a4a4a4"/><rect x="1423.69" y="1668.08" width="14.45" height="102.75" fill="#9d9d9d"/><rect x="1438.15" y="1668.08" width="21.45" height="102.75" fill="#919191"/><rect x="1459.6" y="1668.08" width="15.4" height="102.75" fill="#878787"/><rect x="1459.6" y="1668.08" width="9.24" height="102.75" fill="#b1b1b1"/><rect x="1475" y="1668.08" width="16.8" height="102.75" fill="#7c7c7c"/><rect x="1491.8" y="1668.08" width="15.2" height="102.75" fill="#555555"/><rect x="1507" y="1668.08" width="21.24" height="102.75" fill="#555555"/><rect x="1528.24" y="1668.08" width="23.43" height="102.75" fill="#8c8c8c"/><rect x="1546.98" y="1668.08" width="4.69" height="102.75" fill="#ededed"/><rect x="1551.67" y="1668.08" width="7.33" height="102.75" fill="#393939"/><rect x="1559" y="1668.08" width="5.84" height="102.75" fill="#878787"/><rect x="1566.3" y="1668.08" width="5.84" height="102.75" fill="#5b5b5b"/><rect x="1587.3" y="1668.08" width="17.85" height="102.75" fill="#838383"/><rect x="1605.15" y="1668.08" width="25.45" height="102.75" fill="#8c8c8c"/><rect x="1605.15" y="1668.08" width="6.36" height="102.75" fill="#787878"/><rect x="1611.51" y="1668.08" width="11.45" height="102.75" fill="#9d9d9d"/><rect x="1630.6" y="1668.08" width="5.8" height="102.75" fill="#9d9d9d"/><rect x="1636.4" y="1668.08" width="15.84" height="102.75" fill="#f5f5f5"/><rect x="1652.24" y="1668.08" width="2.64" height="102.75" fill="#9d9d9d"/><rect x="1654.88" y="1668.08" width="7.92" height="102.75" fill="#555555"/><rect x="1662.8" y="1668.08" width="11.56" height="102.75" fill="#555555"/><rect x="1674.36" y="1668.08" width="4.04" height="102.75" fill="#b8b8b8"/><rect x="1678.4" y="1668.08" width="10.9" height="102.75" fill="#878787"/></g>
<g filter="url(#fm)"><rect x="1283.7" y="1799.55" width="405.6" height="32" fill="#808080"/><rect x="1283.7" y="1799.55" width="43.72" height="32" fill="#757575"/><rect x="1283.7" y="1799.55" width="13.12" height="32" fill="#858585"/><rect x="1327.42" y="1799.55" width="27.45" height="32" fill="#757575"/><rect x="1354.87" y="1799.55" width="25.63" height="32" fill="#838383"/><rect x="1372.81" y="1799.55" width="7.69" height="32" fill="#797979"/><rect x="1380.5" y="1799.55" width="15.05" height="32" fill="#757575"/><rect x="1395.55" y="1799.55" width="21.95" height="32" fill="#787878"/><rect x="1417.5" y="1799.55" width="20.65" height="32" fill="#636363"/><rect x="1438.15" y="1799.55" width="21.45" height="32" fill="#6c6c6c"/><rect x="1459.6" y="1799.55" width="15.4" height="32" fill="#707070"/><rect x="1475" y="1799.55" width="16.8" height="32" fill="#797979"/><rect x="1491.8" y="1799.55" width="15.2" height="32" fill="#787878"/><rect x="1507" y="1799.55" width="21.24" height="32" fill="#888888"/><rect x="1528.24" y="1799.55" width="23.43" height="32" fill="#878787"/><rect x="1551.67" y="1799.55" width="7.33" height="32" fill="#838383"/><rect x="1559" y="1799.55" width="14.6" height="32" fill="#868686"/><rect x="1573.6" y="1799.55" width="13.7" height="32" fill="#858585"/><rect x="1587.3" y="1799.55" width="17.85" height="32" fill="#868686"/><rect x="1605.15" y="1799.55" width="5.09" height="32" fill="#202020"/><rect x="1612.78" y="1799.55" width="16.54" height="32" fill="#bfbfbf"/><rect x="1630.6" y="1799.55" width="5.8" height="32" fill="#868686"/><rect x="1636.4" y="1799.55" width="26.4" height="32" fill="#8a8a8a"/><rect x="1662.8" y="1799.55" width="11.56" height="32" fill="#878787"/><rect x="1678.4" y="1799.55" width="10.9" height="32" fill="#8a8a8a"/></g>
<g filter="url(#frc)"><rect x="1283.7" y="1840" width="405.6" height="102.75" fill="#808080"/><rect x="1283.7" y="1840" width="43.72" height="102.75" fill="#7a7a7a"/><rect x="1312.12" y="1840" width="8.74" height="102.75" fill="#626262"/><rect x="1327.42" y="1840" width="27.45" height="102.75" fill="#787878"/><rect x="1348.01" y="1840" width="2.74" height="102.75" fill="#8c8c8c"/><rect x="1365.12" y="1840" width="7.69" height="102.75" fill="#737373"/><rect x="1380.5" y="1840" width="4.51" height="102.75" fill="#878787"/><rect x="1386.52" y="1840" width="6.02" height="102.75" fill="#6e6e6e"/><rect x="1395.55" y="1840" width="21.95" height="102.75" fill="#878787"/><rect x="1417.5" y="1840" width="20.65" height="102.75" fill="#7c7c7c"/><rect x="1417.5" y="1840" width="2.06" height="102.75" fill="#a4a4a4"/><rect x="1438.15" y="1840" width="21.45" height="102.75" fill="#838383"/><rect x="1442.44" y="1840" width="6.44" height="102.75" fill="#9d9d9d"/><rect x="1464.22" y="1840" width="4.62" height="102.75" fill="#979797"/><rect x="1475" y="1840" width="16.8" height="102.75" fill="#838383"/><rect x="1491.8" y="1840" width="15.2" height="102.75" fill="#818181"/><rect x="1507" y="1840" width="21.24" height="102.75" fill="#787878"/><rect x="1513.37" y="1840" width="6.37" height="102.75" fill="#6e6e6e"/><rect x="1528.24" y="1840" width="23.43" height="102.75" fill="#838383"/><rect x="1528.24" y="1840" width="2.34" height="102.75" fill="#9d9d9d"/><rect x="1551.67" y="1840" width="7.33" height="102.75" fill="#7c7c7c"/><rect x="1559" y="1840" width="14.6" height="102.75" fill="#878787"/><rect x="1573.6" y="1840" width="13.7" height="102.75" fill="#858585"/><rect x="1587.3" y="1840" width="17.85" height="102.75" fill="#878787"/><rect x="1605.15" y="1840" width="5.09" height="102.75" fill="#393939"/><rect x="1612.78" y="1840" width="14" height="69.87" fill="#bbbbbb"/><rect x="1612.78" y="1909.88" width="14" height="32.88" fill="#8f8f8f"/><rect x="1636.4" y="1840" width="26.4" height="102.75" fill="#858585"/><rect x="1652.24" y="1840" width="5.28" height="102.75" fill="#787878"/><rect x="1678.4" y="1840" width="10.9" height="102.75" fill="#8c8c8c"/></g>
<path class="cl" d="M1327.42 79.38V1943.73M1354.87 79.38V1943.73M1380.5 79.38V1943.73M1395.55 79.38V1943.73M1417.5 79.38V1943.73M1438.15 79.38V1943.73M1459.6 79.38V1943.73M1475 79.38V1943.73M1491.8 79.38V1943.73M1507 79.38V1943.73M1528.24 79.38V1943.73M1551.67 79.38V1943.73M1559 79.38V1943.73M1573.6 79.38V1943.73M1587.3 79.38V1943.73M1605.15 79.38V1943.73M1630.6 79.38V1943.73M1636.4 79.38V1943.73M1662.8 79.38V1943.73M1674.36 79.38V1943.73M1678.4 79.38V1943.73"/>
<rect class="bx" x="1283.7" y="80.35" width="405.6" height="32"/>
<rect class="bx" x="1283.7" y="120.8" width="405.6" height="102.75"/>
<text class="sl" transform="translate(1272.3 151.95) rotate(-90)">RCMB24</text>
<rect class="bx" x="1283.7" y="252.27" width="405.6" height="32"/>
<rect class="bx" x="1283.7" y="292.73" width="405.6" height="102.75"/>
<text class="sl" transform="translate(1272.3 323.88) rotate(-90)">RCMB18</text>
<text class="an" x="1698.9" y="277.4">MYCN ampl.</text>
<rect class="bx" x="1283.7" y="424.19" width="405.6" height="32"/>
<rect class="bx" x="1283.7" y="464.64" width="405.6" height="102.75"/>
<text class="sl" transform="translate(1272.3 495.79) rotate(-90)">Med114FH</text>
<text class="an" x="1698.9" y="449.32">MYC ampl.</text>
<rect class="bx" x="1283.7" y="596.12" width="405.6" height="32"/>
<rect class="bx" x="1283.7" y="636.57" width="405.6" height="102.75"/>
<text class="sl" transform="translate(1272.3 667.72) rotate(-90)">Med2112FH</text>
<text class="an" x="1698.9" y="621.24">MYC ampl.</text>
<rect class="bx" x="1283.7" y="768.03" width="405.6" height="32"/>
<rect class="bx" x="1283.7" y="808.49" width="405.6" height="102.75"/>
<text class="sl" transform="translate(1272.3 839.63) rotate(-90)">Med211FH</text>
<text class="an" x="1698.9" y="793.16">MYC ampl.</text>
<rect class="bx" x="1283.7" y="939.95" width="405.6" height="32"/>
<rect class="bx" x="1283.7" y="980.4" width="405.6" height="102.75"/>
<text class="sl" transform="translate(1272.3 1011.55) rotate(-90)">Med411FH</text>
<text class="an" x="1698.9" y="965.08">MYC ampl.</text>
<rect class="bx" x="1283.7" y="1111.88" width="405.6" height="32"/>
<rect class="bx" x="1283.7" y="1152.33" width="405.6" height="102.75"/>
<text class="sl" transform="translate(1272.3 1183.48) rotate(-90)">RCMB20</text>
<text class="an" x="1698.9" y="1137">MYC ampl.</text>
<rect class="bx" x="1283.7" y="1283.79" width="405.6" height="32"/>
<rect class="bx" x="1283.7" y="1324.24" width="405.6" height="102.75"/>
<text class="sl" transform="translate(1272.3 1355.39) rotate(-90)">Icb1299</text>
<rect class="bx" x="1283.7" y="1455.71" width="405.6" height="32"/>
<rect class="bx" x="1283.7" y="1496.16" width="405.6" height="102.75"/>
<text class="sl" transform="translate(1272.3 1527.31) rotate(-90)">Icb1572</text>
<rect class="bx" x="1283.7" y="1627.63" width="405.6" height="32"/>
<rect class="bx" x="1283.7" y="1668.08" width="405.6" height="102.75"/>
<text class="sl" transform="translate(1272.3 1699.23) rotate(-90)">Med2312FH</text>
<rect class="bx" x="1283.7" y="1799.55" width="405.6" height="32"/>
<rect class="bx" x="1283.7" y="1840" width="405.6" height="102.75"/>
<text class="sl" transform="translate(1272.3 1871.15) rotate(-90)">DMB006</text>
<text class="tt" x="1486.5" y="58.48">PDX (11 samples)</text>
<text class="pl" x="1213.6" y="31.38">e</text>
<text class="ax" x="1305.56" y="1970.93">1</text>
<text class="ax" x="1341.14" y="1970.93">2</text>
<text class="ax" x="1367.68" y="1970.93">3</text>
<text class="ax" x="1388.02" y="1970.93">4</text>
<text class="ax" x="1406.52" y="1970.93">5</text>
<text class="ax" x="1427.82" y="1970.93">6</text>
<text class="ax" x="1448.88" y="1970.93">7</text>
<text class="ax" x="1467.3" y="1970.93">8</text>
<text class="ax" x="1483.1" y="1970.93">9</text>
<text class="ax" x="1517.62" y="1970.93">11</text>
<text class="ax" x="1554.93" y="1970.93">13</text>
<text class="ax" x="1581.25" y="1970.93">15</text>
<text class="ax" x="1620.08" y="1970.93">17</text>
<text class="ax" x="1649.1" y="1970.93">19</text>
<text class="ax" x="1675.18" y="1970.93">21</text>
<text class="axl" x="1241.4" y="1996.13">Chromosome</text>
<text class="ax" x="1499.4" y="1996.13">10</text>
<text class="ax" x="1539.95" y="1996.13">12</text>
<text class="ax" x="1566.7" y="1996.13">14</text>
<text class="ax" x="1597.42" y="1996.13">16</text>
<text class="ax" x="1633.5" y="1996.13">18</text>
<text class="ax" x="1661.38" y="1996.13">20</text>
<text class="ax" x="1690.45" y="1996.13">22</text>
</g>
<g id="legend">
<rect x="819.4" y="2433.4" width="121.1" height="20.6" fill="url(#cb)" stroke="#000" stroke-width="1.5"/>
<path d="M819.4 2454V2464.4M940.5 2454V2464.4" stroke="#000" stroke-width="1.4" fill="none"/>
<text class="lg" x="819.5" y="2484.4">loss</text>
<text class="lg" x="940.5" y="2484.4">gain</text>
<text class="lt" x="880" y="2510.5">Copy-number state</text>
</g>
</svg></body></html>
